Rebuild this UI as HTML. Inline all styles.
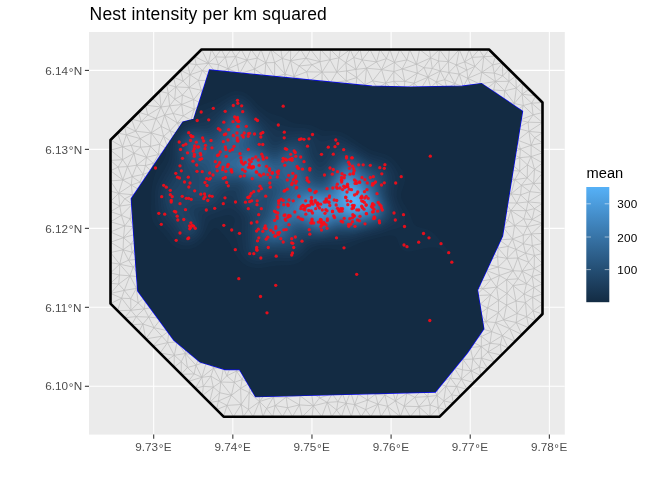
<!DOCTYPE html>
<html><head><meta charset="utf-8"><style>
html,body{margin:0;padding:0;background:#fff;}
svg{display:block}
text{font-family:"Liberation Sans",sans-serif;}
.ov,.ov2{position:absolute;left:0;top:0}
.ov{will-change:transform}
</style></head><body>
<svg width="672" height="480" viewBox="0 0 672 480">
<defs>
<clipPath id="cp"><rect x="89.0" y="32.0" width="475.79999999999995" height="402.6"/></clipPath>
<clipPath id="ci"><polygon points="209.5,70.0 372.0,86.2 410.5,87.1 462.0,86.2 481.5,83.6 522.5,111.3 502.5,236.0 477.5,290.0 483.8,328.8 467.5,352.5 435.3,392.0 255.5,396.7 239.5,369.5 225.0,369.5 200.0,362.0 173.8,340.0 137.8,291.0 136.2,270.0 131.3,198.8 183.0,122.0 193.8,119.3"/></clipPath>
<!--GRADS-->
</defs>
<rect width="672" height="480" fill="#fff"/>
<rect x="89.0" y="32.0" width="475.79999999999995" height="402.6" fill="#EBEBEB"/>
<g stroke="#fff" stroke-width="1.07" clip-path="url(#cp)">
<line x1="153.70" y1="32.0" x2="153.70" y2="434.6"/><line x1="232.83" y1="32.0" x2="232.83" y2="434.6"/><line x1="311.96" y1="32.0" x2="311.96" y2="434.6"/><line x1="391.09" y1="32.0" x2="391.09" y2="434.6"/><line x1="470.22" y1="32.0" x2="470.22" y2="434.6"/><line x1="549.35" y1="32.0" x2="549.35" y2="434.6"/>
<line x1="89.0" y1="70.40" x2="564.8" y2="70.40"/><line x1="89.0" y1="149.37" x2="564.8" y2="149.37"/><line x1="89.0" y1="228.34" x2="564.8" y2="228.34"/><line x1="89.0" y1="307.31" x2="564.8" y2="307.31"/><line x1="89.0" y1="386.28" x2="564.8" y2="386.28"/>
</g>
<polygon points="110.5,140.0 201.5,49.5 489.0,49.5 542.5,102.5 542.5,314.0 439.7,416.7 223.6,416.7 110.5,303.6" fill="#E6E6E6"/>
<path d="M434.5 170.4L451.7 159.0M324.7 225.9L323.8 240.9M388.3 100.0L379.2 115.4M166.5 84.3L173.5 77.3M469.2 49.5L479.1 49.5M438.6 61.0L440.3 71.0M289.4 383.0L281.0 366.9M423.6 323.7L436.6 338.9M353.4 155.3L350.8 170.7M337.3 93.1L354.2 96.7M519.7 171.1L527.2 177.9M479.1 49.5L489.0 49.5M495.6 322.5L509.7 328.7M528.8 327.7L521.9 334.5M259.5 401.6L248.5 409.5M350.8 170.7L353.3 184.0M466.6 280.9L448.5 282.4M365.8 351.5L364.6 367.8M282.5 115.1L295.8 100.0M372.4 382.2L380.1 365.8M268.6 142.4L281.2 128.9M444.7 79.7L447.0 88.2M521.9 334.5L515.1 341.4M243.2 416.7L233.4 416.7M177.1 341.9L167.6 342.6M146.5 157.3L153.3 163.3M394.8 283.4L393.7 298.4M283.7 171.9L295.0 183.6M517.1 313.5L525.5 302.5M495.5 81.5L502.7 75.9M297.7 340.8L308.2 352.2M233.4 416.7L223.6 416.7M283.9 325.9L294.9 310.8M428.0 77.2L430.7 87.7M206.7 361.4L201.8 377.3M393.7 298.4L395.0 311.8M481.3 346.5L490.0 343.3M159.3 181.0L168.1 186.0M356.0 86.3L354.2 96.7M452.5 357.7L450.1 340.1M322.6 212.1L338.5 211.9M297.7 354.9L309.7 365.8M353.8 297.1L367.1 285.0M164.6 307.9L171.0 297.9M110.5 293.4L121.6 298.2M339.2 158.7L350.8 170.7M422.1 226.5L421.7 239.5M503.5 186.7L502.1 178.1M352.9 142.2L367.0 143.9M201.3 90.3L211.3 95.9M135.7 131.2L140.3 138.6M464.2 185.6L463.6 198.2M522.1 94.2L516.3 88.1M352.5 353.9L364.6 367.8M342.5 393.7L335.4 383.4M449.9 172.8L450.0 184.4M185.0 310.8L199.3 309.8M399.8 49.5L406.9 59.9M366.3 338.1L380.4 339.5M379.6 241.8L392.0 225.9M481.4 358.1L479.5 367.1M196.0 172.9L210.0 173.0M428.0 77.2L432.3 68.5M161.0 171.1L164.6 163.3M378.9 284.0L393.7 298.4M477.6 228.6L476.9 241.2M430.1 383.6L427.7 396.6M356.0 86.3L364.1 93.1M213.3 269.6L224.4 253.8M199.2 185.7L211.0 185.2M132.2 252.3L130.9 244.1M317.7 385.2L323.5 367.2M202.4 70.5L217.2 74.3M384.9 395.0L387.6 406.3M517.7 140.2L520.4 149.0M481.4 336.5L479.5 328.2M479.3 114.8L492.0 114.3M516.8 203.1L526.2 210.7M210.6 323.0L226.7 338.1M331.6 416.7L336.6 410.0M408.5 225.2L421.7 239.5M354.0 382.8L345.3 380.4M389.4 381.4L380.5 387.4M132.2 252.3L123.1 249.8M424.8 100.6L435.6 116.5M227.9 324.3L238.2 323.8M470.0 313.0L474.4 321.3M420.0 211.7L436.0 211.5M185.3 353.5L181.3 361.6M145.8 338.9L154.0 327.7M308.7 383.1L294.5 365.3M331.6 416.7L327.2 402.4M255.9 283.0L267.8 269.2M199.0 117.7L190.9 120.1M534.5 208.6L526.2 210.7M220.8 382.0L210.9 376.2M519.8 157.7L519.7 171.1M293.9 76.6L309.0 81.3M378.5 184.1L380.9 201.0M254.8 298.1L266.5 283.2M181.2 374.3L181.3 361.6M532.6 297.3L533.1 310.9M157.9 228.1L155.8 242.8M231.4 395.3L227.0 405.4M188.3 381.4L181.2 374.3M394.9 91.2L384.9 92.3M407.5 116.6L408.5 127.6M485.9 321.7L498.5 312.5M174.1 367.2L174.3 355.3M155.8 242.8L154.9 256.9M198.5 269.5L198.0 284.2M517.3 128.3L510.8 120.7M420.3 89.9L430.7 87.7M531.1 145.3L531.1 156.6M523.3 243.7L531.4 233.9M472.8 359.1L470.3 347.5M323.3 311.2L336.4 312.1M198.0 284.2L198.2 297.5M240.6 388.4L249.6 383.0M542.5 122.6L528.9 131.4M238.8 284.4L240.3 295.3M448.4 61.6L456.3 64.9M144.3 308.8L138.2 303.0M353.0 242.2L365.9 239.3M170.9 242.3L184.3 226.5M227.4 283.6L227.9 297.5M339.6 254.8L350.8 255.4M185.3 241.9L197.7 254.1M450.9 269.6L448.5 282.4M194.2 109.0L190.9 120.1M110.5 262.7L119.7 264.2M378.4 172.9L393.3 171.3M253.4 242.2L253.7 255.8M241.0 82.1L241.6 102.8M504.7 90.8L516.3 88.1M364.8 184.7L378.5 184.1M437.0 395.5L438.3 383.2M508.6 161.7L511.7 153.2M132.4 194.7L131.3 185.0M495.6 322.5L502.4 335.6M392.7 366.7L409.9 368.1M503.8 101.0L494.9 103.3M198.5 269.5L212.8 253.8M280.3 158.1L283.7 171.9M370.0 49.5L362.2 59.9M437.0 395.5L438.3 407.7M278.6 382.1L281.0 366.9M394.1 212.7L408.5 225.2M210.8 212.8L224.7 213.1M286.2 397.1L299.4 404.9M422.3 295.8L434.5 296.9M142.9 324.0L136.2 316.6M297.7 340.8L297.7 354.9M436.6 184.3L449.9 172.8M498.2 267.0L499.4 275.5M238.3 172.9L255.8 172.1M190.0 74.8L189.1 87.5M241.2 404.5L240.6 388.4M422.3 310.8L435.2 309.1M521.4 185.3L511.1 193.9M372.4 382.2L380.5 387.4M161.0 171.1L151.3 171.3M466.6 280.9L465.8 296.7M285.0 74.1L290.5 60.7M180.5 70.4L187.5 63.4M280.8 390.3L293.4 390.7M452.4 98.8L440.1 95.2M254.7 226.4L269.3 228.8M281.9 142.1L296.9 143.7M317.2 90.1L322.0 83.4M130.0 218.8L133.4 226.8M495.7 56.1L502.4 62.8M239.4 73.9L247.1 60.2M110.5 252.5L123.1 249.8M269.3 170.9L283.7 171.9M480.6 251.1L465.7 253.7M207.8 121.2L199.0 117.7M378.0 404.2L387.6 406.3M476.6 97.4L484.0 91.2M480.6 251.1L484.1 243.1M474.4 321.3L479.5 328.2M310.6 49.5L320.0 61.7M294.9 325.9L310.7 326.9M392.0 113.9L392.2 128.1M309.8 197.8L324.6 184.7M508.2 348.2L501.4 355.1M280.9 354.9L297.7 354.9M239.4 73.9L254.4 69.1M379.3 130.1L379.8 143.4M142.5 250.5L138.8 259.1M408.7 309.3L406.7 326.0M124.7 225.9L123.5 237.7M435.7 242.1L436.4 256.7M129.9 275.8L118.7 284.1M362.9 384.1L372.4 382.2M339.7 185.6L350.6 200.0M521.4 185.3L520.6 194.9M133.2 267.1L129.9 275.8M345.3 380.4L350.5 391.9M389.4 381.4L372.4 382.2M118.6 193.4L124.8 198.8M168.1 186.0L185.5 185.3M353.2 338.2L364.1 325.7M507.1 258.4L498.1 248.1M507.1 144.6L511.7 153.2M466.0 213.9L462.1 225.9M379.8 253.7L393.9 239.9M252.8 337.9L254.8 354.0M389.9 49.5L386.4 58.6M379.2 115.4L392.2 128.1M322.1 72.1L322.0 83.4M385.7 83.1L377.6 88.2M378.6 267.0L394.7 255.8M430.7 87.7L440.1 95.2M201.3 90.3L189.1 87.5M280.3 253.9L283.9 268.8M376.5 61.9L366.5 68.2M509.1 69.4L508.9 81.3M213.1 297.4L227.4 283.6M395.0 311.8L406.7 326.0M507.1 258.4L517.8 258.0M223.6 416.7L227.0 405.4M147.8 115.1L156.0 118.6M311.1 158.1L309.8 170.2M212.3 157.0L226.9 169.7M217.2 74.3L230.6 82.2M241.9 256.8L253.4 242.2M245.4 371.4L242.2 379.5M339.4 339.7L339.9 354.5M193.6 99.6L181.7 104.5M437.5 129.9L451.7 129.3M233.7 355.6L241.9 338.3M231.2 49.5L241.2 49.5M200.2 356.1L201.8 347.2M323.1 352.2L323.5 367.2M241.9 115.3L253.4 130.2M252.8 309.7L269.2 309.2M400.4 416.7L387.6 406.3M511.1 193.9L505.4 202.7M513.0 270.7L499.4 275.5M500.5 163.2L492.8 158.2M146.4 265.4L140.0 276.8M452.4 98.8L454.9 83.6M535.8 95.9L542.5 102.5M527.3 226.6L514.6 225.6M252.1 325.0L267.3 324.8M262.9 416.7L259.5 401.6M300.5 86.6L294.8 92.5M317.7 385.2L308.7 383.1M542.5 102.5L542.5 112.6M467.1 389.3L460.3 396.2M463.0 359.4L471.2 370.9M242.2 379.5L240.6 388.4M508.6 161.7L500.5 163.2M283.1 239.4L296.5 226.9M471.2 370.9L479.5 367.1M460.3 396.2L453.4 403.0M511.1 193.9L516.8 203.1M174.1 367.2L167.1 360.1M184.5 283.5L185.2 297.5M342.5 393.7L350.5 391.9M309.7 144.7L322.9 142.9M183.7 145.3L198.4 142.6M168.1 186.0L169.2 197.7M420.5 144.6L421.7 155.4M167.1 360.1L160.0 353.1M280.8 390.3L269.0 383.9M110.5 140.0L122.5 146.8M225.6 102.3L227.0 114.8M471.5 87.2L463.2 86.7M323.4 337.6L339.4 339.7M436.6 338.9L434.4 352.3M542.5 263.6L534.2 268.6M309.0 81.3L308.5 92.2M239.4 311.9L238.2 323.8M522.2 271.2L513.0 270.7M352.5 269.6L366.9 270.7M168.0 284.8L184.5 283.5M249.3 392.6L240.6 388.4M469.1 331.0L479.5 328.2M477.9 141.8L479.6 157.4M378.6 353.0L393.3 340.0M340.3 49.5L338.9 57.8M456.6 346.7L450.1 340.1M269.7 256.8L267.8 269.2M150.5 146.4L159.7 144.2M488.0 352.0L481.4 358.1M230.6 82.2L241.0 82.1M353.5 283.6L367.1 285.0M380.9 201.0L394.6 197.7M345.3 380.4L337.4 366.7M453.4 403.0L443.8 400.9M379.0 214.0L394.1 212.7M198.4 142.6L212.3 157.0M293.9 76.6L299.1 66.0M408.5 127.6L420.5 127.4M227.3 144.6L240.7 129.4M350.2 49.5L345.8 62.7M436.0 211.5L450.1 212.7M132.1 176.7L131.3 185.0M444.7 79.7L454.9 83.6M211.3 242.7L226.6 241.9M409.7 143.5L420.5 144.6M151.3 171.3L145.4 165.6M423.6 323.7L437.3 323.7M183.7 145.3L175.7 156.6M322.1 72.1L330.1 59.7M436.3 226.4L451.3 228.2M181.7 104.5L169.6 105.9M451.7 129.3L462.2 113.1M239.5 197.2L252.5 200.3M209.5 402.6L219.7 392.7M420.5 337.6L436.6 338.9M282.5 416.7L275.1 405.6M146.4 265.4L149.0 256.3M253.7 255.8L267.8 269.2M514.3 112.9L523.3 105.5M375.5 394.3L367.6 390.8M240.5 213.6L253.1 214.0M338.4 283.2L339.5 296.6M189.8 128.6L198.8 130.6M213.6 368.1L221.0 358.4M283.7 171.9L296.2 172.3M308.1 228.9L324.7 225.9M507.0 293.4L498.5 300.3M266.3 199.4L283.0 198.1M401.8 98.9L407.5 116.6M136.4 288.4L130.7 298.6M133.2 267.1L128.6 260.2M297.7 354.9L308.2 352.2M151.6 191.2L168.1 186.0M185.3 353.5L174.3 355.3M339.2 158.7L353.4 155.3M264.3 88.5L268.0 102.5M258.6 388.1L257.7 376.8M505.5 169.9L508.6 161.7M519.7 171.1L527.5 164.9M282.4 87.8L281.3 100.0M224.2 200.5L224.7 213.1M324.0 269.5L338.4 283.2M234.4 382.4L242.2 379.5M310.5 239.7L324.7 225.9M122.5 146.8L134.0 153.2M465.8 296.7L470.0 313.0M497.2 201.2L505.4 202.7M255.9 155.4L255.8 172.1M171.5 212.6L184.3 226.5M523.3 243.7L525.6 253.3M409.7 49.5L406.9 59.9M209.0 112.4L211.9 104.4M452.4 98.8L463.2 86.7M353.7 211.3L364.5 227.9M199.2 185.7L210.0 173.0M267.2 353.3L266.8 368.0M138.8 233.3L123.5 237.7M378.4 297.2L393.7 298.4M159.7 144.2L163.6 136.3M268.0 102.5L270.0 114.2M469.1 331.0L467.8 339.4M325.1 381.4L337.4 366.7M379.8 143.4L392.9 156.9M161.2 126.4L151.2 132.9M295.3 254.1L296.4 268.8M210.6 323.0L227.9 324.3M146.1 295.8L144.3 308.8M408.5 225.2L422.1 226.5M274.6 62.5L282.3 58.5M280.2 284.7L282.6 297.0M210.0 173.0L227.4 186.0M502.1 178.1L514.9 179.7M179.1 326.6L197.8 324.7M282.4 87.8L290.6 84.5M322.4 171.5L324.6 184.7M264.8 76.0L264.3 88.5M285.0 74.1L274.6 62.5M240.7 129.4L253.8 143.4M528.9 131.4L534.7 137.7M324.6 184.7L324.5 198.2M240.3 295.3L254.8 298.1M110.5 221.8L124.7 225.9M494.5 361.9L488.0 352.0M251.1 49.5L261.0 49.5M321.8 416.7L327.2 402.4M384.9 395.0L380.5 387.4M228.2 68.8L218.5 64.7M166.5 84.3L187.5 63.4M353.6 113.5L351.9 127.9M522.1 94.2L523.3 105.5M364.5 298.8L366.4 312.7M475.9 267.9L480.6 251.1M254.8 354.0L267.2 353.3M461.4 379.2L462.4 369.8M366.4 312.7L364.1 325.7M161.0 107.0L168.3 93.3M167.1 360.1L174.3 355.3M282.5 115.1L295.5 127.1M140.0 182.1L141.5 191.4M235.6 56.6L247.1 60.2M272.7 416.7L262.9 416.7M283.9 268.8L295.3 254.1M393.9 239.9L394.7 255.8M446.6 409.9L439.7 416.7M136.7 165.2L132.1 176.7M294.3 296.4L311.0 311.1M286.2 397.1L280.8 390.3M110.5 180.9L110.5 170.7M309.8 170.2L322.4 171.5M421.6 171.7L422.7 183.3M481.4 358.1L481.3 346.5M152.9 346.0L145.8 338.9M326.7 95.4L311.3 101.2M131.2 145.4L140.3 138.6M124.3 290.4L121.6 298.2M138.8 233.3L147.6 238.0M502.4 62.8L494.2 73.1M495.5 81.5L493.7 89.9M337.8 267.7L350.8 255.4M450.8 115.5L451.7 129.3M195.3 388.4L201.8 377.3M364.8 184.7L378.4 172.9M408.1 382.1L409.9 368.1M232.0 363.7L223.5 367.8M110.5 252.5L119.7 264.2M308.5 92.2L311.3 101.2M140.0 182.1L143.1 174.4M313.4 405.8L311.3 392.3M338.0 113.9L353.6 113.5M542.5 203.2L528.1 201.9M516.8 203.1L505.4 202.7M185.3 353.5L187.4 367.5M208.3 63.3L215.5 56.9M366.3 199.9L378.5 184.1M477.2 172.8L476.1 184.7M507.1 258.4L513.0 270.7M313.4 405.8L319.6 397.9M351.8 312.8L366.4 312.7M219.7 84.9L225.6 102.3M409.7 158.5L421.6 171.7M392.2 128.1L407.5 116.6M164.6 163.3L169.0 150.5M475.9 267.9L483.1 262.8M422.3 310.8L434.5 296.9M416.5 64.2L424.0 67.7M202.4 395.5L213.3 387.1M173.1 113.5L164.6 115.1M482.8 288.8L491.0 279.4M421.4 390.4L430.1 383.6M239.1 228.9L253.4 242.2M529.9 191.6L533.6 183.5M138.5 112.2L147.8 115.1M542.5 122.6L533.1 114.8M528.1 122.2L519.6 120.2M436.4 256.7L449.4 253.2M320.5 49.5L330.4 49.5M306.0 58.2L311.9 64.7M269.3 170.9L280.3 158.1M169.0 150.5L175.7 156.6M145.5 105.2L161.0 107.0M491.0 279.4L496.7 287.1M290.5 60.7L282.3 58.5M306.7 71.8L311.9 64.7M145.5 105.2L147.8 115.1M280.9 354.9L297.7 340.8M503.6 319.8L509.7 328.7M395.5 326.6L393.3 340.0M542.5 162.9L531.1 156.6M375.5 394.3L367.6 400.1M241.2 404.5L248.5 409.5M310.7 254.7L325.3 255.7M423.1 256.6L423.3 269.3M514.3 103.5L516.3 88.1M110.5 160.4L122.6 159.7M144.7 203.7L155.6 211.0M385.7 83.1L393.9 71.5M283.5 212.8L296.1 213.2M196.6 226.0L197.9 241.5M311.8 269.5L324.0 269.5M377.6 88.2L364.9 84.7M339.7 185.6L353.3 184.0M253.1 416.7L248.5 409.5M471.5 87.2L465.5 98.8M448.2 200.4L450.1 212.7M168.1 186.0L184.4 169.6M136.7 165.2L134.0 153.2M227.7 225.4L226.6 241.9M494.9 103.3L493.7 89.9M286.2 397.1L275.1 405.6M338.9 200.9L350.6 200.0M490.6 294.9L498.5 300.3M450.1 212.7L451.3 228.2M248.3 86.9L241.0 82.1M169.2 197.7L185.5 185.3M421.4 390.4L422.6 379.0M253.8 183.2L252.5 200.3M512.5 239.0L523.3 243.7M495.6 322.5L491.7 331.6M365.7 129.0L379.3 130.1M490.7 129.2L492.3 142.9M387.6 406.3L395.5 400.9M506.6 305.1L503.6 319.8M199.8 211.0L212.2 199.5M498.1 248.1L489.7 249.2M281.3 100.0L282.5 115.1M356.8 77.6L364.9 84.7M201.3 90.3L198.5 80.4M379.8 324.6L395.5 326.6M212.3 157.0L225.5 158.5M542.5 303.9L533.1 310.9M515.8 76.0L508.9 81.3M187.4 367.5L181.3 361.6M138.6 219.5L137.6 210.6M196.6 226.0L210.8 212.8M282.5 115.1L281.2 128.9M317.2 90.1L309.0 81.3M216.5 409.6L227.0 405.4M294.3 283.4L294.3 296.4M193.2 339.6L193.7 349.5M198.5 269.5L211.9 282.7M407.8 256.2L423.1 256.6M241.9 115.3L255.2 115.0M150.5 146.4L151.2 132.9M294.3 296.4L294.9 310.8M227.0 114.8L241.9 115.3M131.7 324.8L136.2 316.6M324.5 198.2L322.6 212.1M466.0 213.9L477.6 228.6M207.8 121.2L227.0 114.8M406.9 270.1L423.3 269.3M507.0 293.4L513.0 285.6M514.3 112.9L519.6 120.2M436.6 184.3L448.2 200.4M127.5 166.6L122.8 180.0M390.6 416.7L387.6 406.3M152.5 98.2L159.5 91.3M322.6 212.1L324.7 225.9M238.2 323.8L252.1 325.0M430.7 87.7L436.4 81.9M444.7 79.7L440.3 71.0M161.4 318.3L154.0 327.7M234.4 382.4L220.8 382.0M531.7 103.2L523.3 105.5M459.3 49.5L469.2 49.5M253.1 416.7L259.5 401.6M180.5 70.4L190.0 74.8M270.0 114.2L282.5 115.1M498.1 248.1L499.4 239.9M480.8 375.6L479.5 367.1M352.9 142.2L353.4 155.3M508.9 81.3L504.7 90.8M444.7 79.7L436.4 81.9M394.9 91.2L393.8 81.3M422.6 379.0L409.9 368.1M535.6 320.8L528.8 327.7M245.4 371.4L244.3 357.2M317.2 90.1L308.5 92.2M282.6 297.0L294.3 296.4M199.3 309.8L197.8 324.7M322.1 72.1L330.3 82.8M366.3 338.1L365.8 351.5M366.5 68.2L356.0 69.4M463.0 359.4L454.0 367.4M442.6 371.9L434.5 374.8M484.1 243.1L477.6 228.6M460.3 396.2L451.8 394.9M175.6 144.7L175.7 156.6M510.9 210.5L514.6 225.6M282.3 310.8L294.9 310.8M309.8 197.8L322.6 212.1M226.3 309.9L227.9 324.3M136.4 288.4L146.1 295.8M454.0 367.4L462.4 369.8M158.4 154.5L159.7 144.2M526.7 316.7L533.1 310.9M519.8 157.7L527.5 164.9M138.8 331.9L124.6 317.7M394.9 91.2L404.0 90.0M161.0 107.0L164.6 115.1M310.4 213.3L324.7 225.9M532.3 245.5L531.4 233.9M339.4 130.7L352.9 142.2M412.6 95.4L407.5 116.6M252.4 269.1L255.9 283.0M542.5 273.7L534.2 268.6M345.8 62.7L353.8 57.6M456.3 64.9L448.9 72.5M353.5 283.6L366.9 270.7M122.5 146.8L122.6 159.7M171.0 297.9L184.5 283.5M198.8 130.6L213.4 130.1M339.4 142.6L353.4 155.3M130.9 310.3L138.2 303.0M182.3 135.9L198.4 142.6M452.4 98.8L465.5 98.8M202.4 70.5L196.2 64.6M200.2 356.1L211.9 354.1M184.5 283.5L198.0 284.2M300.1 395.8L301.5 387.3M461.4 379.2L471.2 370.9M198.4 142.6L211.8 142.8M198.5 80.4L190.0 74.8M199.3 309.8L213.1 297.4M353.2 338.2L365.8 351.5M283.0 198.1L283.5 212.8M451.7 159.0L449.9 172.8M503.8 101.0L493.7 89.9M510.8 120.7L492.0 114.3M198.9 158.9L212.3 157.0M409.7 143.5L420.5 127.4M414.1 83.2L404.8 81.4M235.6 56.6L237.5 64.6M311.3 101.2L309.4 113.6M436.3 226.4L450.1 212.7M408.8 184.5L422.3 198.0M392.9 156.9L409.7 143.5M409.0 353.1L423.8 354.6M345.8 62.7L356.0 69.4M194.5 56.5L201.5 49.5M213.1 297.4L226.3 309.9M159.3 181.0L151.3 171.3M249.3 392.6L248.5 409.5M341.5 416.7L336.6 410.0M409.3 198.0L420.0 211.7M323.3 295.9L323.3 311.2M437.6 284.6L449.0 297.4M240.5 213.6L252.5 200.3M146.3 224.7L133.4 226.8M201.5 49.5L211.4 49.5M211.5 311.7L227.9 324.3M510.8 120.7L506.2 110.9M509.1 69.4L515.8 76.0M300.1 395.8L286.2 397.1M241.9 256.8L252.4 269.1M272.7 416.7L275.1 405.6M323.3 311.2L325.2 324.8M350.5 228.6L353.0 242.2M463.0 359.4L472.8 359.1M495.7 56.1L492.7 64.9M515.8 76.0L522.4 82.6M317.7 385.2L319.6 397.9M494.5 361.9L487.7 368.8M353.0 242.2L350.8 255.4M379.5 158.8L378.4 172.9M486.2 270.4L491.0 279.4M203.3 386.3L210.9 376.2M507.8 220.3L503.4 227.6M269.8 211.6L283.0 198.1M487.7 368.8L480.8 375.6M501.4 355.1L488.0 352.0M292.4 416.7L299.4 404.9M378.4 172.9L378.5 184.1M395.5 351.5L392.7 366.7M155.6 211.0L157.9 228.1M283.1 239.4L295.3 254.1M195.3 388.4L188.3 381.4M273.5 397.0L266.5 408.5M124.5 126.1L135.7 131.2M523.3 243.7L515.9 249.4M346.1 403.3L337.9 401.7M542.5 213.3L534.5 208.6M420.1 283.4L422.3 295.8M146.1 295.8L138.2 303.0M323.0 283.2L338.4 283.2M197.7 254.1L198.5 269.5M171.5 212.6L185.2 211.3M467.8 78.4L479.7 83.9M361.1 416.7L365.7 409.6M342.5 393.7L332.2 393.8M311.9 295.6L323.3 295.9M168.3 93.3L169.6 105.9M542.5 263.6L534.4 255.4M117.5 133.0L126.3 134.8M502.1 178.1L496.5 191.7M422.3 295.8L422.3 310.8M451.3 228.2L449.6 240.2M156.5 294.6L171.0 297.9M152.9 346.0L167.6 342.6M169.9 226.8L184.3 226.5M243.2 416.7L241.2 404.5M161.0 171.1L159.3 181.0M428.0 77.2L417.3 73.1M483.1 262.8L498.2 267.0M338.7 225.3L350.5 228.6M449.6 240.2L449.4 253.2M447.0 88.2L454.9 83.6M300.1 395.8L313.4 405.8M197.9 241.5L211.3 242.7M439.4 49.5L448.4 61.6M378.6 353.0L392.7 366.7M492.8 158.2L491.8 169.5M254.7 226.4L253.4 242.2M360.1 49.5L362.2 59.9M376.6 97.3L377.6 88.2M132.2 204.3L124.8 198.8M211.0 185.2L227.4 186.0M521.4 185.3L529.9 191.6M240.3 295.3L255.9 283.0M496.5 191.7L491.8 169.5M421.4 390.4L427.7 396.6M202.4 70.5L208.3 63.3M434.5 170.4L449.9 172.8M227.3 144.6L241.3 157.2M239.9 144.6L253.8 143.4M170.1 130.7L182.3 135.9M138.6 219.5L133.4 226.8M166.5 84.3L180.5 70.4M354.2 96.7L366.6 113.6M252.7 101.2L268.0 102.5M406.9 393.4L408.1 382.1M121.6 298.2L130.7 298.6M510.8 120.7L505.9 131.6M308.7 383.1L311.3 392.3M122.8 180.0L118.1 167.1M110.5 180.9L122.8 180.0M451.7 129.3L465.2 142.4M185.3 353.5L185.9 344.0M254.8 354.0L268.9 339.2M138.8 233.3L130.9 244.1M202.7 104.1L193.6 99.6M376.6 97.3L379.2 115.4M217.2 74.3L211.6 80.5M267.2 298.7L280.2 284.7M522.4 82.6L516.3 88.1M221.0 358.4L223.5 367.8M110.5 293.4L118.7 284.1M519.7 171.1L508.6 161.7M282.4 87.8L294.8 92.5M506.6 305.1L507.0 293.4M268.6 142.4L281.9 142.1M171.5 212.6L169.9 226.8M168.9 331.0L162.0 336.2M419.6 49.5L430.6 57.9M159.3 181.0L148.8 183.0M177.3 122.9L182.3 135.9M160.0 353.1L174.3 355.3M450.6 378.2L456.6 386.5M300.5 86.6L309.0 81.3M445.9 386.2L456.6 386.5M542.5 132.7L534.7 137.7M522.2 271.2L532.1 276.6M161.4 318.3L164.6 307.9M169.9 226.8L170.9 242.3M283.9 325.9L294.9 325.9M156.8 199.6L168.1 186.0M300.6 49.5L306.0 58.2M213.4 130.1L211.8 142.8M130.9 310.3L136.2 316.6M435.6 116.5L437.5 129.9M309.1 183.9L322.4 171.5M510.9 210.5L526.2 210.7M211.8 142.8L212.3 157.0M517.3 128.3L528.1 122.2M122.6 159.7L118.1 167.1M325.4 130.1L339.4 130.7M542.5 152.9L531.1 156.6M259.5 401.6L266.5 408.5M241.6 102.8L241.9 115.3M162.0 336.2L167.6 342.6M337.4 325.9L352.0 326.4M233.7 355.6L226.7 338.1M185.0 310.8L197.8 324.7M351.8 312.8L364.5 298.8M379.6 241.8L393.9 239.9M146.1 295.8L156.5 294.6M375.5 394.3L372.4 382.2M252.8 309.7L252.1 325.0M189.1 87.5L175.8 86.9M280.8 49.5L282.3 58.5M485.9 321.7L479.5 328.2M364.2 256.9L379.8 253.7M194.2 109.0L181.7 104.5M141.2 121.6L156.0 118.6M434.5 374.8L423.8 354.6M505.4 202.7L496.5 191.7M110.5 283.2L119.5 275.0M409.2 170.3L421.6 171.7M300.6 49.5L290.5 60.7M281.0 226.2L283.1 239.4M321.8 416.7L313.4 405.8M395.6 186.0L408.8 184.5M274.6 62.5L265.8 62.8M231.4 395.3L220.8 382.0M430.1 405.1L427.7 396.6M310.4 130.0L309.7 144.7M119.7 264.2L129.9 275.8M183.2 115.9L194.2 109.0M158.4 154.5L153.3 163.3M421.8 114.2L435.6 116.5M497.7 256.8L498.2 267.0M211.9 282.7L226.2 269.9M239.1 239.9L253.4 242.2M211.4 49.5L221.3 49.5M175.6 144.7L169.0 150.5M325.2 324.8L323.4 337.6M517.3 128.3L528.9 131.4M146.4 265.4L154.9 256.9M535.8 95.9L531.7 103.2M136.4 288.4L129.9 275.8M201.3 90.3L211.6 80.5M221.3 49.5L231.2 49.5M522.4 82.6L529.1 89.2M323.4 337.6L323.1 352.2M350.8 255.4L352.5 269.6M254.8 298.1L267.2 298.7M467.8 339.4L450.1 340.1M466.6 280.9L471.1 288.0M529.1 89.2L535.8 95.9M494.9 103.3L492.0 114.3M267.1 241.3L283.1 239.4M248.3 86.9L264.3 88.5M480.8 375.6L474.0 382.5M352.5 269.6L353.5 283.6M483.1 262.8L489.7 249.2M144.7 203.7L156.8 199.6M283.5 212.8L294.0 198.9M294.8 92.5L281.3 100.0M521.4 185.3L514.9 179.7M311.8 269.5L325.3 255.7M474.0 382.5L467.1 389.3M495.5 81.5L484.0 91.2M296.9 143.7L309.7 144.7M274.6 76.9L282.4 87.8M380.9 201.0L379.0 214.0M410.2 416.7L418.8 406.6M542.5 303.9L532.6 297.3M531.7 103.2L522.1 94.2M309.4 113.6L325.8 113.0M480.6 251.1L476.9 241.2M283.9 268.8L294.3 283.4M354.0 382.8L364.6 367.8M138.5 112.2L141.2 121.6M469.2 49.5L464.6 61.9M181.2 374.3L174.1 367.2M310.7 326.9L323.4 337.6M408.5 127.6L409.7 143.5M494.9 103.3L506.2 110.9M338.5 211.9L350.6 200.0M170.9 242.3L185.3 241.9M435.2 309.1L437.3 323.7M365.7 129.0L379.2 115.4M470.0 313.0L480.4 304.1M404.8 81.4L393.9 71.5M423.6 323.7L420.5 337.6M448.4 61.6L448.9 72.5M171.2 253.5L185.3 255.8M367.0 143.9L379.3 130.1M542.5 233.4L531.4 233.9M532.3 245.5L525.6 253.3M503.5 186.7L514.9 179.7M209.5 402.6L124.6 317.7M372.4 382.2L364.6 367.8M135.7 131.2L151.2 132.9M198.5 269.5L213.3 269.6M380.4 339.5L395.5 326.6M137.6 210.6L130.0 218.8M412.6 95.4L420.3 89.9M542.5 314.0L533.1 310.9M177.1 341.9L183.2 335.8M293.9 76.6L306.7 71.8M364.1 93.1L354.2 96.7M445.9 386.2L443.8 400.9M227.0 114.8L241.6 102.8M132.1 176.7L143.1 174.4M241.2 404.5L249.3 392.6M198.0 284.2L211.9 282.7M132.4 194.7L118.6 193.4M345.8 62.7L346.6 70.9M513.0 285.6L516.0 301.1M308.1 228.9L310.5 239.7M514.3 103.5L523.3 105.5M526.5 283.7L524.0 294.1M465.7 130.4L479.3 114.8M345.0 89.7L330.3 82.8M437.0 201.0L448.2 200.4M535.6 320.8L533.1 310.9M280.8 49.5L290.7 49.5M372.4 382.2L367.6 390.8M406.7 326.0L420.5 337.6M177.3 122.9L190.9 120.1M339.2 158.7L336.6 170.6M139.7 242.8L142.5 250.5M492.5 226.4L479.1 213.8M523.8 218.9L514.6 225.6M241.9 338.3L252.1 325.0M124.5 126.1L166.5 84.3M542.5 142.8L542.5 152.9M255.1 80.1L254.4 69.1M352.5 353.9L351.8 365.5M542.5 243.5L532.3 245.5M400.4 416.7L404.2 406.2M269.9 128.2L282.5 115.1M254.4 69.1L257.3 58.1M463.0 359.4L456.6 346.7M269.3 170.9L280.1 184.7M429.9 416.7L420.1 416.7M164.6 307.9L172.8 318.8M528.6 262.2L517.8 258.0M378.9 284.0L378.4 297.2M146.5 157.3L140.5 147.2M531.1 156.6L534.5 169.3M268.8 185.1L283.0 198.1M122.8 180.0L118.6 193.4M170.9 242.3L171.2 253.5M187.5 63.4L196.2 64.6M280.9 354.9L294.5 365.3M420.1 416.7L410.2 416.7M474.0 382.5L461.4 379.2M138.8 331.9L131.7 324.8M453.4 403.0L451.8 394.9M317.7 385.2L309.7 365.8M285.0 74.1L274.6 76.9M310.4 213.3L322.6 212.1M171.2 253.5L170.3 269.2M157.9 228.1L171.5 212.6M131.7 324.8L124.6 317.7M424.8 100.6L421.8 114.2M226.9 169.7L227.4 186.0M183.1 81.0L175.8 86.9M339.4 142.6L352.9 142.2M220.8 382.0L219.7 392.7M210.0 173.0L211.0 185.2M174.7 99.2L168.3 93.3M500.4 344.4L502.4 335.6M434.1 156.1L434.5 170.4M253.4 130.2L253.8 143.4M147.6 238.0L155.8 242.8M528.6 262.2L522.2 271.2M514.3 103.5L514.3 112.9M353.2 338.2L366.3 338.1M498.5 312.5L498.5 300.3M240.7 129.4L239.9 144.6M223.6 416.7L110.5 303.6M479.1 213.8L477.6 228.6M306.0 58.2L290.5 60.7M339.9 354.5L352.5 353.9M364.1 93.1L364.9 84.7M465.7 130.4L465.2 142.4M378.6 267.0L393.7 268.7M503.8 101.0L506.2 110.9M409.0 353.1L420.5 337.6M367.1 285.0L378.9 284.0M461.4 379.2L454.0 367.4M523.3 235.1L514.6 225.6M480.4 304.1L480.6 313.1M409.3 198.0L422.3 198.0M356.0 86.3L346.2 80.8M481.9 72.3L494.2 73.1M437.6 284.6L448.5 282.4M262.9 416.7L266.5 408.5M198.5 80.4L189.1 87.5M211.5 311.7L226.3 309.9M406.2 211.2L420.0 211.7M445.9 386.2L450.6 378.2M437.5 129.9L451.0 142.3M255.1 80.1L264.8 76.0M232.0 363.7L244.3 357.2M481.4 336.5L469.1 331.0M238.3 268.7L252.4 269.1M145.5 105.2L166.5 84.3M437.6 142.2L451.7 159.0M526.7 316.7L525.5 302.5M238.8 284.4L255.9 283.0M124.6 317.7L130.9 310.3M336.6 410.0L337.9 401.7M244.3 357.2L254.8 354.0M381.6 69.6L394.4 62.4M283.1 239.4L297.0 241.6M132.2 252.3L142.5 250.5M542.5 283.8L532.1 276.6M332.2 393.8L319.6 397.9M267.8 269.2L283.9 268.8M146.3 224.7L145.5 213.0M168.9 331.0L161.4 318.3M394.1 212.7L392.0 225.9M311.9 295.6L323.0 283.2M245.4 371.4L236.5 371.1M308.7 383.1L301.5 387.3M131.5 119.1L135.7 131.2M296.2 172.3L309.8 170.2M257.7 376.8L269.0 383.9M156.5 294.6L168.0 284.8M402.1 69.0L404.8 81.4M132.2 252.3L139.7 242.8M121.4 215.3L130.0 218.8M338.7 225.3L353.7 211.3M320.0 61.7L322.1 72.1M213.3 269.6L211.9 282.7M170.1 130.7L164.6 115.1M142.5 250.5L147.6 238.0M233.4 416.7L241.2 404.5M339.1 242.0L350.5 228.6M117.6 310.7L121.6 298.2M239.1 228.9L239.1 239.9M164.6 307.9L156.4 307.0M281.9 142.1L280.3 158.1M449.3 49.5L448.4 61.6M507.0 293.4L516.0 301.1M365.6 170.7L379.5 158.8M494.2 73.1L502.7 75.9M524.0 294.1L533.9 287.5M269.3 170.9L268.8 185.1M309.0 81.3L306.7 71.8M152.9 346.0L162.0 336.2M379.0 214.0L392.0 225.9M327.2 402.4L332.2 393.8M294.9 325.9L297.7 340.8M177.3 122.9L164.6 115.1M227.3 144.6L239.9 144.6M199.3 309.8L210.6 323.0M280.9 354.9L281.0 366.9M211.3 242.7L224.4 253.8M459.3 49.5L448.4 61.6M409.7 143.5L421.7 155.4M323.8 240.9L325.3 255.7M408.9 297.6L420.1 283.4M317.7 385.2L325.1 381.4M272.1 85.1L282.4 87.8M436.3 226.4L449.6 240.2M310.7 254.7L311.8 269.5M451.7 129.3L465.7 130.4M293.9 76.6L290.5 60.7M420.5 337.6L434.4 352.3M201.8 377.3L203.3 386.3M300.6 49.5L310.6 49.5M140.5 147.2L134.0 153.2M451.0 142.3L465.2 142.4M356.0 69.4L353.8 57.6M339.7 185.6L338.9 200.9M401.8 98.9L404.0 90.0M240.5 213.6L254.7 226.4M428.0 77.2L420.3 89.9M131.2 145.4L140.5 147.2M523.8 218.9L526.2 210.7M533.9 287.5L532.1 276.6M435.7 242.1L449.6 240.2M472.8 359.1L471.2 370.9M310.6 49.5L320.5 49.5M542.5 162.9L542.5 173.0M454.0 367.4L452.5 357.7M185.3 353.5L195.9 365.2M465.8 296.7L449.0 297.4M269.8 155.2L281.9 142.1M429.5 49.5L430.6 57.9M379.2 115.4L379.3 130.1M542.5 173.0L542.5 183.1M410.2 416.7L400.4 416.7M266.8 368.0L281.0 366.9M534.2 268.6L534.4 255.4M138.6 219.5L145.5 213.0M281.8 337.4L294.9 325.9M310.6 49.5L306.0 58.2M327.2 402.4L319.6 397.9M395.0 311.8L395.5 326.6M325.4 130.1L338.0 113.9M123.5 237.7L133.4 226.8M400.4 416.7L390.6 416.7M119.8 206.1L124.8 198.8M231.2 49.5L235.6 56.6M429.9 416.7L418.8 406.6M296.4 268.8L311.8 269.5M199.0 197.3L199.8 211.0M310.5 239.7L323.8 240.9M421.7 239.5L423.1 256.6M337.4 325.9L351.8 312.8M346.1 403.3L350.5 391.9M117.6 310.7L110.5 303.6M542.5 283.8L533.9 287.5M211.4 49.5L208.3 63.3M308.5 92.2L294.8 92.5M110.5 140.0L110.5 150.2M168.9 331.0L172.8 318.8M336.6 170.6L350.8 170.7M285.0 74.1L282.4 87.8M434.5 374.8L438.3 383.2M258.6 388.1L249.3 392.6M339.4 339.7L352.0 326.4M119.5 275.0L129.9 275.8M450.0 184.4L448.2 200.4M202.4 70.5L190.0 74.8M432.3 68.5L430.6 57.9M351.8 365.5L364.6 367.8M146.5 157.3L145.4 165.6M466.6 280.9L477.2 281.7M367.6 400.1L367.6 390.8M463.8 158.4L463.1 171.2M494.5 361.9L481.4 358.1M366.6 113.6L379.2 115.4M159.5 91.3L168.3 93.3M345.0 89.7L337.3 93.1M132.2 204.3L130.0 218.8M199.0 197.3L211.0 185.2M234.4 382.4L236.5 371.1M356.0 69.4L356.8 77.6M381.3 309.7L395.0 311.8M226.6 241.9L239.1 228.9M470.3 347.5L481.3 346.5M272.1 85.1L264.3 88.5M420.5 127.4L435.6 116.5M220.8 382.0L226.8 375.8M465.7 253.7L476.9 241.2M212.9 340.4L226.7 338.1M247.1 60.2L237.5 64.6M240.3 295.3L252.8 309.7M408.5 240.6L421.7 239.5M542.5 102.5L531.7 103.2M437.3 323.7L451.9 324.6M456.6 386.5L451.8 394.9M225.6 102.3L241.6 102.8M166.5 84.3L194.5 56.5M110.5 140.0L166.5 84.3M459.2 74.1L448.9 72.5M542.5 233.4L542.5 243.5M254.8 354.0L266.8 368.0M239.4 311.9L252.8 309.7M487.7 368.8L479.5 367.1M510.9 210.5L505.4 202.7M296.9 143.7L310.4 130.0M542.5 112.6L531.7 103.2M517.8 258.0L513.0 270.7M124.3 290.4L118.7 284.1M161.4 318.3L172.8 318.8M283.9 268.8L296.4 268.8M158.4 154.5L150.5 146.4M503.6 319.8L498.5 312.5M295.3 159.0L309.7 144.7M310.7 326.9L325.2 324.8M332.2 393.8L337.9 401.7M490.8 238.3L477.6 228.6M198.2 297.5L199.3 309.8M493.7 89.9L484.0 91.2M123.1 249.8L128.6 260.2M309.6 339.7L323.4 337.6M156.8 199.6L171.5 212.6M506.6 279.6L513.0 270.7M510.9 210.5L516.8 203.1M110.5 242.2L110.5 232.0M171.2 253.5L185.3 241.9M124.3 290.4L130.7 298.6M227.9 297.5L226.3 309.9M393.8 81.3L393.9 71.5M499.4 239.9L503.4 227.6M337.8 267.7L352.5 269.6M202.4 395.5L203.3 386.3M228.2 68.8L239.4 73.9M346.2 80.8L356.8 77.6M211.9 354.1L201.8 347.2M286.2 397.1L273.5 397.0M269.0 383.9L266.4 392.2M338.0 113.9L351.9 127.9M253.7 255.8L252.4 269.1M366.3 199.9L380.9 201.0M456.6 346.7L467.8 339.4M241.9 256.8L238.3 268.7M466.6 280.9L463.4 269.1M490.8 238.3L489.7 249.2M358.4 394.3L350.5 391.9M351.8 312.8L364.1 325.7M313.4 405.8L299.4 404.9M283.7 171.9L280.1 184.7M161.4 318.3L148.7 317.1M179.1 326.6L172.8 318.8M496.5 191.7L479.0 198.2M392.2 128.1L408.5 127.6M266.3 199.4L269.8 211.6M514.3 103.5L504.7 90.8M401.8 98.9L392.0 113.9M326.7 95.4L322.0 83.4M297.7 354.9L294.5 365.3M183.2 115.9L190.9 120.1M392.5 142.4L409.7 143.5M406.7 326.0L423.6 323.7M264.3 88.5L252.7 101.2M485.9 321.7L487.6 308.0M227.4 186.0L238.5 186.8M324.0 269.5L323.0 283.2M409.0 338.0L420.5 337.6M364.1 93.1L377.6 88.2M436.4 256.7L450.9 269.6M122.8 180.0L131.3 185.0M140.0 182.1L148.8 183.0M131.5 119.1L166.5 84.3M323.0 283.2L323.3 295.9M350.6 200.0L353.7 211.3M434.0 269.7L448.5 282.4M542.5 253.6L532.3 245.5M164.6 115.1L169.6 105.9M449.9 172.8L463.1 171.2M201.8 377.3L210.9 376.2M490.8 238.3L499.4 239.9M268.8 185.1L280.1 184.7M138.8 331.9L142.9 324.0M169.0 150.5L163.6 136.3M353.7 211.3L350.5 228.6M466.6 280.9L475.9 267.9M490.8 238.3L484.1 243.1M320.0 61.7L330.1 59.7M325.1 381.4L323.5 367.2M194.5 56.5L196.2 64.6M501.4 355.1L494.5 361.9M281.0 366.9L294.5 365.3M330.3 82.8L322.0 83.4M503.5 186.7L511.1 193.9M302.2 416.7L299.4 404.9M379.8 143.4L379.5 158.8M283.5 212.8L296.5 226.9M482.8 288.8L490.6 294.9M269.0 383.9L278.6 382.1M209.5 402.6L202.4 395.5M311.8 269.5L323.0 283.2M506.6 305.1L498.5 312.5M393.3 340.0L395.5 351.5M324.9 156.7L339.4 142.6M110.5 170.7L118.1 167.1M327.2 402.4L337.9 401.7M147.6 238.0L157.9 228.1M354.7 404.6L350.5 391.9M485.1 99.4L493.7 89.9M209.0 112.4L207.8 121.2M423.3 269.3L420.1 283.4M160.0 353.1L167.6 342.6M273.5 397.0L266.4 392.2M245.4 371.4L253.0 365.3M169.2 197.7L184.4 200.3M512.5 239.0L503.4 227.6M505.5 169.9L502.1 178.1M345.8 62.7L338.9 57.8M228.2 68.8L225.4 57.2M471.5 87.2L479.7 83.9M199.8 211.0L210.8 212.8M367.0 143.9L379.5 158.8M211.6 80.5L219.7 84.9M231.4 395.3L234.4 382.4M463.2 86.7L454.9 83.6M161.4 318.3L156.4 307.0M482.8 288.8L496.7 287.1M196.6 226.0L212.1 225.6M376.6 97.3L388.3 100.0M529.9 191.6L528.1 201.9M407.8 256.2L423.3 269.3M492.3 142.9L492.8 158.2M378.0 404.2L384.9 395.0M507.1 258.4L497.7 256.8M227.0 114.8L240.7 129.4M437.6 142.2L451.0 142.3M241.2 49.5L251.1 49.5M481.4 336.5L490.0 343.3M406.9 270.1L420.1 283.4M465.7 130.4L477.9 141.8M238.8 284.4L252.4 269.1M152.5 98.2L166.5 84.3M494.2 73.1L492.7 64.9M515.9 249.4L525.6 253.3M452.5 357.7L443.2 362.6M353.8 297.1L351.8 312.8M292.4 416.7L287.6 407.7M408.1 382.1L392.7 366.7M177.1 341.9L168.9 331.0M354.7 404.6L365.7 409.6M241.9 338.3L254.8 354.0M515.8 76.0L516.3 88.1M280.8 390.3L289.4 383.0M402.1 69.0L394.4 62.4M527.3 226.6L523.8 218.9M379.9 225.3L379.6 241.8M278.6 382.1L266.8 368.0M282.6 297.0L294.9 310.8M453.4 403.0L446.6 409.9M275.1 405.6L273.5 397.0M475.9 267.9L477.2 281.7M412.6 95.4L404.0 90.0M379.6 241.8L379.8 253.7M380.8 416.7L378.0 404.2M484.1 243.1L476.9 241.2M409.7 158.5L409.2 170.3M375.5 394.3L378.0 404.2M529.9 191.6L520.6 194.9M151.6 191.2L141.5 191.4M169.2 197.7L171.5 212.6M477.2 281.7L482.8 288.8M524.0 294.1L516.0 301.1M211.9 354.1L221.0 358.4M160.0 353.1L152.9 346.0M507.1 144.6L505.9 131.6M308.2 352.2L323.1 352.2M356.0 69.4L346.6 70.9M127.5 166.6L122.6 159.7M409.2 170.3L408.8 184.5M325.3 255.7L339.1 242.0M175.6 144.7L163.6 136.3M123.1 249.8L123.5 237.7M423.8 354.6L420.3 367.5M414.8 397.3L427.7 396.6M309.7 365.8L323.5 367.2M370.9 416.7L378.0 404.2M157.9 228.1L170.9 242.3M117.5 133.0L122.5 146.8M194.5 56.5L208.3 63.3M353.3 184.0L365.6 170.7M230.6 82.2L241.6 102.8M449.0 297.4L448.0 310.2M148.7 317.1L154.0 327.7M110.5 303.6L121.6 298.2M171.0 297.9L185.2 297.5M227.9 324.3L226.7 338.1M198.8 130.6L211.8 142.8M480.4 304.1L490.6 294.9M339.5 296.6L353.8 297.1M481.4 336.5L491.7 331.6M448.0 310.2L451.9 324.6M255.9 283.0L254.8 298.1M110.5 201.4L118.6 193.4M199.3 309.8L211.5 311.7M184.4 200.3L199.0 197.3M364.5 227.9L379.9 225.3M464.6 61.9L472.1 57.4M428.0 77.2L440.3 71.0M471.6 302.8L475.8 295.6M179.1 326.6L183.2 335.8M145.8 338.9L162.0 336.2M151.3 171.3L153.3 163.3M198.9 158.9L210.0 173.0M254.8 298.1L252.8 309.7M392.9 156.9L409.7 158.5M409.0 353.1L420.3 367.5M459.3 49.5L456.3 64.9M381.6 69.6L385.7 83.1M212.8 253.8L224.4 253.8M428.0 77.2L436.4 81.9M533.1 114.8L528.1 122.2M490.6 294.9L496.7 287.1M479.6 157.4L492.3 142.9M487.6 308.0L498.5 312.5M283.5 212.8L281.0 226.2M200.2 356.1L193.7 349.5M247.1 60.2L257.3 58.1M423.1 256.6L435.7 242.1M322.1 72.1L306.7 71.8M309.4 113.6L310.4 130.0M224.7 213.1L240.5 213.6M232.0 363.7L236.5 371.1M409.9 368.1L420.3 367.5M465.8 296.7L448.5 282.4M346.2 80.8L346.6 70.9M136.4 288.4L149.9 282.6M266.8 368.0L280.9 354.9M300.1 395.8L311.3 392.3M495.5 81.5L494.2 73.1M150.5 146.4L140.5 147.2M269.8 211.6L283.5 212.8M168.0 284.8L171.0 297.9M512.5 239.0L499.4 239.9M532.3 245.5L534.4 255.4M296.4 268.8L310.7 254.7M274.6 62.5L274.6 76.9M475.9 267.9L463.4 269.1M228.2 68.8L230.6 82.2M269.3 228.8L281.0 226.2M295.9 114.8L309.4 113.6M241.2 49.5L235.6 56.6M118.6 193.4L131.3 185.0M527.2 177.9L527.5 164.9M212.2 199.5L210.8 212.8M420.1 416.7L418.8 406.6M189.8 128.6L182.3 135.9M295.5 127.1L310.4 130.0M210.8 212.8L212.1 225.6M311.9 295.6L323.3 311.2M542.5 293.9L533.9 287.5M241.3 157.2L238.3 172.9M280.8 390.3L273.5 397.0M259.5 401.6L249.3 392.6M311.0 311.1L325.2 324.8M440.1 95.2L450.8 115.5M508.2 348.2L500.4 344.4M238.3 172.9L238.5 186.8M327.2 402.4L313.4 405.8M239.4 73.9L237.5 64.6M351.9 127.9L365.7 129.0M535.8 95.9L522.1 94.2M339.1 242.0L350.8 255.4M270.0 114.2L269.9 128.2M463.0 359.4L470.3 347.5M364.1 325.7L379.8 324.6M213.3 387.1L203.3 386.3M234.4 382.4L240.6 388.4M486.2 270.4L498.2 267.0M487.7 368.8L481.4 358.1M381.3 309.7L393.7 298.4M272.1 85.1L281.3 100.0M227.0 405.4L218.4 401.0M166.5 84.3L168.3 93.3M282.6 297.0L282.3 310.8M193.6 99.6L182.4 95.1M376.6 97.3L364.1 93.1M394.7 255.8L407.8 256.2M168.9 331.0L167.6 342.6M197.7 254.1L212.8 253.8M245.4 371.4L249.6 383.0M470.3 347.5L456.6 346.7M507.1 258.4L498.2 267.0M282.3 310.8L283.9 325.9M309.8 197.8L310.4 213.3M437.3 323.7L448.0 310.2M361.1 416.7L354.7 404.6M124.3 290.4L136.4 288.4M422.7 183.3L436.6 184.3M182.4 95.1L181.7 104.5M261.0 49.5L270.9 49.5M421.4 390.4L414.8 397.3M190.0 74.8L196.2 64.6M310.4 213.3L308.1 228.9M339.4 130.7L339.4 142.6M226.3 309.9L239.4 311.9M408.9 297.6L422.3 310.8M239.4 73.9L230.6 82.2M463.8 158.4L477.2 172.8M503.6 319.8L516.2 322.5M509.7 328.7L516.2 322.5M270.9 49.5L280.8 49.5M542.5 122.6L542.5 132.7M489.0 49.5L483.8 56.7M339.4 142.6L339.2 158.7M267.2 298.7L282.6 297.0M352.0 326.4L353.2 338.2M511.7 153.2L503.3 155.4M255.2 115.0L270.0 114.2M542.5 132.7L542.5 142.8M353.2 338.2L352.5 353.9M379.8 253.7L378.6 267.0M464.6 61.9L466.9 70.0M251.1 49.5L247.1 60.2M400.4 416.7L395.5 400.9M439.7 416.7L429.9 416.7M156.8 199.6L169.2 197.7M269.2 309.2L282.6 297.0M296.1 213.2L310.4 213.3M378.6 267.0L378.9 284.0M445.9 386.2L451.8 394.9M508.9 81.3L502.7 75.9M408.8 184.5L409.3 198.0M309.1 183.9L324.6 184.7M145.8 338.9L138.8 331.9M325.4 130.1L339.4 142.6M409.3 198.0L406.2 211.2M195.3 388.4L203.3 386.3M495.5 81.5L481.9 72.3M479.7 83.9L484.0 91.2M350.2 49.5L353.8 57.6M437.5 129.9L437.6 142.2M174.1 367.2L124.6 317.7M140.3 138.6L140.5 147.2M437.0 395.5L443.8 400.9M496.5 191.7L476.1 184.7M532.6 297.3L525.5 302.5M177.3 122.9L173.1 113.5M364.2 256.9L378.6 267.0M193.2 339.6L185.9 344.0M181.2 374.3L187.4 367.5M434.5 374.8L420.3 367.5M392.5 142.4L408.5 127.6M366.9 270.7L378.9 284.0M399.9 387.2L392.6 390.9M395.6 186.0L409.3 198.0M227.4 186.0L238.3 172.9M202.7 104.1L199.0 117.7M189.1 87.5L193.6 99.6M394.6 197.7L406.2 211.2M193.2 339.6L197.8 324.7M463.6 198.2L476.1 184.7M211.9 282.7L227.4 283.6M300.5 86.6L293.9 76.6M521.4 185.3L527.2 177.9M476.1 184.7L491.8 169.5M270.9 49.5L274.6 62.5M461.4 379.2L456.6 386.5M233.4 416.7L227.0 405.4M434.0 269.7L450.9 269.6M226.6 241.9L241.9 256.8M420.1 283.4L434.0 269.7M110.5 201.4L119.8 206.1M492.5 226.4L503.4 227.6M506.6 279.6L499.4 275.5M526.5 283.7L532.1 276.6M252.5 200.3L266.3 199.4M542.5 193.1L542.5 203.2M450.0 184.4L463.1 171.2M158.4 154.5L169.0 150.5M364.7 158.3L365.6 170.7M193.2 339.6L201.8 347.2M183.1 81.0L190.0 74.8M231.4 395.3L218.4 401.0M451.3 228.2L463.6 241.9M131.7 324.8L142.9 324.0M189.8 128.6L190.9 120.1M381.6 69.6L386.4 58.6M144.3 308.8L148.7 317.1M485.1 99.4L492.0 114.3M414.1 83.2L417.3 73.1M267.1 241.3L280.3 253.9M175.6 144.7L170.1 130.7M380.8 416.7L370.9 416.7M198.5 80.4L211.6 80.5M477.2 281.7L491.0 279.4M485.1 99.4L476.6 97.4M378.6 353.0L380.1 365.8M542.5 273.7L532.1 276.6M183.8 157.6L184.4 169.6M513.0 285.6L526.5 283.7M110.5 293.4L110.5 283.2M506.6 279.6L513.0 285.6M335.4 383.4L332.2 393.8M406.1 281.7L408.9 297.6M326.7 95.4L330.3 82.8M311.3 282.5L323.0 283.2M428.0 77.2L424.0 67.7M517.7 140.2L505.9 131.6M184.4 169.6L185.5 185.3M295.3 159.0L309.8 170.2M110.5 160.4L118.1 167.1M248.3 86.9L241.6 102.8M212.1 225.6L211.3 242.7M130.7 298.6L130.9 310.3M528.6 262.2L525.6 253.3M511.1 193.9L520.6 194.9M183.7 145.3L175.6 144.7M436.0 211.5L436.3 226.4M338.5 211.9L353.7 211.3M211.3 242.7L212.8 253.8M354.2 96.7L353.6 113.5M238.5 186.8L239.5 197.2M517.8 258.0L525.6 253.3M324.7 225.9L338.7 225.3M152.9 346.0L124.6 317.7M436.3 226.4L435.7 242.1M542.5 223.4L527.3 226.6M436.4 81.9L440.3 71.0M171.2 253.5L182.1 267.1M367.0 143.9L379.8 143.4M132.2 204.3L121.4 215.3M239.5 197.2L240.5 213.6M376.6 97.3L366.6 113.6M353.4 155.3L364.7 158.3M404.2 406.2L414.8 397.3M326.7 95.4L338.0 113.9M463.6 198.2L466.0 213.9M170.3 269.2L184.5 283.5M161.2 126.4L163.6 136.3M442.6 371.9L438.3 383.2M380.4 339.5L393.3 340.0M474.4 321.3L480.6 313.1M211.9 104.4L227.0 114.8M268.6 142.4L269.8 155.2M168.9 331.0L179.1 326.6M365.8 351.5L378.6 353.0M429.9 416.7L438.3 407.7M213.3 387.1L210.9 376.2M198.0 284.2L213.1 297.4M283.9 325.9L281.8 337.4M507.8 220.3L514.6 225.6M465.7 130.4L479.2 128.1M394.8 283.4L406.1 281.7M213.6 368.1L211.9 354.1M225.0 130.2L240.7 129.4M491.7 331.6L502.4 335.6M161.0 171.1L184.4 169.6M490.6 294.9L475.8 295.6M485.1 99.4L479.3 114.8M469.1 331.0L450.1 340.1M434.4 352.3L450.1 340.1M465.2 142.4L477.9 141.8M492.5 226.4L477.6 228.6M389.4 381.4L399.9 387.2M479.2 128.1L490.7 129.2M410.2 416.7L404.2 406.2M188.3 381.4L194.2 373.9M124.6 317.7L136.2 316.6M241.9 338.3L252.8 337.9M308.5 92.2L295.8 100.0M527.3 226.6L531.4 233.9M174.7 99.2L181.7 104.5M534.2 268.6L532.1 276.6M310.5 239.7L310.7 254.7M226.7 338.1L241.9 338.3M450.8 115.5L462.2 113.1M430.1 405.1L418.8 406.6M498.2 214.2L510.9 210.5M282.5 416.7L287.6 407.7M269.9 128.2L281.2 128.9M531.1 156.6L520.4 149.0M144.3 308.8L156.4 307.0M290.7 49.5L300.6 49.5M507.1 144.6L492.3 142.9M336.6 170.6L339.7 185.6M532.1 219.6L526.2 210.7M124.3 290.4L129.9 275.8M174.7 99.2L169.6 105.9M542.5 152.9L542.5 162.9M268.9 339.2L281.8 337.4M185.3 255.8L182.1 267.1M526.5 283.7L533.9 287.5M236.5 371.1L226.8 375.8M309.7 365.8L323.1 352.2M182.4 95.1L175.8 86.9M157.9 228.1L169.9 226.8M297.0 241.6L310.5 239.7M110.5 150.2L122.5 146.8M210.6 323.0L212.9 340.4M517.1 313.5L516.2 322.5M483.1 262.8L480.6 251.1M389.4 381.4L392.6 390.9M510.9 210.5L523.8 218.9M434.5 374.8L422.6 379.0M317.7 385.2L332.2 393.8M231.4 395.3L240.6 388.4M420.0 211.7L422.1 226.5M155.8 242.8L170.9 242.3M189.8 128.6L198.4 142.6M339.5 296.6L353.5 283.6M201.5 49.5L208.3 63.3M324.9 156.7L336.6 170.6M124.7 225.9L130.0 218.8M122.5 146.8L131.2 145.4M531.1 145.3L528.9 131.4M240.3 295.3L239.4 311.9M339.9 354.5L351.8 365.5M514.3 112.9L510.8 120.7M388.3 100.0L384.9 92.3M110.5 242.2L123.5 237.7M232.0 363.7L233.7 355.6M394.9 91.2L385.7 83.1M365.9 239.3L379.9 225.3M253.0 365.3L266.8 368.0M185.3 255.8L198.5 269.5M503.3 155.4L492.8 158.2M267.1 241.3L269.7 256.8M367.1 285.0L378.4 297.2M138.8 233.3L139.7 242.8M509.7 328.7L502.4 335.6M378.5 184.1L395.6 186.0M404.2 406.2L418.8 406.6M161.0 107.0L156.0 118.6M336.8 72.1L346.6 70.9M393.3 171.3L409.7 158.5M123.1 249.8L130.9 244.1M135.7 131.2L126.3 134.8M296.9 143.7L295.3 159.0M437.0 395.5L445.9 386.2M407.5 116.6L421.8 114.2M317.7 385.2L311.3 392.3M542.5 142.8L531.1 145.3M354.0 382.8L351.8 365.5M151.2 132.9L163.6 136.3M310.7 326.9L309.6 339.7M448.2 200.4L463.6 198.2M528.6 262.2L534.2 268.6M497.2 201.2L479.0 198.2M227.7 225.4L240.5 213.6M434.5 296.9L449.0 297.4M350.2 49.5L360.1 49.5M542.5 173.0L533.6 183.5M517.7 140.2L507.1 144.6M421.7 155.4L434.5 170.4M450.1 212.7L466.0 213.9M339.6 254.8L337.8 267.7M146.5 157.3L134.0 153.2M110.5 232.0L124.7 225.9M474.9 66.4L483.8 56.7M542.5 152.9L531.1 145.3M211.3 95.9L219.7 84.9M367.6 400.1L365.7 409.6M435.2 309.1L448.0 310.2M360.1 49.5L370.0 49.5M542.5 213.3L542.5 223.4M140.3 138.6L151.2 132.9M475.9 267.9L465.7 253.7M464.6 61.9L474.9 66.4M364.8 184.7L366.3 199.9M148.8 183.0L141.5 191.4M232.0 363.7L221.0 358.4M132.4 194.7L141.5 191.4M267.8 269.2L280.2 284.7M542.5 223.4L542.5 233.4M361.1 416.7L351.3 416.7M295.5 127.1L309.4 113.6M358.4 394.3L367.6 390.8M515.1 341.4L509.7 328.7M194.2 109.0L193.6 99.6M296.2 172.3L309.1 183.9M351.3 416.7L341.5 416.7M110.5 272.9L110.5 262.7M481.9 72.3L483.8 56.7M452.4 98.8L462.2 113.1M311.0 311.1L323.3 311.2M295.0 183.6L309.8 197.8M422.3 310.8L423.6 323.7M110.5 262.7L110.5 252.5M320.5 49.5L330.1 59.7M325.3 255.7L337.8 267.7M406.7 326.0L409.0 338.0M226.2 269.9L227.4 283.6M164.6 307.9L156.5 294.6M501.4 355.1L500.4 344.4M339.1 242.0L353.0 242.2M362.9 384.1L354.0 382.8M449.4 253.2L450.9 269.6M193.7 349.5L185.9 344.0M461.4 379.2L450.6 378.2M516.8 203.1L528.1 201.9M353.3 184.0L366.3 199.9M188.3 381.4L124.6 317.7M436.4 256.7L434.0 269.7M177.1 341.9L185.3 353.5M365.6 170.7L378.4 172.9M394.7 255.8L408.5 240.6M197.7 254.1L211.3 242.7M462.1 225.9L463.6 241.9M380.1 365.8L392.7 366.7M507.0 293.4L506.6 279.6M393.7 268.7L407.8 256.2M542.5 193.1L533.6 183.5M422.7 183.3L434.5 170.4M241.2 404.5L227.0 405.4M470.0 313.0L451.9 324.6M416.5 64.2L406.9 59.9M183.2 335.8L185.9 344.0M392.0 113.9L407.5 116.6M408.9 297.6L422.3 295.8M351.3 416.7L354.7 404.6M422.3 198.0L436.6 184.3M491.7 331.6L479.5 328.2M499.4 239.9L508.2 246.4M463.8 158.4L479.6 157.4M479.6 157.4L491.8 169.5M225.5 158.5L241.3 157.2M408.7 309.3L422.3 310.8M209.5 402.6L213.3 387.1M342.5 393.7L346.1 403.3M451.0 142.3L463.8 158.4M463.1 171.2L477.2 172.8M516.8 203.1L520.6 194.9M183.2 335.8L197.8 324.7M226.9 169.7L238.3 172.9M189.1 87.5L182.4 95.1M255.2 115.0L268.0 102.5M394.9 91.2L401.8 98.9M542.5 112.6L533.1 114.8M435.7 242.1L449.4 253.2M482.8 288.8L471.1 288.0M170.1 130.7L177.3 122.9M161.0 171.1L153.3 163.3M465.8 296.7L448.0 310.2M132.2 204.3L119.8 206.1M269.8 155.2L280.3 158.1M513.0 270.7L518.1 278.8M296.1 213.2L309.8 197.8M255.8 172.1L268.8 185.1M110.5 283.2L118.7 284.1M255.1 80.1L248.3 86.9M149.0 256.3L154.9 256.9M281.8 337.4L297.7 340.8M485.1 99.4L494.9 103.3M296.4 268.8L311.3 282.5M225.4 57.2L218.5 64.7M110.5 201.4L110.5 191.1M212.3 157.0L210.0 173.0M143.1 174.4L145.4 165.6M289.4 383.0L278.6 382.1M185.2 297.5L185.0 310.8M497.7 256.8L483.1 262.8M255.1 80.1L241.0 82.1M174.7 99.2L175.8 86.9M381.6 69.6L372.7 80.9M161.2 126.4L170.1 130.7M432.3 68.5L440.3 71.0M183.2 115.9L173.1 113.5M241.9 115.3L240.7 129.4M360.1 49.5L353.8 57.6M339.4 339.7L353.2 338.2M286.2 397.1L287.6 407.7M506.2 110.9L492.0 114.3M227.0 114.8L225.0 130.2M207.8 121.2L213.4 130.1M167.1 360.1L124.6 317.7M528.8 327.7L526.7 316.7M522.2 271.2L526.5 283.7M231.2 49.5L225.4 57.2M252.1 325.0L252.8 337.9M121.6 298.2L130.9 310.3M366.9 270.7L378.6 267.0M238.2 323.8L241.9 338.3M244.3 357.2L241.9 338.3M134.0 153.2L122.6 159.7M218.4 401.0L219.7 392.7M185.3 241.9L196.6 226.0M283.1 239.4L280.3 253.9M290.7 49.5L282.3 58.5M524.0 294.1L525.5 302.5M394.6 197.7L409.3 198.0M267.8 269.2L266.5 283.2M199.0 197.3L212.2 199.5M444.7 79.7L448.9 72.5M309.7 144.7L311.1 158.1M226.6 241.9L239.1 239.9M420.5 127.4L437.5 129.9M534.5 169.3L527.2 177.9M296.2 172.3L295.0 183.6M244.3 357.2L233.7 355.6M142.9 324.0L154.0 327.7M183.2 115.9L181.7 104.5M498.2 214.2L497.2 201.2M408.5 240.6L423.1 256.6M224.4 253.8L241.9 256.8M515.1 341.4L502.4 335.6M459.2 74.1L463.2 86.7M420.5 144.6L437.6 142.2M437.3 323.7L450.1 340.1M308.2 352.2L309.7 365.8M451.3 228.2L462.1 225.9M486.2 270.4L499.4 275.5M166.5 84.3L201.5 49.5M253.1 214.0L266.3 199.4M438.6 61.0L432.3 68.5M514.6 225.6L503.4 227.6M370.0 49.5L379.9 49.5M449.6 240.2L463.6 241.9M417.3 73.1L424.0 67.7M175.7 156.6L183.8 157.6M230.6 82.2L225.6 102.3M395.5 400.9L392.6 390.9M239.4 311.9L252.1 325.0M353.5 283.6L353.8 297.1M379.9 49.5L389.9 49.5M402.1 69.0L393.9 71.5M399.9 387.2L395.5 400.9M169.0 150.5L159.7 144.2M394.4 62.4L386.4 58.6M295.3 159.0L311.1 158.1M337.3 93.1L338.0 113.9M379.0 214.0L379.9 225.3M471.5 87.2L467.8 78.4M370.0 49.5L376.5 61.9M542.5 243.5L542.5 253.6M183.1 81.0L189.1 87.5M280.1 184.7L295.0 183.6M443.8 400.9L451.8 394.9M506.6 305.1L498.5 300.3M498.2 214.2L505.4 202.7M309.6 339.7L323.1 352.2M409.7 143.5L409.7 158.5M324.7 225.9L338.5 211.9M331.6 416.7L321.8 416.7M542.5 223.4L532.1 219.6M507.8 220.3L510.9 210.5M294.5 365.3L309.7 365.8M145.8 338.9L124.6 317.7M420.5 337.6L423.8 354.6M353.4 155.3L367.0 143.9M123.5 237.7L130.9 244.1M141.5 191.4L131.3 185.0M170.3 269.2L182.1 267.1M519.8 157.7L511.7 153.2M183.8 157.6L198.9 158.9M211.9 104.4L225.6 102.3M366.3 199.9L379.0 214.0M474.9 66.4L472.1 57.4M350.8 170.7L364.7 158.3M151.6 191.2L144.7 203.7M448.5 282.4L449.0 297.4M365.8 351.5L380.4 339.5M385.7 83.1L384.9 92.3M138.8 233.3L146.3 224.7M338.4 283.2L353.5 283.6M184.4 169.6L196.0 172.9M132.2 204.3L132.4 194.7M365.0 214.2L379.9 225.3M414.1 83.2L420.3 89.9M542.5 243.5L531.4 233.9M364.6 367.8L378.6 353.0M201.8 377.3L195.9 365.2M454.0 367.4L450.6 378.2M198.2 297.5L213.1 297.4M464.6 61.9L456.3 64.9M469.1 331.0L451.9 324.6M213.4 130.1L227.0 114.8M296.4 268.8L294.3 283.4M257.7 376.8L253.0 365.3M227.4 186.0L239.5 197.2M211.8 142.8L225.0 130.2M226.7 338.1L238.2 323.8M404.8 81.4L417.3 73.1M138.5 112.2L145.5 105.2M136.4 288.4L138.2 303.0M422.1 226.5L436.0 211.5M477.9 141.8L490.7 129.2M224.2 200.5L240.5 213.6M513.0 285.6L518.1 278.8M253.8 143.4L268.6 142.4M206.7 361.4L195.9 365.2M439.4 49.5L449.3 49.5M234.4 382.4L226.8 375.8M198.8 130.6L207.8 121.2M119.8 206.1L121.4 215.3M255.9 155.4L269.8 155.2M174.1 367.2L181.3 361.6M378.4 297.2L381.3 309.7M221.0 358.4L233.7 355.6M542.5 303.9L542.5 314.0M275.1 405.6L287.6 407.7M297.0 241.6L308.1 228.9M498.2 214.2L492.5 226.4M418.8 406.6L427.7 396.6M496.7 287.1L498.5 300.3M162.0 336.2L154.0 327.7M408.5 225.2L408.5 240.6M420.3 89.9L424.8 100.6M505.9 131.6L490.7 129.2M402.1 69.0L406.9 59.9M170.3 269.2L168.0 284.8M119.8 206.1L118.6 193.4M324.9 156.7L339.2 158.7M542.5 162.9L534.5 169.3M531.1 145.3L534.7 137.7M231.4 395.3L219.7 392.7M295.8 100.0L311.3 101.2M211.0 185.2L212.2 199.5M497.7 256.8L489.7 249.2M322.4 171.5L336.6 170.6M542.5 203.2L534.5 208.6M119.7 264.2L128.6 260.2M434.5 170.4L436.6 184.3M110.5 170.7L110.5 160.4M384.9 395.0L392.6 390.9M370.9 416.7L365.7 409.6M521.9 334.5L509.7 328.7M239.9 144.6L241.3 157.2M483.8 56.7L472.1 57.4M542.5 253.6L534.4 255.4M337.4 366.7L351.8 365.5M185.3 255.8L197.7 254.1M503.3 155.4L492.3 142.9M517.7 140.2L531.1 145.3M149.0 256.3L142.5 250.5M465.2 142.4L463.8 158.4M523.8 218.9L532.1 219.6M378.5 184.1L393.3 171.3M424.8 100.6L440.1 95.2M523.3 105.5L519.6 120.2M364.5 298.8L378.4 297.2M289.4 383.0L294.5 365.3M150.5 146.4L146.5 157.3M404.2 406.2L395.5 400.9M216.5 409.6L218.4 401.0M283.9 268.8L280.2 284.7M366.4 312.7L381.3 309.7M392.0 225.9L408.5 225.2M487.6 308.0L498.5 300.3M512.5 239.0L515.9 249.4M356.8 77.6L346.6 70.9M309.8 170.2L309.1 183.9M393.9 239.9L408.5 240.6M177.1 341.9L185.9 344.0M421.7 155.4L434.1 156.1M450.1 212.7L463.6 198.2M508.9 81.3L516.3 88.1M309.1 183.9L309.8 197.8M227.4 283.6L238.8 284.4M435.2 309.1L449.0 297.4M127.5 166.6L132.1 176.7M542.5 183.1L533.6 183.5M505.5 169.9L491.8 169.5M421.6 171.7L434.5 170.4M443.2 362.6L434.4 352.3M173.1 113.5L181.7 104.5M138.8 233.3L133.4 226.8M338.0 113.9L339.4 130.7M472.8 359.1L479.5 367.1M148.7 317.1L156.4 307.0M110.5 242.2L123.1 249.8M542.5 112.6L542.5 122.6M266.5 283.2L280.2 284.7M184.4 200.3L185.2 211.3M351.8 312.8L352.0 326.4M320.5 49.5L320.0 61.7M241.2 49.5L247.1 60.2M119.5 275.0L119.7 264.2M173.1 113.5L169.6 105.9M295.0 183.6L309.1 183.9M424.8 100.6L430.7 87.7M325.3 255.7L339.6 254.8M286.2 397.1L293.4 390.7M532.6 297.3L524.0 294.1M257.7 376.8L266.8 368.0M485.9 321.7L491.7 331.6M294.0 198.9L309.8 197.8M534.5 208.6L532.1 219.6M330.1 59.7L338.9 57.8M130.7 298.6L138.2 303.0M200.2 356.1L185.3 353.5M353.3 184.0L364.8 184.7M173.5 77.3L175.8 86.9M498.2 214.2L507.8 220.3M159.5 91.3L166.5 84.3M481.3 346.5L467.8 339.4M171.0 297.9L185.0 310.8M470.0 313.0L469.1 331.0M239.1 239.9L241.9 256.8M339.5 296.6L351.8 312.8M208.3 63.3L196.2 64.6M242.2 379.5L236.5 371.1M258.6 388.1L266.4 392.2M438.3 383.2L450.6 378.2M184.4 200.3L199.8 211.0M268.8 185.1L266.3 199.4M149.9 282.6L170.3 269.2M133.2 267.1L140.0 276.8M470.0 313.0L448.0 310.2M174.3 355.3L181.3 361.6M498.1 248.1L508.2 246.4M131.2 145.4L126.3 134.8M474.9 66.4L481.9 72.3M270.9 49.5L282.3 58.5M365.9 239.3L379.8 253.7M364.1 93.1L366.6 113.6M535.6 320.8L526.7 316.7M395.5 326.6L406.7 326.0M479.6 157.4L492.8 158.2M197.8 324.7L210.6 323.0M290.7 49.5L290.5 60.7M393.3 171.3L408.8 184.5M311.8 269.5L311.3 282.5M367.6 400.1L378.0 404.2M423.1 256.6L436.4 256.7M528.6 262.2L534.4 255.4M470.3 347.5L467.8 339.4M226.9 169.7L241.3 157.2M342.5 393.7L345.3 380.4M272.1 85.1L264.8 76.0M311.3 282.5L311.9 295.6M336.8 72.1L346.2 80.8M338.9 200.9L338.5 211.9M464.2 185.6L477.2 172.8M440.1 95.2L436.4 81.9M151.6 191.2L148.8 183.0M146.3 224.7L155.6 211.0M345.3 380.4L335.4 383.4M146.4 265.4L149.9 282.6M255.8 172.1L269.3 170.9M338.5 211.9L338.7 225.3M252.8 337.9L267.3 324.8M365.7 129.0L367.0 143.9M127.5 166.6L134.0 153.2M149.0 256.3L155.8 242.8M132.2 252.3L138.8 259.1M269.8 211.6L281.0 226.2M480.4 304.1L471.6 302.8M542.5 183.1L542.5 193.1M253.8 183.2L268.8 185.1M257.7 376.8L249.6 383.0M367.0 143.9L364.7 158.3M379.8 324.6L380.4 339.5M183.2 115.9L177.3 122.9M300.1 395.8L299.4 404.9M269.3 228.8L283.1 239.4M289.4 383.0L293.4 390.7M146.4 265.4L138.8 259.1M390.6 416.7L380.8 416.7M124.7 225.9L121.4 215.3M198.8 130.6L199.0 117.7M201.3 90.3L193.6 99.6M380.4 339.5L378.6 353.0M311.1 158.1L322.9 142.9M407.8 256.2L406.9 270.1M471.1 288.0L475.8 295.6M394.9 91.2L388.3 100.0M110.5 303.6L110.5 293.4M542.5 293.9L532.6 297.3M406.9 270.1L406.1 281.7M323.1 352.2L339.4 339.7M436.6 184.3L437.0 201.0M430.1 405.1L438.3 407.7M131.5 119.1L141.2 121.6M459.3 49.5L464.6 61.9M504.7 90.8L493.7 89.9M183.7 145.3L182.3 135.9M322.1 72.1L311.9 64.7M324.5 198.2L338.9 200.9M160.0 353.1L124.6 317.7M239.4 73.9L241.0 82.1M437.0 201.0L436.0 211.5M350.2 49.5L338.9 57.8M235.6 56.6L228.2 68.8M126.3 134.8L140.3 138.6M438.3 407.7L443.8 400.9M463.1 171.2L464.2 185.6M496.7 287.1L499.4 275.5M542.5 223.4L531.4 233.9M185.2 297.5L198.2 297.5M528.9 131.4L528.1 122.2M261.0 49.5L265.8 62.8M145.5 213.0L155.6 211.0M517.3 128.3L519.6 120.2M265.8 62.8L274.6 76.9M161.0 107.0L169.6 105.9M420.5 144.6L437.5 129.9M393.7 268.7L406.1 281.7M522.2 271.2L517.8 258.0M132.2 204.3L137.6 210.6M506.6 279.6L496.7 287.1M514.3 103.5L522.1 94.2M463.0 359.4L462.4 369.8M436.6 338.9L450.1 340.1M462.2 113.1L479.3 114.8M422.3 198.0L436.0 211.5M146.1 295.8L156.4 307.0M325.1 381.4L335.4 383.4M465.8 296.7L471.1 288.0M252.4 269.1L267.8 269.2M449.4 253.2L463.6 241.9M345.0 89.7L354.2 96.7M542.5 122.6L528.1 122.2M376.5 61.9L362.2 59.9M117.5 133.0L166.5 84.3M133.2 267.1L119.7 264.2M255.2 115.0L269.9 128.2M485.9 321.7L480.6 313.1M511.1 193.9L514.9 179.7M512.5 239.0L514.6 225.6M534.5 169.3L527.5 164.9M503.5 186.7L496.5 191.7M253.4 130.2L268.6 142.4M269.2 309.2L282.3 310.8M379.9 49.5L376.5 61.9M184.3 226.5L185.3 241.9M232.0 363.7L226.8 375.8M283.0 198.1L295.0 183.6M522.2 271.2L518.1 278.8M140.0 182.1L132.1 176.7M409.0 353.1L409.9 368.1M495.5 81.5L479.7 83.9M345.8 62.7L336.8 72.1M267.3 324.8L283.9 325.9M185.3 241.9L185.3 255.8M213.1 297.4L211.5 311.7M507.0 293.4L496.7 287.1M437.6 284.6L434.5 296.9M155.6 211.0L171.5 212.6M146.3 224.7L147.6 238.0M296.5 226.9L308.1 228.9M211.5 311.7L210.6 323.0M356.0 86.3L364.9 84.7M290.6 84.5L294.8 92.5M323.3 295.9L339.5 296.6M158.4 154.5L164.6 163.3M465.7 253.7L463.4 269.1M184.4 169.6L198.9 158.9M338.4 283.2L352.5 269.6M365.0 214.2L379.0 214.0M151.3 171.3L143.1 174.4M238.3 268.7L238.8 284.4M507.1 258.4L515.9 249.4M213.6 368.1L223.5 367.8M350.5 228.6L364.5 227.9M465.5 98.8L462.2 113.1M389.4 381.4L392.7 366.7M185.5 185.3L196.0 172.9M269.8 211.6L269.3 228.8M437.0 395.5L430.1 405.1M406.9 393.4L404.2 406.2M379.5 158.8L392.9 156.9M502.4 62.8L502.7 75.9M261.0 49.5L257.3 58.1M146.1 295.8L149.9 282.6M486.2 270.4L477.2 281.7M269.3 228.8L267.1 241.3M295.9 114.8L295.5 127.1M471.2 370.9L462.4 369.8M463.6 198.2L479.0 198.2M395.5 351.5L409.0 353.1M224.2 200.5L239.5 197.2M442.6 371.9L454.0 367.4M295.5 127.1L296.9 143.7M272.7 416.7L266.5 408.5M212.2 199.5L224.2 200.5M311.9 295.6L311.0 311.1M420.1 283.4L437.6 284.6M255.9 155.4L268.6 142.4M299.1 66.0L306.7 71.8M330.4 49.5L340.3 49.5M311.0 311.1L310.7 326.9M241.3 157.2L255.9 155.4M450.0 184.4L464.2 185.6M338.7 225.3L339.1 242.0M466.0 213.9L479.0 198.2M275.1 405.6L266.5 408.5M211.3 95.9L225.6 102.3M209.0 112.4L202.7 104.1M381.6 69.6L366.5 68.2M340.3 49.5L350.2 49.5M439.4 49.5L438.6 61.0M456.6 346.7L452.5 357.7M476.6 97.4L479.3 114.8M339.1 242.0L339.6 254.8M481.4 336.5L467.8 339.4M505.9 131.6L492.0 114.3M335.4 383.4L337.4 366.7M542.5 203.2L542.5 213.3M495.5 81.5L504.7 90.8M281.2 128.9L295.5 127.1M365.6 170.7L364.8 184.7M195.9 365.2L194.2 373.9M514.3 112.9L506.2 110.9M269.7 256.8L283.9 268.8M168.9 331.0L183.2 335.8M533.6 183.5L527.2 177.9M542.5 173.0L534.5 169.3M370.9 416.7L361.1 416.7M531.1 145.3L520.4 149.0M294.9 310.8L311.0 311.1M227.3 144.6L225.5 158.5M158.4 154.5L146.5 157.3M324.6 184.7L336.6 170.6M110.5 283.2L110.5 272.9M144.7 203.7L141.5 191.4M324.7 225.9L339.1 242.0M252.7 101.2L255.2 115.0M408.9 297.6L408.7 309.3M366.5 68.2L372.7 80.9M132.4 194.7L144.7 203.7M188.3 381.4L201.8 377.3M388.3 100.0L392.0 113.9M110.5 221.8L121.4 215.3M500.4 344.4L490.0 343.3M267.2 298.7L269.2 309.2M392.6 390.9L380.5 387.4M194.2 109.0L202.7 104.1M265.8 62.8L264.8 76.0M366.4 312.7L378.4 297.2M523.3 235.1L531.4 233.9M245.4 371.4L257.7 376.8M166.5 84.3L175.8 86.9M472.8 359.1L481.4 358.1M393.9 239.9L408.5 225.2M211.9 354.1L212.9 340.4M296.1 213.2L296.5 226.9M394.8 283.4L408.9 297.6M452.5 357.7L434.4 352.3M227.4 283.6L238.3 268.7M110.5 140.0L117.5 133.0M465.2 142.4L479.6 157.4M393.7 298.4L408.7 309.3M325.4 130.1L322.9 142.9M450.9 269.6L463.4 269.1M408.8 184.5L421.6 171.7M384.9 395.0L395.5 400.9M227.9 297.5L238.8 284.4M481.4 336.5L481.3 346.5M151.2 132.9L159.7 144.2M142.5 250.5L155.8 242.8M399.8 49.5L409.7 49.5M230.6 82.2L219.7 84.9M337.4 325.9L339.4 339.7M218.5 64.7L215.5 56.9M409.7 49.5L419.6 49.5M542.5 263.6L542.5 273.7M364.2 256.9L366.9 270.7M469.1 331.0L474.4 321.3M414.1 83.2L404.0 90.0M268.9 339.2L280.9 354.9M430.6 57.9L424.0 67.7M542.5 273.7L542.5 283.8M312.0 416.7L302.2 416.7M143.1 174.4L148.8 183.0M366.9 270.7L367.1 285.0M395.6 186.0L394.6 197.7M498.1 248.1L497.7 256.8M297.0 241.6L310.7 254.7M302.2 416.7L292.4 416.7M486.2 270.4L475.9 267.9M110.5 221.8L110.5 211.6M164.6 163.3L175.7 156.6M394.6 197.7L394.1 212.7M474.9 66.4L467.8 78.4M421.8 114.2L420.5 127.4M325.8 113.0L338.0 113.9M127.5 166.6L118.1 167.1M155.8 242.8L171.2 253.5M220.8 382.0L213.3 387.1M182.1 267.1L184.5 283.5M110.5 211.6L110.5 201.4M310.4 130.0L325.4 130.1M420.5 127.4L420.5 144.6M144.3 308.8L136.2 316.6M225.4 57.2L215.5 56.9M336.4 312.1L351.8 312.8M527.3 226.6L532.1 219.6M154.9 256.9L170.3 269.2M124.6 317.7L110.5 303.6M451.9 324.6L450.1 340.1M259.5 401.6L266.4 392.2M325.2 324.8L337.4 325.9M437.3 323.7L436.6 338.9M385.7 83.1L393.8 81.3M365.9 239.3L379.6 241.8M481.9 72.3L467.8 78.4M228.2 68.8L237.5 64.6M350.8 255.4L364.2 256.9M378.5 184.1L394.6 197.7M376.6 97.3L384.9 92.3M110.5 191.1L118.6 193.4M479.2 128.1L477.9 141.8M522.4 82.6L522.1 94.2M393.3 171.3L409.2 170.3M301.5 387.3L294.5 365.3M293.9 76.6L290.6 84.5M217.2 74.3L218.5 64.7M299.1 66.0L306.0 58.2M407.5 116.6L420.5 127.4M406.9 393.4L414.8 397.3M448.4 61.6L438.6 61.0M211.3 95.9L202.7 104.1M175.6 144.7L182.3 135.9M487.6 308.0L480.6 313.1M462.1 225.9L477.6 228.6M459.2 74.1L467.8 78.4M465.8 296.7L471.6 302.8M497.2 201.2L479.1 213.8M472.8 359.1L481.3 346.5M311.3 392.3L319.6 397.9M227.7 225.4L239.1 228.9M380.8 416.7L387.6 406.3M212.1 225.6L227.7 225.4M450.1 212.7L462.1 225.9M354.2 96.7L338.0 113.9M463.6 241.9L476.9 241.2M406.9 393.4L399.9 387.2M320.0 61.7L306.0 58.2M238.5 186.8L253.8 183.2M187.5 63.4L190.0 74.8M326.7 95.4L325.8 113.0M505.5 169.9L500.5 163.2M213.3 387.1L219.7 392.7M354.0 382.8L350.5 391.9M299.1 66.0L290.5 60.7M438.6 61.0L430.6 57.9M486.2 270.4L483.1 262.8M466.6 280.9L450.9 269.6M523.3 235.1L523.3 243.7M356.0 86.3L356.8 77.6M280.3 158.1L295.3 159.0M196.0 172.9L199.2 185.7M137.6 210.6L145.5 213.0M502.1 178.1L491.8 169.5M351.3 416.7L346.1 403.3M324.5 198.2L339.7 185.6M199.2 185.7L199.0 197.3M297.7 340.8L309.6 339.7M503.8 101.0L504.7 90.8M322.6 212.1L338.9 200.9M454.0 367.4L443.2 362.6M519.7 171.1L514.9 179.7M209.0 112.4L199.0 117.7M227.4 186.0L224.2 200.5M142.9 324.0L148.7 317.1M189.8 128.6L177.3 122.9M201.8 377.3L194.2 373.9M221.0 358.4L226.7 338.1M269.9 128.2L268.6 142.4M419.6 49.5L416.5 64.2M185.2 297.5L198.0 284.2M430.1 383.6L438.3 383.2M352.9 142.2L365.7 129.0M377.6 88.2L384.9 92.3M253.8 143.4L255.9 155.4M352.5 353.9L365.8 351.5M193.2 339.6L183.2 335.8M366.3 338.1L379.8 324.6M393.7 268.7L406.9 270.1M270.9 49.5L265.8 62.8M268.9 339.2L267.2 353.3M375.5 394.3L384.9 395.0M378.9 284.0L394.8 283.4M511.1 193.9L496.5 191.7M122.8 180.0L132.1 176.7M422.3 198.0L437.0 201.0M379.3 130.1L392.5 142.4M412.6 95.4L401.8 98.9M297.0 241.6L295.3 254.1M519.8 157.7L531.1 156.6M488.0 352.0L490.0 343.3M362.2 59.9L353.8 57.6M408.7 309.3L423.6 323.7M124.5 126.1L131.5 119.1M164.6 307.9L185.0 310.8M324.9 156.7L322.4 171.5M227.9 324.3L239.4 311.9M131.5 119.1L138.5 112.2M194.2 109.0L199.0 117.7M242.2 379.5L249.6 383.0M419.6 49.5L429.5 49.5M430.1 383.6L434.5 374.8M502.4 62.8L492.7 64.9M498.2 214.2L503.4 227.6M402.1 69.0L416.5 64.2M339.9 354.5L337.4 366.7M488.0 352.0L481.3 346.5M253.4 130.2L269.9 128.2M495.7 56.1L483.8 56.7M366.5 68.2L364.9 84.7M523.3 235.1L512.5 239.0M451.7 159.0L463.1 171.2M429.5 49.5L439.4 49.5M542.5 283.8L542.5 293.9M145.8 338.9L142.9 324.0M367.1 285.0L364.5 298.8M267.3 324.8L282.3 310.8M151.6 191.2L159.3 181.0M459.2 74.1L456.3 64.9M465.5 98.8L476.6 97.4M542.5 293.9L542.5 303.9M220.8 382.0L223.5 367.8M521.4 185.3L533.6 183.5M280.3 253.9L295.3 254.1M292.4 416.7L282.5 416.7M533.1 114.8L523.3 105.5M301.5 387.3L293.4 390.7M296.5 226.9L310.4 213.3M211.4 49.5L215.5 56.9M406.2 211.2L408.5 225.2M323.3 295.9L338.4 283.2M282.5 416.7L272.7 416.7M311.1 158.1L322.4 171.5M336.8 72.1L322.1 72.1M392.0 225.9L393.9 239.9M249.3 392.6L249.6 383.0M322.9 142.9L339.4 142.6M124.5 126.1L126.3 134.8M339.4 339.7L352.5 353.9M294.3 283.4L311.9 295.6M437.6 142.2L434.1 156.1M110.5 191.1L110.5 180.9M399.8 49.5L394.4 62.4M323.1 352.2L337.4 366.7M421.7 155.4L421.6 171.7M110.5 293.4L124.3 290.4M258.6 388.1L269.0 383.9M184.3 226.5L196.6 226.0M208.3 63.3L217.2 74.3M353.0 242.2L364.5 227.9M442.6 371.9L443.2 362.6M462.2 113.1L465.7 130.4M542.5 193.1L528.1 201.9M129.9 275.8L140.0 276.8M542.5 132.7L528.9 131.4M519.8 157.7L520.4 149.0M285.0 74.1L290.6 84.5M185.3 241.9L197.9 241.5M144.7 203.7L145.5 213.0M482.8 288.8L475.8 295.6M509.1 69.4L502.7 75.9M395.5 351.5L409.0 338.0M506.6 305.1L516.0 301.1M187.4 367.5L195.9 365.2M212.2 199.5L227.4 186.0M254.4 69.1L247.1 60.2M392.7 366.7L409.0 353.1M346.1 403.3L336.6 410.0M446.6 409.9L438.3 407.7M317.2 90.1L311.3 101.2M224.4 253.8L238.3 268.7M394.1 212.7L406.2 211.2M210.8 212.8L224.2 200.5M420.5 144.6L434.1 156.1M241.3 157.2L253.8 143.4M470.0 313.0L480.6 313.1M422.3 295.8L437.6 284.6M173.5 77.3L180.5 70.4M456.3 64.9L466.9 70.0M465.5 98.8L479.3 114.8M202.7 104.1L211.9 104.4M325.3 255.7L324.0 269.5M401.8 98.9L388.3 100.0M253.1 214.0L269.8 211.6M110.5 170.7L122.8 180.0M489.0 49.5L495.7 56.1M526.7 316.7L516.2 322.5M381.6 69.6L393.9 71.5M175.7 156.6L184.4 169.6M353.3 184.0L350.6 200.0M226.2 269.9L238.3 268.7M517.7 140.2L528.9 131.4M244.3 357.2L236.5 371.1M272.1 85.1L268.0 102.5M449.4 253.2L463.4 269.1M515.1 341.4L508.2 348.2M269.7 256.8L280.3 253.9M254.7 226.4L269.8 211.6M281.9 142.1L295.5 127.1M542.5 142.8L534.7 137.7M542.5 213.3L532.1 219.6M366.5 68.2L362.2 59.9M213.6 368.1L220.8 382.0M223.6 416.7L216.5 409.6M497.2 201.2L496.5 191.7M345.3 380.4L351.8 365.5M185.5 185.3L184.4 200.3M508.6 161.7L503.3 155.4M294.9 325.9L311.0 311.1M505.5 169.9L519.7 171.1M216.5 409.6L209.5 402.6M528.8 327.7L516.2 322.5M212.8 253.8L213.3 269.6M506.6 305.1L517.1 313.5M323.8 240.9L339.1 242.0M199.8 211.0L196.6 226.0M146.5 157.3L136.7 165.2M146.4 265.4L133.2 267.1M211.3 95.9L211.6 80.5M110.5 211.6L121.4 215.3M168.9 331.0L154.0 327.7M240.5 213.6L239.1 228.9M258.6 388.1L249.6 383.0M350.8 170.7L365.6 170.7M211.3 95.9L211.9 104.4M224.7 213.1L227.7 225.4M140.0 276.8L149.9 282.6M269.8 155.2L269.3 170.9M364.6 367.8L380.1 365.8M469.2 49.5L472.1 57.4M255.8 172.1L253.8 183.2M173.5 77.3L183.1 81.0M463.0 359.4L452.5 357.7M110.5 272.9L119.5 275.0M223.6 416.7L124.6 317.7M312.0 416.7L313.4 405.8M185.5 185.3L199.0 197.3M138.6 219.5L130.0 218.8M492.0 114.3L490.7 129.2M281.8 337.4L280.9 354.9M213.4 130.1L225.0 130.2M379.2 115.4L392.0 113.9M235.6 56.6L225.4 57.2M393.7 298.4L408.9 297.6M254.4 69.1L264.8 76.0M490.8 238.3L492.5 226.4M435.6 116.5L450.8 115.5M200.2 356.1L195.9 365.2M429.9 416.7L430.1 405.1M376.5 61.9L386.4 58.6M211.8 142.8L227.3 144.6M395.0 311.8L408.7 309.3M180.5 70.4L183.1 81.0M517.3 128.3L517.7 140.2M422.1 226.5L436.3 226.4M480.4 304.1L475.8 295.6M477.9 141.8L492.3 142.9M485.9 321.7L495.6 322.5M445.9 386.2L438.3 383.2M354.7 404.6L358.4 394.3M517.1 313.5L516.0 301.1M241.6 102.8L252.7 101.2M421.7 239.5L435.7 242.1M206.7 361.4L200.2 356.1M177.1 341.9L174.3 355.3M181.2 374.3L194.2 373.9M485.1 99.4L484.0 91.2M159.5 91.3L161.0 107.0M437.5 129.9L450.8 115.5M255.9 155.4L269.3 170.9M503.6 319.8L495.6 322.5M252.8 309.7L267.2 298.7M145.5 105.2L152.5 98.2M175.8 86.9L168.3 93.3M414.1 83.2L428.0 77.2M136.4 288.4L140.0 276.8M311.3 392.3L301.5 387.3M267.2 353.3L280.9 354.9M265.8 62.8L257.3 58.1M110.5 140.0L201.5 49.5M366.6 113.6L365.7 129.0M268.0 102.5L281.3 100.0M372.7 80.9L364.9 84.7M507.1 144.6L503.3 155.4M505.9 131.6L492.3 142.9M151.2 132.9L141.2 121.6M295.3 254.1L310.7 254.7M534.4 255.4L525.6 253.3M381.3 309.7L379.8 324.6M467.1 389.3L456.6 386.5M310.4 130.0L325.8 113.0M418.8 406.6L414.8 397.3M280.2 284.7L294.3 283.4M193.2 339.6L212.9 340.4M295.8 100.0L309.4 113.6M154.9 256.9L171.2 253.5M223.5 367.8L226.8 375.8M124.6 317.7L117.6 310.7M132.2 252.3L128.6 260.2M416.5 64.2L430.6 57.9M325.2 324.8L336.4 312.1M164.6 163.3L184.4 169.6M408.5 240.6L407.8 256.2M122.5 146.8L126.3 134.8M470.0 313.0L471.6 302.8M241.2 404.5L231.4 395.3M161.0 171.1L168.1 186.0M156.5 294.6L156.4 307.0M323.4 337.6L337.4 325.9M414.1 83.2L412.6 95.4M269.0 383.9L266.8 368.0M128.6 260.2L138.8 259.1M201.3 90.3L202.7 104.1M353.6 113.5L365.7 129.0M352.5 269.6L364.2 256.9M110.5 232.0L123.5 237.7M202.4 395.5L124.6 317.7M110.5 180.9L118.6 193.4M529.1 89.2L522.1 94.2M213.6 368.1L206.7 361.4M182.1 267.1L198.5 269.5M138.6 219.5L146.3 224.7M366.4 312.7L379.8 324.6M119.5 275.0L118.7 284.1M295.3 159.0L296.2 172.3M412.6 95.4L424.8 100.6M346.2 80.8L330.3 82.8M404.8 81.4L393.8 81.3M448.9 72.5L454.9 83.6M280.1 184.7L283.0 198.1M447.0 88.2L440.1 95.2M212.1 225.6L224.7 213.1M499.4 239.9L492.5 226.4M309.6 339.7L308.2 352.2M463.6 241.9L477.6 228.6M448.4 61.6L440.3 71.0M436.0 211.5L448.2 200.4M498.1 248.1L490.8 238.3M299.4 404.9L287.6 407.7M366.5 68.2L356.8 77.6M404.8 81.4L404.0 90.0M337.8 267.7L338.4 283.2M187.5 63.4L194.5 56.5M423.6 323.7L435.2 309.1M227.9 297.5L239.4 311.9M362.9 384.1L358.4 394.3M354.7 404.6L346.1 403.3M253.4 242.2L267.1 241.3M239.5 197.2L253.8 183.2M517.1 313.5L503.6 319.8M366.3 199.9L365.0 214.2M437.0 395.5L430.1 383.6M416.5 64.2L417.3 73.1M502.4 62.8L509.1 69.4M480.8 375.6L471.2 370.9M479.1 49.5L483.8 56.7M253.7 255.8L269.7 256.8M375.5 394.3L380.5 387.4M336.8 72.1L330.1 59.7M533.1 114.8L519.6 120.2M365.0 214.2L364.5 227.9M459.2 74.1L454.9 83.6M392.2 128.1L392.5 142.4M146.4 265.4L170.3 269.2M467.1 389.3L461.4 379.2M213.6 368.1L201.8 377.3M341.5 416.7L331.6 416.7M283.7 171.9L295.3 159.0M297.7 340.8L310.7 326.9M345.0 89.7L356.0 86.3M156.5 294.6L149.9 282.6M392.5 142.4L392.9 156.9M341.5 416.7L346.1 403.3M185.2 211.3L184.3 226.5M523.3 235.1L527.3 226.6M489.7 249.2L480.6 251.1M495.6 322.5L498.5 312.5M110.5 252.5L110.5 242.2M137.6 210.6L144.7 203.7M409.0 338.0L409.0 353.1M488.0 352.0L500.4 344.4M202.4 395.5L195.3 388.4M211.9 282.7L213.1 297.4M144.3 308.8L130.9 310.3M170.1 130.7L163.6 136.3M330.4 49.5L330.1 59.7M179.1 326.6L185.0 310.8M324.0 269.5L337.8 267.7M434.0 269.7L437.6 284.6M148.7 317.1L136.2 316.6M317.2 90.1L326.7 95.4M534.5 208.6L528.1 201.9M421.4 390.4L406.9 393.4M269.0 383.9L273.5 397.0M511.7 153.2L520.4 149.0M350.6 200.0L366.3 199.9M149.9 282.6L168.0 284.8M181.2 374.3L124.6 317.7M202.4 70.5L198.5 80.4M463.6 241.9L465.7 253.7M378.9 284.0L393.7 268.7M353.7 211.3L365.0 214.2M379.3 130.1L392.2 128.1M389.9 49.5L394.4 62.4M395.5 326.6L409.0 338.0M532.6 297.3L533.9 287.5M197.8 324.7L212.9 340.4M503.3 155.4L500.5 163.2M185.2 211.3L196.6 226.0M193.7 349.5L201.8 347.2M379.8 143.4L392.5 142.4M481.9 72.3L479.7 83.9M174.7 99.2L182.4 95.1M325.1 381.4L332.2 393.8M381.6 69.6L376.5 61.9M423.1 256.6L434.0 269.7M408.5 225.2L420.0 211.7M354.0 382.8L358.4 394.3M406.9 393.4L395.5 400.9M531.1 156.6L527.5 164.9M294.8 92.5L295.8 100.0M295.8 100.0L295.9 114.8M210.0 173.0L226.9 169.7M464.2 185.6L476.1 184.7M239.4 73.9L255.1 80.1M393.3 340.0L409.0 338.0M477.2 172.8L491.8 169.5M146.3 224.7L157.9 228.1M434.1 156.1L451.7 159.0M326.7 95.4L337.3 93.1M451.7 159.0L463.8 158.4M240.7 129.4L253.4 130.2M252.8 337.9L268.9 339.2M253.0 365.3L254.8 354.0M423.3 269.3L434.0 269.7M110.5 211.6L119.8 206.1M139.7 242.8L147.6 238.0M514.3 103.5L506.2 110.9M117.6 310.7L130.9 310.3M253.8 183.2L266.3 199.4M164.6 115.1L156.0 118.6M485.9 321.7L474.4 321.3M534.5 169.3L533.6 183.5M281.3 100.0L295.8 100.0M209.0 112.4L227.0 114.8M532.3 245.5L523.3 243.7M311.1 158.1L324.9 156.7M244.3 357.2L253.0 365.3M467.8 78.4L463.2 86.7M477.2 281.7L471.1 288.0M174.3 355.3L167.6 342.6M221.3 49.5L215.5 56.9M282.5 115.1L295.9 114.8M294.3 283.4L311.3 282.5M323.1 352.2L339.9 354.5M294.3 296.4L311.9 295.6M225.0 130.2L227.3 144.6M330.3 82.8L337.3 93.1M323.5 367.2L337.4 366.7M479.6 157.4L477.2 172.8M136.7 165.2L143.1 174.4M378.0 404.2L365.7 409.6M353.8 297.1L364.5 298.8M164.6 163.3L153.3 163.3M185.2 297.5L199.3 309.8M266.5 283.2L267.2 298.7M379.9 225.3L392.0 225.9M362.9 384.1L364.6 367.8M131.2 145.4L134.0 153.2M124.7 225.9L133.4 226.8M422.6 379.0L420.3 367.5M150.5 146.4L140.3 138.6M512.5 239.0L508.2 246.4M385.7 83.1L372.7 80.9M295.0 183.6L294.0 198.9M446.6 409.9L443.8 400.9M439.7 416.7L438.3 407.7M408.1 382.1L422.6 379.0M409.7 158.5L421.7 155.4M300.5 86.6L308.5 92.2M258.6 388.1L259.5 401.6M198.8 130.6L190.9 120.1M498.2 214.2L479.1 213.8M294.0 198.9L296.1 213.2M213.3 269.6L226.2 269.9M423.8 354.6L434.4 352.3M309.0 81.3L322.1 72.1M508.2 348.2L502.4 335.6M289.4 383.0L301.5 387.3M412.6 95.4L421.8 114.2M362.9 384.1L367.6 390.8M325.8 113.0L325.4 130.1M449.4 253.2L465.7 253.7M239.1 228.9L254.7 226.4M339.5 296.6L336.4 312.1M479.3 114.8L490.7 129.2M133.2 267.1L138.8 259.1M389.9 49.5L399.8 49.5M517.8 258.0L515.9 249.4M336.4 312.1L337.4 325.9M364.5 227.9L365.9 239.3M394.4 62.4L393.9 71.5M439.4 49.5L430.6 57.9M274.6 76.9L264.8 76.0M421.4 390.4L408.1 382.1M255.9 283.0L266.5 283.2M542.5 253.6L542.5 263.6M283.0 198.1L294.0 198.9M365.9 239.3L364.2 256.9M152.5 98.2L161.0 107.0M185.3 353.5L193.7 349.5M392.9 156.9L393.3 171.3M517.3 128.3L505.9 131.6M267.3 324.8L281.8 337.4M321.8 416.7L312.0 416.7M254.4 69.1L265.8 62.8M311.3 101.2L325.8 113.0M399.9 387.2L408.1 382.1M521.9 334.5L516.2 322.5M393.3 171.3L395.6 186.0M310.7 254.7L323.8 240.9M153.3 163.3L145.4 165.6M110.5 232.0L110.5 221.8M213.6 368.1L210.9 376.2M323.3 295.9L336.4 312.1M339.7 185.6L350.8 170.7M372.7 80.9L377.6 88.2M402.1 69.0L417.3 73.1M434.5 296.9L435.2 309.1M251.1 49.5L257.3 58.1M185.5 185.3L199.2 185.7M522.2 271.2L534.2 268.6M471.5 87.2L476.6 97.4M495.5 81.5L508.9 81.3M465.8 296.7L475.8 295.6M479.1 49.5L472.1 57.4M353.0 242.2L364.2 256.9M110.5 272.9L119.7 264.2M379.5 158.8L393.3 171.3M216.5 409.6L124.6 317.7M161.2 126.4L164.6 115.1M302.2 416.7L313.4 405.8M517.1 313.5L526.7 316.7M259.5 401.6L273.5 397.0M217.2 74.3L219.7 84.9M531.7 103.2L533.1 114.8M513.0 270.7L498.2 267.0M479.3 114.8L479.2 128.1M147.8 115.1L141.2 121.6M379.8 324.6L395.0 311.8M212.3 157.0L227.3 144.6M513.0 285.6L524.0 294.1M507.1 144.6L520.4 149.0M421.7 239.5L436.3 226.4M533.1 310.9L525.5 302.5M272.1 85.1L274.6 76.9M300.1 395.8L293.4 390.7M491.7 331.6L490.0 343.3M241.9 115.3L252.7 101.2M452.4 98.8L450.8 115.5M151.3 171.3L148.8 183.0M241.3 157.2L255.8 172.1M440.1 95.2L435.6 116.5M466.0 213.9L479.1 213.8M449.3 49.5L459.3 49.5M516.0 301.1L525.5 302.5M448.9 72.5L440.3 71.0M450.0 184.4L463.6 198.2M351.9 127.9L352.9 142.2M354.7 404.6L367.6 400.1M436.6 184.3L450.0 184.4M437.0 395.5L427.7 396.6M526.5 283.7L518.1 278.8M151.6 191.2L156.8 199.6M238.3 172.9L253.8 183.2M465.5 98.8L463.2 86.7M542.5 314.0L535.6 320.8M161.2 126.4L156.0 118.6M364.1 325.7L366.3 338.1M123.1 249.8L119.7 264.2M221.0 358.4L212.9 340.4M198.8 130.6L198.4 142.6M270.0 114.2L281.3 100.0M262.9 416.7L253.1 416.7M280.8 390.3L278.6 382.1M394.7 255.8L393.7 268.7M394.4 62.4L406.9 59.9M254.7 226.4L267.1 241.3M491.0 279.4L499.4 275.5M342.5 393.7L337.9 401.7M460.3 396.2L456.6 386.5M281.9 142.1L295.3 159.0M198.4 142.6L198.9 158.9M201.8 347.2L212.9 340.4M253.1 416.7L243.2 416.7M282.6 297.0L294.3 283.4M393.7 268.7L394.8 283.4M481.9 72.3L492.7 64.9M422.7 183.3L422.3 198.0M324.6 184.7L339.7 185.6M514.9 179.7L527.2 177.9M198.9 158.9L196.0 172.9M161.0 107.0L147.8 115.1M309.8 197.8L324.5 198.2M110.5 160.4L110.5 150.2M336.8 72.1L330.3 82.8M132.2 204.3L144.7 203.7M430.1 383.6L422.6 379.0M422.3 198.0L420.0 211.7M451.7 129.3L451.0 142.3M309.0 81.3L322.0 83.4M299.1 66.0L311.9 64.7M353.6 113.5L366.6 113.6M127.5 166.6L136.7 165.2M208.3 63.3L218.5 64.7M172.8 318.8L185.0 310.8M225.5 158.5L226.9 169.7M339.4 130.7L351.9 127.9M489.7 249.2L484.1 243.1M451.0 142.3L451.7 159.0M409.7 49.5L416.5 64.2M476.1 184.7L479.0 198.2M471.5 87.2L484.0 91.2M255.2 115.0L253.4 130.2M195.3 388.4L124.6 317.7M352.0 326.4L364.1 325.7M140.0 182.1L131.3 185.0M442.6 371.9L450.6 378.2M479.0 198.2L479.1 213.8M184.5 283.5L198.5 269.5M379.9 49.5L386.4 58.6M269.2 309.2L267.3 324.8M209.5 402.6L218.4 401.0M320.0 61.7L311.9 64.7M379.8 253.7L394.7 255.8M267.3 324.8L268.9 339.2M206.7 361.4L211.9 354.1M300.5 86.6L290.6 84.5M408.8 184.5L422.7 183.3M508.2 246.4L515.9 249.4M227.9 297.5L240.3 295.3M393.8 81.3L404.0 90.0M367.6 400.1L358.4 394.3M285.0 74.1L282.3 58.5M202.4 70.5L211.6 80.5M432.3 68.5L424.0 67.7M296.5 226.9L297.0 241.6M213.1 297.4L227.9 297.5M474.9 66.4L466.9 70.0M389.4 381.4L408.1 382.1M138.5 112.2L166.5 84.3M514.3 103.5L503.8 101.0M135.7 131.2L141.2 121.6M467.8 78.4L466.9 70.0M253.7 255.8L267.1 241.3M117.5 133.0L124.5 126.1M483.8 56.7L492.7 64.9M322.9 142.9L324.9 156.7M136.7 165.2L145.4 165.6M241.9 256.8L253.7 255.8M183.7 145.3L183.8 157.6M474.0 382.5L471.2 370.9M389.4 381.4L380.1 365.8M447.0 88.2L436.4 81.9M506.6 279.6L518.1 278.8M252.8 309.7L267.3 324.8M156.8 199.6L155.6 211.0M228.2 68.8L217.2 74.3M500.5 163.2L491.8 169.5M434.5 374.8L434.4 352.3M528.1 201.9L526.2 210.7M281.0 226.2L296.5 226.9M434.5 374.8L443.2 362.6M197.9 241.5L197.7 254.1M336.8 72.1L338.9 57.8M356.0 69.4L362.2 59.9M110.5 150.2L122.6 159.7M151.2 132.9L156.0 118.6M519.8 157.7L508.6 161.7M490.6 294.9L487.6 308.0M542.5 193.1L529.9 191.6M310.4 130.0L322.9 142.9M226.6 241.9L224.4 253.8M243.2 416.7L248.5 409.5M452.4 98.8L447.0 88.2M345.0 89.7L346.2 80.8M149.0 256.3L138.8 259.1M171.5 212.6L184.4 200.3M224.4 253.8L226.2 269.9M459.2 74.1L466.9 70.0M308.7 383.1L309.7 365.8M252.5 200.3L253.1 214.0M507.1 258.4L508.2 246.4M183.7 145.3L198.9 158.9M510.8 120.7L519.6 120.2M480.4 304.1L487.6 308.0M505.5 169.9L514.9 179.7M353.7 211.3L366.3 199.9M139.7 242.8L130.9 244.1M253.1 214.0L254.7 226.4M187.4 367.5L194.2 373.9M221.3 49.5L225.4 57.2M364.7 158.3L379.5 158.8M185.2 211.3L199.8 211.0M330.4 49.5L338.9 57.8M520.6 194.9L528.1 201.9M197.9 241.5L212.1 225.6M281.2 128.9L281.9 142.1M378.6 353.0L395.5 351.5M490.0 343.3L502.4 335.6M380.9 201.0L394.1 212.7M294.9 310.8L294.9 325.9M327.2 402.4L336.6 410.0M293.9 76.6L285.0 74.1M406.1 281.7L420.1 283.4M132.4 194.7L124.8 198.8M255.1 80.1L264.3 88.5M248.3 86.9L252.7 101.2M212.1 225.6L226.6 241.9" stroke="#BABABA" stroke-width="0.7" fill="none"/>
<polygon points="110.5,140.0 201.5,49.5 489.0,49.5 542.5,102.5 542.5,314.0 439.7,416.7 223.6,416.7 110.5,303.6" fill="none" stroke="#000" stroke-width="2.6" stroke-linejoin="round"/>
<polygon points="209.5,70.0 372.0,86.2 410.5,87.1 462.0,86.2 481.5,83.6 522.5,111.3 502.5,236.0 477.5,290.0 483.8,328.8 467.5,352.5 435.3,392.0 255.5,396.7 239.5,369.5 225.0,369.5 200.0,362.0 173.8,340.0 137.8,291.0 136.2,270.0 131.3,198.8 183.0,122.0 193.8,119.3" fill="none" stroke="#0A0AFF" stroke-width="1.3"/><polygon points="209.5,70.0 372.0,86.2 410.5,87.1 462.0,86.2 481.5,83.6 522.5,111.3 502.5,236.0 477.5,290.0 483.8,328.8 467.5,352.5 435.3,392.0 255.5,396.7 239.5,369.5 225.0,369.5 200.0,362.0 173.8,340.0 137.8,291.0 136.2,270.0 131.3,198.8 183.0,122.0 193.8,119.3" fill="#132B43"/>
<g clip-path="url(#ci)">
<path d="M262.0 268.0L256.0 268.2L250.5 267.3L246.5 265.8L242.5 263.1L239.0 259.5L235.6 255.0L233.6 251.5L229.9 243.5L227.0 239.0L220.0 230.8L218.0 229.0L216.5 228.3L215.0 228.2L214.0 228.4L212.0 229.7L210.0 232.0L205.4 238.5L202.9 241.5L199.0 244.9L195.0 247.4L190.5 249.0L185.5 249.6L181.0 249.2L176.5 247.7L173.5 245.9L171.0 243.7L164.0 234.8L156.0 226.5L154.2 224.0L152.9 221.5L152.1 219.0L151.4 216.0L151.0 211.0L151.1 193.5L151.7 187.5L152.9 181.5L154.8 174.5L156.4 170.5L158.3 167.5L162.9 161.5L164.7 158.0L165.8 154.0L166.8 145.5L167.8 141.0L169.6 136.0L172.1 131.5L175.0 127.7L178.5 124.0L187.1 116.5L194.0 110.0L197.5 107.3L200.0 105.8L203.5 104.2L216.5 99.5L229.0 92.7L232.0 91.6L234.5 91.1L237.5 90.9L240.5 91.2L243.5 92.0L246.5 93.5L250.5 96.6L258.0 104.4L261.5 107.6L267.0 111.5L271.5 113.8L281.5 116.8L290.2 121.5L294.3 123.0L298.0 123.7L306.5 124.4L310.5 125.1L315.0 126.7L321.5 129.9L324.5 130.8L327.5 131.1L336.0 130.9L339.0 131.4L342.0 132.2L347.5 135.0L361.6 144.5L369.0 149.0L374.0 151.1L385.5 154.3L388.5 155.7L391.5 157.6L395.2 161.0L398.9 165.5L402.4 170.5L404.3 174.5L405.0 177.5L405.0 181.0L404.2 184.5L401.4 192.5L401.1 195.0L401.3 197.5L401.9 199.5L403.0 201.9L409.2 212.0L412.7 221.5L413.7 223.5L415.0 225.1L417.0 226.4L427.0 229.2L430.0 230.6L433.0 232.7L436.8 236.5L446.5 248.3L447.9 250.5L448.6 252.5L448.5 253.5L448.0 254.2L446.5 254.1L445.0 253.1L441.5 250.0L439.5 248.7L437.0 247.8L433.5 247.4L429.5 247.5L425.0 248.2L411.0 251.6L408.0 251.7L405.5 251.2L402.5 249.7L400.4 247.5L399.1 245.0L397.1 239.0L395.6 237.0L394.5 236.2L393.0 235.7L389.0 235.5L385.5 236.0L372.7 239.0L365.3 241.0L358.4 243.5L348.0 248.6L344.0 249.9L339.5 250.2L330.5 248.8L326.0 248.4L321.5 248.6L317.0 249.5L314.5 250.5L311.5 252.4L304.1 259.0L301.0 261.4L297.5 263.3L294.0 264.5L289.0 265.3L276.0 265.8L262.0 268.0Z" fill="#142E47"/>
<path d="M261.0 264.1L258.0 264.2L255.0 264.0L252.5 263.4L249.9 262.5L247.5 261.2L245.4 259.5L243.4 257.5L241.6 255.0L239.3 250.0L236.5 239.6L232.8 231.0L232.4 229.0L232.6 227.5L234.5 222.5L234.7 220.5L234.0 218.0L233.0 216.8L231.5 215.7L229.0 215.0L226.0 215.3L215.5 218.0L211.5 219.7L210.0 220.9L209.0 222.3L204.7 233.0L202.6 236.5L200.0 239.6L196.5 242.5L193.0 244.4L189.5 245.5L185.5 245.8L182.0 245.3L179.0 244.2L176.5 242.7L174.0 240.5L167.5 231.5L160.7 224.5L158.7 222.0L156.8 218.5L155.7 214.0L155.2 209.5L154.7 196.0L155.0 191.5L155.7 187.0L157.0 183.0L158.7 179.0L166.5 165.5L168.3 161.5L169.5 156.5L170.1 147.0L170.8 142.5L172.5 137.5L174.9 133.0L178.1 129.0L182.0 125.3L200.5 112.1L204.5 109.9L216.0 104.9L229.0 96.8L232.0 95.5L235.0 94.7L238.0 94.6L240.5 95.0L243.5 96.0L246.0 97.5L249.5 100.5L258.0 109.7L263.5 114.6L271.0 120.5L273.5 122.0L276.5 123.4L287.0 126.4L291.0 127.3L295.0 127.8L304.5 128.1L309.0 128.9L313.0 130.4L319.5 134.6L322.5 135.9L325.5 136.1L332.5 135.1L336.0 135.0L340.0 135.7L344.0 137.3L369.0 152.9L374.0 154.9L383.5 157.6L386.0 158.7L388.5 160.3L392.1 163.5L395.4 168.0L398.1 173.0L399.5 177.5L399.6 180.0L399.3 182.5L396.7 192.0L396.7 196.5L397.4 199.5L398.5 202.5L403.9 213.0L404.8 216.0L405.1 218.5L405.0 221.0L404.3 223.5L403.0 225.5L401.5 226.7L399.0 227.8L391.5 229.9L380.5 233.7L365.9 237.5L345.0 243.9L339.5 244.7L322.5 245.1L318.0 245.6L314.5 246.5L312.0 247.5L309.5 249.1L302.5 255.6L299.5 258.0L296.5 259.6L293.5 260.7L288.5 261.3L279.5 261.0L275.5 261.1L261.0 264.1Z" fill="#16314C"/>
<path d="M261.5 261.0L258.5 261.3L256.0 261.1L253.5 260.6L251.5 259.8L249.5 258.7L247.5 257.1L244.8 253.5L243.2 249.5L242.5 245.0L241.3 232.5L241.7 223.0L241.3 219.5L240.1 216.5L238.3 214.0L235.5 211.2L232.5 209.2L229.5 208.3L226.0 208.7L217.5 212.3L210.1 215.0L207.5 216.4L206.4 217.5L205.5 219.1L203.3 229.5L201.8 233.0L199.9 236.0L197.0 239.0L194.0 241.0L190.5 242.4L187.0 242.9L184.0 242.7L181.0 241.7L178.5 240.2L176.2 238.0L169.6 228.5L163.6 222.0L161.7 219.5L159.9 216.0L158.8 211.5L157.5 197.0L157.7 193.0L158.3 189.0L159.2 186.0L160.5 183.0L168.0 170.1L171.0 163.5L172.2 158.0L172.5 148.0L173.0 143.5L174.5 138.5L177.0 134.0L181.0 129.3L183.5 127.2L186.5 125.1L191.0 122.7L201.2 118.0L208.0 114.3L216.0 109.3L228.5 100.2L232.0 98.4L235.0 97.6L238.0 97.4L240.5 97.9L243.5 99.1L246.0 100.8L248.9 103.5L255.0 110.4L259.0 114.5L271.5 126.4L274.0 128.4L276.0 129.7L278.0 130.4L281.0 130.8L291.5 131.2L302.0 131.0L307.0 131.6L309.5 132.5L312.0 133.9L314.1 135.5L319.0 140.4L321.5 141.5L324.0 141.4L330.5 139.2L334.0 138.4L338.0 138.6L342.0 139.7L346.0 141.7L355.0 146.8L369.5 155.9L373.5 157.6L382.5 160.3L386.5 162.5L389.4 165.0L392.0 168.5L394.3 173.0L395.4 177.0L395.5 181.5L393.8 190.5L393.7 195.5L395.0 201.0L399.1 212.0L399.7 214.5L399.8 216.5L399.3 219.0L398.3 221.0L396.5 222.9L394.3 224.5L386.5 228.8L380.5 231.3L354.0 238.7L344.0 240.7L318.0 243.3L312.2 244.5L309.9 245.5L307.6 247.0L301.5 252.9L298.9 255.0L296.0 256.7L293.5 257.6L288.5 258.3L279.5 257.8L275.0 258.0L271.5 258.6L261.5 261.0Z" fill="#183450"/>
<path d="M261.0 258.5L256.5 258.6L253.0 257.5L249.9 255.5L247.6 252.5L246.2 249.0L245.6 245.0L245.0 232.0L245.3 222.5L244.7 218.5L243.3 215.5L240.6 212.0L235.0 206.2L231.5 203.5L229.0 202.8L226.5 203.2L216.0 209.2L212.5 210.6L206.0 212.7L203.6 214.0L202.5 215.3L202.0 216.7L201.5 227.0L200.7 230.0L199.3 233.0L197.0 236.0L194.5 238.1L191.5 239.6L188.0 240.4L185.0 240.2L182.5 239.4L180.0 237.8L177.7 235.5L172.0 226.9L166.0 219.8L164.0 217.0L162.3 213.0L161.2 208.0L160.0 197.5L160.1 194.0L160.6 190.5L162.4 185.5L169.2 174.0L172.0 168.4L173.5 164.5L174.2 162.0L174.6 159.0L174.4 149.0L174.8 144.5L176.2 139.5L178.6 135.0L180.5 132.5L183.0 130.1L185.5 128.2L188.5 126.4L194.0 124.3L204.0 122.1L207.6 120.5L211.5 117.6L227.0 104.0L231.0 101.4L235.0 100.0L238.0 99.9L240.5 100.4L243.5 101.8L246.0 103.7L248.8 106.5L255.5 114.2L265.4 124.5L273.0 134.3L275.5 136.3L277.0 136.7L278.5 136.7L287.5 134.8L298.5 133.8L303.5 133.9L307.0 134.8L310.0 136.5L312.7 139.5L314.4 143.0L317.0 150.8L318.0 152.5L319.5 153.5L320.5 153.5L321.5 152.8L326.2 146.5L328.4 144.5L330.7 143.0L333.5 141.9L336.0 141.6L338.5 141.7L341.5 142.5L346.5 144.7L354.5 148.7L370.0 158.4L373.5 159.9L381.0 162.4L384.5 164.2L387.2 166.5L389.4 169.5L391.2 173.0L392.3 177.0L392.5 181.5L391.3 190.0L391.3 194.0L392.2 198.5L395.6 210.0L396.1 212.5L396.1 215.0L395.4 218.0L393.8 220.5L391.0 223.3L387.0 226.1L382.5 228.5L378.0 230.3L354.5 236.8L349.5 237.7L338.5 238.8L326.5 240.7L314.5 241.9L311.0 242.6L308.5 243.6L306.3 245.0L300.1 251.0L297.5 253.1L295.0 254.5L292.5 255.3L288.0 255.8L279.5 255.3L275.0 255.4L271.0 256.1L261.0 258.5Z" fill="#193754"/>
<path d="M262.0 256.0L258.0 256.2L254.5 255.4L251.7 253.5L249.8 251.0L248.7 248.0L248.1 243.5L247.6 232.0L248.0 221.5L247.3 217.5L245.3 214.0L238.1 205.5L233.0 197.5L231.5 196.1L230.5 195.7L229.0 195.6L226.5 196.5L224.5 198.1L218.5 204.0L214.0 207.0L210.0 208.5L202.0 210.2L199.5 211.5L198.5 212.9L198.1 214.5L199.5 224.0L199.3 227.0L198.5 230.0L196.9 233.0L194.5 235.5L192.0 237.1L189.0 237.9L186.0 237.9L183.5 237.1L181.1 235.5L179.0 233.2L173.6 224.5L168.4 218.0L166.4 215.0L164.5 210.5L163.1 204.0L162.3 197.0L162.4 194.0L162.9 191.5L163.7 189.0L164.9 186.5L169.3 179.5L171.3 176.0L175.7 166.0L176.4 163.0L176.7 160.0L176.2 149.5L176.4 145.0L177.8 140.0L180.3 135.5L182.3 133.0L184.5 131.0L187.0 129.3L190.0 127.8L195.5 126.4L205.5 125.6L209.0 124.3L212.5 121.4L221.7 111.5L226.4 107.0L231.0 103.8L235.0 102.3L238.0 102.1L241.0 102.8L243.5 104.2L246.5 106.7L263.6 126.0L266.7 130.5L271.0 138.6L272.5 140.4L274.0 141.4L275.5 141.7L277.5 141.5L286.0 138.3L293.0 136.8L300.5 136.4L303.0 136.7L305.5 137.5L308.0 139.2L309.9 142.0L311.0 145.0L312.8 153.0L315.0 158.0L317.5 161.1L319.0 162.0L320.0 162.2L321.5 162.1L322.5 161.6L325.0 159.3L326.8 156.5L329.9 149.5L331.0 148.0L332.6 146.5L334.5 145.5L337.0 144.9L339.5 145.0L343.0 145.8L348.5 147.8L353.5 150.1L358.5 152.9L369.2 160.0L372.5 161.6L380.0 164.4L382.9 166.0L385.3 168.0L387.2 170.5L388.7 173.5L389.7 177.0L390.1 181.0L389.4 189.5L389.5 193.5L390.2 197.5L393.3 208.5L393.7 211.5L393.6 214.0L392.8 217.0L391.1 220.0L388.1 223.0L384.5 225.6L380.5 227.7L376.5 229.2L355.0 235.1L350.0 235.9L339.0 236.8L326.0 239.3L313.0 240.4L309.0 241.2L306.9 242.0L304.6 243.5L299.1 249.0L297.0 250.7L294.5 252.2L292.0 253.1L288.0 253.6L279.0 253.2L274.5 253.4L270.4 254.0L262.0 256.0Z" fill="#1A3A58"/>
<path d="M263.0 253.6L259.0 253.9L256.0 253.2L253.5 251.6L251.7 249.0L250.5 244.7L249.8 237.0L249.7 230.0L250.3 220.5L249.8 217.0L249.0 215.2L247.9 213.5L242.4 207.5L239.9 204.0L238.0 200.0L236.1 193.0L235.5 192.0L234.4 191.0L232.5 190.4L230.0 190.4L227.0 191.1L224.5 192.3L221.9 194.5L218.0 200.0L216.2 202.0L214.0 203.8L212.0 205.0L207.5 206.4L198.5 207.5L197.0 208.0L195.4 209.0L194.0 211.0L193.9 213.0L194.3 215.0L197.0 222.5L197.3 225.5L197.0 228.0L196.0 230.6L194.2 233.0L192.0 234.6L189.5 235.5L187.0 235.6L184.5 234.8L182.5 233.5L180.5 231.2L175.5 222.7L170.5 215.9L168.7 213.0L166.8 208.5L165.3 202.5L164.8 199.0L164.7 196.0L165.0 193.5L165.7 191.0L167.2 188.0L171.3 182.0L172.9 179.0L177.0 170.0L178.3 166.0L178.8 161.0L177.8 150.5L177.9 146.0L179.0 141.0L181.4 136.5L183.5 134.0L185.5 132.2L188.0 130.6L191.0 129.3L193.5 128.6L196.5 128.3L206.0 128.5L208.5 127.9L210.4 127.0L213.5 124.3L222.0 114.0L226.5 109.3L231.0 105.9L235.0 104.3L238.0 104.2L241.0 105.0L244.0 106.8L247.0 109.7L261.7 127.0L264.8 132.0L269.0 141.3L270.5 143.3L272.5 144.7L274.5 145.2L277.0 144.9L286.0 140.9L292.0 139.4L298.5 139.0L301.0 139.3L303.3 140.0L305.5 141.5L307.2 144.0L311.0 155.9L314.0 161.9L317.0 165.6L318.5 166.6L320.0 167.0L321.5 166.8L323.0 166.0L326.0 163.4L329.3 159.0L333.5 151.7L335.6 149.5L337.5 148.6L340.0 148.2L343.0 148.4L347.0 149.3L351.0 150.7L355.0 152.5L359.0 154.9L369.0 161.8L378.6 166.0L381.5 167.6L383.7 169.5L385.5 171.9L386.8 174.5L387.6 177.5L388.0 181.5L387.6 189.5L387.8 193.0L388.5 196.6L391.4 207.0L391.8 210.0L391.7 213.0L390.8 216.5L389.1 219.5L386.3 222.5L382.8 225.0L379.5 226.7L375.5 228.2L355.0 233.9L350.0 234.6L338.5 235.3L328.0 237.6L323.5 238.4L311.5 239.0L307.5 239.6L305.5 240.4L303.5 241.6L298.0 247.2L295.8 249.0L293.5 250.3L291.0 251.2L287.0 251.6L279.0 251.4L274.5 251.5L270.0 252.1L263.0 253.6Z" fill="#1C3E5D"/>
<path d="M261.5 251.5L258.5 251.2L256.5 250.4L254.8 249.0L253.4 246.5L252.2 241.5L251.5 233.5L251.6 228.0L252.6 220.0L252.4 216.5L250.9 213.5L244.5 207.0L241.9 203.5L241.0 201.5L240.2 199.0L239.2 191.0L238.1 189.0L236.7 188.0L234.5 187.3L231.5 187.3L227.5 187.9L224.0 189.0L221.5 190.3L219.5 192.0L214.6 199.5L213.0 201.1L211.0 202.5L208.5 203.6L206.0 204.1L198.0 204.4L195.5 204.7L193.2 205.5L191.5 206.7L190.4 208.0L189.7 209.5L189.4 211.0L189.5 212.5L190.4 215.0L194.1 221.5L194.9 224.0L195.0 226.0L194.5 228.5L193.3 230.5L191.5 232.1L189.5 232.9L187.5 233.0L185.5 232.4L183.6 231.0L182.0 229.0L177.3 220.0L172.5 213.3L170.8 210.5L169.0 206.2L167.8 201.5L167.4 196.5L168.3 192.5L169.5 190.0L173.7 184.5L175.2 182.0L179.6 171.5L180.7 168.0L181.0 165.5L181.0 163.0L179.4 152.0L179.2 147.0L180.2 142.0L181.2 139.5L182.5 137.4L184.5 135.0L186.5 133.3L189.0 131.8L192.0 130.6L197.0 130.0L207.0 130.8L209.0 130.4L211.2 129.5L213.0 128.2L215.0 126.1L222.7 116.0L227.0 111.1L231.5 107.6L233.5 106.7L235.5 106.2L238.5 106.2L241.5 107.2L244.5 109.4L247.5 112.5L260.1 128.0L262.7 132.5L265.6 140.0L266.8 142.5L268.6 145.0L271.1 147.0L273.5 147.9L276.5 147.7L286.5 142.9L289.5 142.0L292.5 141.4L295.5 141.3L298.5 141.5L300.5 142.0L302.5 143.1L304.0 144.5L305.5 147.0L309.5 157.6L312.5 163.8L315.5 168.3L318.0 170.4L319.5 170.9L321.0 170.8L322.5 170.1L324.0 169.0L328.0 164.6L335.1 155.0L337.6 152.5L339.0 151.7L341.0 151.0L343.0 150.8L345.5 150.9L350.5 152.1L355.0 154.0L359.0 156.4L368.5 163.2L377.5 167.6L380.0 169.0L382.0 170.7L383.8 173.0L385.0 175.5L385.8 178.5L386.2 182.0L386.1 189.0L386.3 192.5L387.0 196.0L389.8 206.0L390.3 209.0L390.3 212.0L389.5 215.5L387.9 218.5L385.3 221.5L381.5 224.3L378.5 225.9L374.5 227.3L355.0 232.7L350.0 233.3L338.5 233.9L327.5 236.6L323.0 237.3L318.5 237.6L309.0 237.7L305.5 238.2L303.5 239.0L302.0 240.0L297.0 245.3L295.0 247.0L292.5 248.5L290.0 249.3L286.5 249.7L274.0 249.9L261.5 251.5Z" fill="#1E4161"/>
<path d="M267.0 249.0L262.0 249.3L259.0 248.6L256.6 247.0L255.1 244.5L253.6 239.0L253.1 232.0L253.4 227.0L255.1 218.5L255.2 216.5L255.0 215.0L253.5 212.5L247.0 206.9L245.2 205.0L243.9 203.0L242.9 201.0L242.3 198.5L242.1 191.5L241.7 189.5L240.6 187.5L238.5 185.9L236.0 185.1L232.5 185.0L227.5 185.7L222.3 187.0L219.5 188.3L217.3 190.0L215.7 192.0L212.1 198.0L210.5 199.5L209.0 200.5L207.0 201.2L204.5 201.6L196.5 201.2L193.5 201.4L190.5 202.3L188.0 203.9L186.1 206.0L184.7 208.5L183.8 211.0L183.4 213.5L184.1 215.5L189.5 220.2L190.9 222.0L191.6 223.5L192.0 225.5L191.6 227.5L190.5 228.9L189.0 229.6L187.5 229.5L186.5 229.1L185.5 228.4L184.4 227.0L182.9 223.5L181.7 217.5L181.2 216.0L176.0 210.9L174.1 208.5L172.2 205.0L171.1 201.5L170.7 198.0L171.5 194.5L173.0 192.0L177.4 187.5L179.1 185.0L180.2 182.5L183.7 171.5L184.0 169.0L183.9 166.0L181.2 154.0L180.6 148.5L180.8 145.5L181.3 143.0L182.2 140.5L183.5 138.3L185.4 136.0L187.5 134.3L190.0 132.9L192.5 132.1L195.0 131.7L197.5 131.7L207.5 132.9L210.0 132.5L212.0 131.7L214.0 130.2L216.0 128.0L223.5 117.5L227.3 113.0L231.0 109.9L233.0 108.8L235.0 108.1L238.0 107.9L241.0 108.9L244.0 111.0L247.0 114.0L255.4 124.5L258.9 129.5L260.9 133.5L263.6 141.0L265.2 144.0L267.7 147.0L270.5 149.1L273.0 150.1L276.0 150.0L278.5 149.0L286.0 145.0L288.5 144.1L291.5 143.5L294.5 143.3L297.0 143.6L299.0 144.2L301.0 145.3L302.7 147.0L304.3 149.5L309.5 161.9L313.0 168.6L315.5 172.1L318.0 173.9L319.5 174.3L321.0 174.1L322.5 173.4L324.0 172.2L336.0 157.6L339.0 154.7L340.5 153.8L342.5 153.1L346.5 152.9L351.0 153.8L355.5 155.7L359.2 158.0L368.0 164.5L378.1 170.0L380.0 171.5L381.8 173.5L383.2 176.0L384.0 178.5L384.5 182.0L385.0 192.0L385.7 195.5L388.5 205.5L389.0 208.5L389.0 211.5L388.2 215.0L386.6 218.0L384.0 221.0L380.5 223.6L377.5 225.1L374.0 226.4L359.5 230.6L354.5 231.8L350.0 232.3L342.0 232.3L338.5 232.6L327.0 235.6L322.0 236.4L317.0 236.6L307.5 236.2L304.3 236.5L302.5 237.1L300.9 238.0L294.5 244.8L292.5 246.2L290.5 247.1L286.0 248.0L274.5 248.4L267.0 249.0Z" fill="#1F4465"/>
<path d="M275.5 247.0L266.5 247.4L262.5 247.1L259.4 246.0L258.0 244.8L257.0 243.4L256.0 241.0L255.2 238.0L254.7 234.5L254.6 231.0L255.4 225.5L258.2 216.5L258.4 214.5L258.2 213.0L256.9 211.0L249.5 206.5L247.5 204.7L246.0 202.8L244.9 200.5L244.3 198.0L244.4 191.0L244.0 188.5L242.9 186.5L240.5 184.5L237.0 183.3L232.5 183.2L223.9 184.5L218.6 186.0L216.0 187.4L214.2 189.0L210.5 194.8L209.0 196.6L207.0 197.9L205.0 198.5L202.5 198.6L199.5 198.2L192.0 196.2L187.0 195.3L186.1 195.0L185.8 194.5L186.4 192.5L191.0 182.0L191.6 179.5L191.7 177.5L191.4 175.5L190.7 173.5L187.0 166.0L184.7 160.5L182.4 153.0L182.0 149.5L182.1 146.0L182.7 143.0L184.0 140.0L185.8 137.5L188.0 135.6L190.5 134.2L193.0 133.4L195.5 133.1L198.0 133.2L206.0 134.6L208.5 134.9L211.0 134.5L213.0 133.6L215.0 132.0L216.8 130.0L224.3 119.0L227.5 114.9L231.0 111.8L234.5 110.0L237.5 109.7L240.5 110.5L243.5 112.5L246.5 115.5L253.2 124.0L256.9 129.5L259.0 134.0L261.2 141.0L262.7 144.0L266.1 148.0L270.0 151.0L273.0 152.1L276.0 151.9L278.5 151.0L286.0 146.7L288.5 145.8L291.0 145.3L293.5 145.2L296.0 145.5L298.0 146.1L300.0 147.3L302.0 149.5L303.5 152.0L309.5 165.7L312.5 171.5L315.0 174.9L317.5 176.6L319.0 177.1L320.5 177.1L323.0 176.0L325.5 173.5L334.0 162.5L338.5 157.7L340.5 156.2L342.5 155.2L344.5 154.7L347.0 154.5L351.5 155.3L356.0 157.3L359.5 159.6L368.0 166.1L376.5 171.0L378.5 172.5L380.0 174.2L381.2 176.0L382.2 178.5L382.9 182.0L383.8 192.0L387.3 204.5L387.8 207.5L387.9 210.5L387.2 214.0L385.8 217.0L383.4 220.0L380.3 222.5L377.0 224.2L373.5 225.5L359.5 229.7L354.5 230.8L350.0 231.2L342.0 231.2L338.5 231.5L335.0 232.2L327.0 234.6L321.5 235.5L316.0 235.6L306.0 234.6L302.5 234.9L300.7 235.5L299.2 236.5L293.5 242.9L292.0 244.1L290.0 245.2L287.5 246.0L285.0 246.4L275.5 247.0ZM179.5 200.6L178.5 200.1L178.3 199.5L178.7 198.0L180.5 196.8L181.5 196.6L182.5 196.7L182.7 197.5L181.7 199.0L180.5 200.2L179.5 200.6Z" fill="#20476A"/>
<path d="M279.5 245.5L270.0 245.9L264.3 245.5L262.0 244.8L260.5 244.0L259.4 243.0L258.3 241.5L257.2 239.0L256.4 236.0L256.1 232.5L256.2 229.5L257.6 224.0L261.9 214.0L262.4 211.5L262.2 209.5L261.9 208.5L260.9 207.5L259.5 207.0L255.0 206.4L252.5 205.6L250.0 204.1L248.0 202.0L247.0 200.0L246.4 197.5L246.8 191.0L246.5 188.5L245.2 186.0L243.1 184.0L239.5 182.3L235.0 181.5L230.5 181.8L220.5 183.3L216.0 184.5L212.9 186.0L210.4 188.0L207.0 192.2L205.1 193.5L204.0 193.8L202.5 193.7L201.0 193.1L200.0 192.2L199.3 191.0L198.9 189.5L199.1 180.5L198.6 177.0L197.9 174.5L196.0 171.4L190.5 165.9L188.0 162.7L185.5 158.0L183.7 152.5L183.3 148.0L183.8 144.0L185.5 140.1L188.0 137.3L191.5 135.3L195.5 134.5L199.5 134.9L208.5 136.8L211.0 136.7L213.0 136.1L215.0 134.7L217.1 132.5L225.3 120.0L229.5 114.9L231.9 113.0L234.0 111.9L236.5 111.4L238.5 111.5L241.5 112.8L244.2 115.0L247.3 118.5L251.8 124.5L254.4 128.5L256.2 132.0L257.3 135.0L258.7 140.5L259.7 143.0L261.9 146.0L265.4 149.5L268.0 151.5L270.5 153.1L272.5 153.8L274.5 154.0L276.0 153.8L278.0 153.0L285.0 148.8L289.0 147.3L291.5 146.9L293.5 146.9L295.5 147.2L297.5 148.0L300.1 150.0L302.5 153.5L309.5 169.5L312.0 174.2L314.3 177.0L317.0 178.8L319.0 179.3L320.5 179.3L322.0 178.9L323.5 178.1L326.0 175.5L332.8 166.0L338.0 160.3L342.0 157.3L344.0 156.5L346.5 156.0L349.0 156.1L351.5 156.6L354.0 157.6L356.5 158.9L367.0 166.9L375.9 172.5L377.6 174.0L379.0 175.7L380.3 178.0L381.1 180.5L382.6 192.0L386.2 204.0L386.8 209.0L386.5 212.5L385.1 216.0L382.9 219.0L380.0 221.5L377.0 223.2L373.0 224.7L359.5 228.8L354.0 229.9L350.0 230.3L342.0 230.2L338.5 230.4L335.0 231.2L326.5 233.8L321.0 234.7L315.0 234.6L304.5 233.0L301.0 233.2L299.0 233.9L297.5 235.0L292.5 241.0L290.0 243.0L286.0 244.6L279.5 245.5Z" fill="#224A6E"/>
<path d="M276.0 244.5L268.0 244.4L265.0 243.9L263.0 243.2L261.3 242.0L259.9 240.5L258.8 238.5L257.9 235.5L257.6 231.0L258.4 226.5L259.8 223.0L264.0 215.4L265.7 210.5L267.0 200.0L267.0 198.5L266.5 197.2L266.0 197.0L265.0 197.2L260.5 201.0L257.5 202.6L254.5 202.9L252.0 202.1L250.1 200.5L249.0 198.0L248.9 195.5L249.3 190.0L248.9 188.0L248.2 186.5L246.5 184.5L244.5 183.0L241.5 181.5L238.5 180.5L235.5 180.1L232.5 180.1L217.5 181.8L209.5 183.1L208.0 183.1L206.5 182.6L205.5 181.8L204.4 180.0L201.8 173.0L200.5 170.5L198.5 168.5L193.0 164.7L190.0 162.0L187.5 158.4L185.6 154.0L184.6 149.5L184.9 145.0L186.2 141.5L188.7 138.5L192.0 136.6L196.0 135.9L200.0 136.4L209.5 138.9L212.0 138.8L214.0 138.0L216.0 136.6L218.0 134.2L225.3 122.5L228.5 118.0L231.5 115.1L234.5 113.5L237.5 113.1L240.0 113.8L242.5 115.3L245.5 118.3L250.5 125.0L253.7 130.5L255.1 134.5L256.6 141.5L257.8 144.0L259.4 146.0L262.1 148.5L266.5 152.1L269.5 154.2L273.0 155.6L275.0 155.7L276.5 155.4L279.0 154.3L286.0 149.9L288.5 149.0L290.5 148.5L292.5 148.5L294.5 148.7L296.5 149.5L298.1 150.5L300.0 152.5L302.2 156.0L308.5 171.0L310.5 175.1L313.0 178.3L316.0 180.4L318.0 181.0L320.5 181.2L322.5 180.7L324.0 179.8L326.5 177.3L333.1 167.5L338.0 162.1L340.5 160.0L343.0 158.5L345.5 157.6L348.0 157.3L350.5 157.6L353.0 158.4L355.5 159.6L358.5 161.5L366.5 168.0L375.5 174.2L378.0 177.0L379.6 180.5L381.6 192.5L385.3 204.5L385.8 209.5L385.3 213.0L383.9 216.0L381.5 219.0L378.5 221.3L376.0 222.7L372.5 224.0L357.0 228.5L351.0 229.4L342.0 229.2L338.5 229.4L335.0 230.2L327.0 232.8L323.0 233.6L319.5 233.9L316.0 233.7L312.0 233.2L304.0 231.4L300.0 231.5L298.0 232.2L296.1 233.5L291.0 239.7L288.0 242.0L285.8 243.0L283.0 243.7L276.0 244.5Z" fill="#244D72"/>
<path d="M279.0 243.1L274.5 243.4L270.5 243.3L267.0 242.8L264.5 241.9L262.5 240.7L261.0 239.0L259.8 236.5L259.1 233.5L259.2 229.5L260.1 226.0L261.6 223.0L265.6 216.5L267.5 212.0L269.8 203.0L272.9 194.0L273.0 192.0L272.4 190.5L271.0 189.6L269.5 189.3L267.0 189.5L264.5 190.2L262.5 191.2L260.6 192.5L256.5 197.0L255.5 197.5L254.5 197.6L253.5 197.0L253.0 196.0L252.8 190.5L252.2 188.5L251.4 187.0L249.7 185.0L247.9 183.5L245.5 182.0L242.5 180.5L239.0 179.3L235.5 178.8L232.0 178.8L222.5 179.7L216.5 179.8L212.1 179.5L209.5 178.5L208.2 177.5L207.1 176.0L204.5 169.8L202.9 167.5L200.9 166.0L195.5 163.5L192.5 161.6L190.0 159.1L188.0 156.0L186.3 151.5L186.0 147.0L186.3 145.0L187.0 143.0L188.0 141.3L189.5 139.7L192.5 137.9L194.5 137.5L196.5 137.4L200.5 138.0L210.0 141.2L212.5 141.1L214.5 140.4L216.5 138.9L218.6 136.5L226.3 123.5L229.9 118.5L232.0 116.6L234.0 115.4L236.0 114.8L238.0 114.9L240.5 115.8L243.5 118.1L246.5 121.6L249.8 126.5L251.7 130.0L252.8 133.0L254.3 142.5L255.4 144.5L257.2 146.5L268.5 155.2L271.0 156.6L273.5 157.4L276.0 157.3L278.0 156.6L285.1 152.0L289.0 150.3L291.0 150.0L293.0 150.1L295.0 150.6L296.5 151.4L299.0 153.7L301.1 157.0L307.5 172.5L309.4 176.5L311.8 179.5L315.0 181.7L317.5 182.5L320.0 182.8L322.5 182.3L324.5 181.3L327.0 178.8L332.6 170.0L337.5 164.2L340.0 162.0L342.5 160.2L345.0 159.1L347.5 158.6L349.5 158.7L352.0 159.2L354.5 160.2L356.7 161.5L366.0 169.0L373.6 174.5L375.5 176.3L376.8 178.0L378.5 182.0L380.4 191.5L384.1 203.0L384.9 208.0L384.7 211.5L383.4 215.0L381.2 218.0L378.5 220.3L376.0 221.7L372.5 223.1L357.0 227.7L351.0 228.5L341.5 228.2L338.0 228.5L334.5 229.4L327.0 232.0L322.5 232.9L319.0 233.1L315.5 232.8L311.5 232.1L303.5 230.0L301.0 229.7L299.0 229.9L297.0 230.6L295.0 232.0L290.0 238.1L287.5 240.3L284.0 242.0L279.0 243.1Z" fill="#255177"/>
<path d="M277.5 242.0L273.5 242.2L270.0 241.9L267.0 241.2L265.0 240.4L263.2 239.0L261.8 237.0L260.8 234.5L260.5 232.0L260.8 229.0L261.6 226.5L262.8 224.0L266.4 218.5L267.9 215.5L271.9 203.0L276.2 193.5L276.8 190.5L276.6 189.0L276.0 187.9L275.0 187.0L274.0 186.5L271.5 186.1L268.0 186.3L260.5 187.6L257.5 187.5L255.5 186.7L249.9 183.0L245.4 180.5L241.0 178.7L237.5 177.8L233.0 177.4L224.5 178.1L220.0 178.1L215.5 177.5L212.7 176.5L211.0 175.2L209.7 173.5L207.0 166.6L205.5 164.5L203.5 163.4L197.5 161.8L194.5 160.5L191.8 158.5L189.5 155.6L187.8 151.5L187.4 147.5L187.7 145.5L188.4 143.5L190.5 140.8L192.0 139.8L193.5 139.2L195.5 138.9L197.5 138.9L201.8 140.0L210.0 143.7L212.5 143.9L214.5 143.3L217.0 141.5L219.5 138.5L227.0 125.0L230.5 120.0L232.1 118.5L234.0 117.2L236.0 116.6L238.0 116.6L240.5 117.6L243.4 120.0L246.2 123.5L249.0 128.0L250.4 131.0L251.2 134.0L251.8 143.0L252.7 145.0L254.2 146.5L261.5 151.4L269.0 157.0L271.5 158.4L274.0 159.1L276.5 159.0L278.5 158.3L285.3 153.5L288.5 152.0L292.0 151.6L294.0 152.0L295.5 152.7L298.0 154.8L300.3 158.5L306.2 173.5L308.1 177.5L310.5 180.5L314.0 182.8L317.0 183.8L320.0 184.1L322.5 183.8L325.0 182.6L327.5 180.1L333.5 170.5L338.0 165.2L340.5 163.0L343.0 161.3L345.5 160.3L348.0 159.8L350.0 159.9L352.5 160.5L357.0 162.9L365.5 170.0L372.5 175.3L375.5 178.7L376.5 180.5L377.4 183.0L379.5 192.0L383.2 203.0L384.0 207.5L383.8 211.0L382.6 214.5L380.4 217.5L377.5 219.9L375.0 221.3L371.5 222.6L357.0 226.9L351.0 227.7L341.5 227.3L338.0 227.5L334.5 228.4L326.5 231.3L322.0 232.1L319.0 232.3L315.5 232.0L311.5 231.1L303.0 228.5L300.5 228.2L298.0 228.5L296.0 229.2L294.0 230.6L292.2 232.5L288.7 237.0L286.0 239.4L282.5 241.0L277.5 242.0Z" fill="#27547C"/>
<path d="M274.5 241.0L271.5 240.8L269.0 240.4L266.7 239.5L265.0 238.4L263.7 237.0L262.6 235.0L262.1 233.0L262.1 230.5L262.5 228.4L263.4 226.0L269.1 216.5L273.7 203.0L279.4 192.0L279.9 190.0L279.9 188.5L279.6 187.0L278.7 185.5L276.5 184.0L274.0 183.6L270.5 183.7L262.5 184.8L258.5 184.8L255.0 183.8L244.0 178.7L238.0 176.6L233.0 176.1L222.0 176.6L218.5 176.1L215.5 175.0L213.4 173.5L212.0 171.5L211.0 169.0L209.5 163.2L208.7 161.5L208.0 160.6L206.0 159.8L200.0 159.8L196.5 159.1L193.5 157.5L191.1 155.0L189.4 151.5L188.9 148.0L189.2 146.0L189.7 144.5L191.5 142.2L193.0 141.2L194.5 140.6L196.5 140.4L198.5 140.7L201.0 141.4L203.2 142.5L210.5 147.3L212.5 147.6L214.5 146.9L217.5 144.5L220.0 141.3L227.5 127.0L230.8 122.0L232.5 120.2L234.5 118.9L236.0 118.4L238.0 118.5L240.5 119.5L243.0 121.7L245.6 125.0L247.9 129.0L249.0 132.0L249.5 134.5L249.1 143.5L249.6 145.0L250.8 146.5L253.0 148.0L260.5 152.2L270.0 159.2L272.0 160.2L274.0 160.9L276.5 160.9L278.5 160.3L280.5 159.1L285.5 155.1L288.5 153.6L290.5 153.2L292.0 153.3L293.5 153.6L295.0 154.3L297.4 156.5L299.2 159.5L304.9 174.5L306.8 178.5L309.3 181.5L313.0 183.8L316.5 184.9L320.0 185.3L323.0 184.9L325.5 183.8L328.2 181.0L333.6 172.0L338.0 166.6L340.5 164.3L343.0 162.6L345.5 161.5L348.0 161.0L350.0 161.1L352.5 161.7L356.8 164.0L371.3 176.0L373.3 178.0L374.7 180.0L376.1 183.0L378.7 192.5L382.1 202.0L382.9 205.0L383.2 207.5L382.9 211.0L381.6 214.5L379.5 217.2L376.5 219.6L374.0 220.8L370.5 222.2L357.0 226.1L351.0 226.9L341.5 226.4L338.0 226.6L334.5 227.5L326.5 230.5L322.0 231.4L319.0 231.5L315.5 231.1L311.5 230.2L302.5 227.1L300.0 226.8L297.5 227.1L295.0 228.0L292.9 229.5L291.0 231.5L287.5 236.0L284.5 238.5L282.5 239.5L280.0 240.3L274.5 241.0Z" fill="#295780"/>
<path d="M277.5 239.5L274.5 239.8L272.0 239.6L269.4 239.0L267.2 238.0L265.5 236.5L264.5 235.0L263.8 233.0L263.6 231.0L263.9 229.0L264.9 226.5L269.2 219.5L270.7 216.5L273.8 207.0L275.1 203.5L277.0 200.0L280.9 194.0L282.1 191.5L282.7 189.0L282.6 187.0L282.0 184.9L280.8 183.0L278.6 181.5L276.0 181.0L273.0 181.3L263.0 182.8L260.0 182.9L257.0 182.5L252.5 181.1L241.0 176.4L237.0 175.2L233.0 174.7L224.0 175.0L219.5 174.3L217.6 173.5L216.0 172.4L214.8 171.0L213.8 169.0L213.0 165.5L212.7 161.0L212.7 157.0L213.3 154.5L214.4 152.5L219.0 146.8L221.2 143.5L227.6 130.0L230.2 125.5L233.0 122.1L235.5 120.6L237.0 120.4L238.2 120.5L239.5 121.0L241.0 122.0L243.8 125.0L246.1 129.0L247.2 132.0L247.6 135.0L247.4 137.5L246.4 142.5L246.4 144.5L246.9 146.0L248.0 147.3L249.9 148.5L259.0 152.6L262.5 154.9L270.0 160.8L272.5 162.2L274.5 162.9L277.0 163.0L279.5 162.1L285.7 157.0L288.5 155.4L291.5 155.0L294.0 155.8L296.0 157.5L298.0 160.5L303.3 175.0L305.4 179.5L308.0 182.5L311.3 184.5L315.5 185.9L319.5 186.4L323.0 186.1L325.5 185.1L327.0 184.0L328.8 182.0L334.4 172.5L338.5 167.4L341.0 165.2L343.5 163.5L346.0 162.5L348.5 162.1L350.5 162.2L353.0 163.0L355.5 164.3L358.0 166.1L371.5 178.0L373.5 180.5L375.1 184.0L377.7 192.5L381.5 202.5L382.2 205.5L382.4 208.0L381.9 211.5L380.6 214.5L378.5 217.0L375.5 219.2L370.0 221.5L357.0 225.4L351.0 226.1L341.5 225.5L338.0 225.7L334.5 226.6L326.0 229.8L321.5 230.7L318.0 230.7L314.0 230.0L302.0 225.8L299.5 225.5L297.0 225.7L294.5 226.6L292.0 228.3L290.0 230.3L286.3 235.0L284.0 237.1L281.0 238.6L277.5 239.5ZM201.0 157.0L198.0 157.1L195.5 156.3L193.5 154.9L191.7 152.5L190.8 150.0L190.8 147.0L191.9 144.5L193.6 143.0L195.0 142.5L196.5 142.3L198.5 142.5L200.0 143.0L203.5 145.2L204.8 146.5L206.2 148.5L207.1 151.0L207.0 152.5L206.6 153.5L205.8 154.5L204.5 155.6L202.7 156.5L201.0 157.0Z" fill="#2A5A84"/>
<path d="M278.5 238.0L275.5 238.4L273.0 238.4L270.5 237.8L268.7 237.0L267.0 235.6L266.0 234.2L265.4 232.5L265.4 230.5L265.8 228.5L266.6 226.5L270.3 220.5L271.8 217.5L274.8 208.0L276.5 204.0L278.5 200.5L283.4 194.0L284.9 191.0L285.4 188.5L285.2 185.5L284.2 182.5L282.5 180.0L280.5 178.5L278.0 178.0L275.5 178.3L268.0 180.3L264.0 181.0L260.0 181.2L256.5 180.8L251.0 179.3L240.5 175.1L236.5 173.8L232.5 173.2L224.5 173.3L221.5 172.8L219.5 172.0L218.1 171.0L216.9 169.5L216.1 168.0L215.6 165.5L215.5 162.0L216.1 158.5L217.1 155.5L223.2 145.0L228.1 133.0L230.5 128.2L233.0 124.7L235.5 122.9L236.5 122.7L238.0 122.7L240.5 124.0L243.0 126.8L244.9 130.5L245.5 133.2L245.5 136.0L243.6 143.0L243.3 145.0L243.5 146.5L244.5 148.0L247.3 149.5L254.5 151.8L258.5 153.6L262.5 156.2L271.0 163.2L273.5 164.6L276.0 165.4L278.5 165.4L280.5 164.6L286.0 159.2L288.5 157.6L291.0 157.1L293.5 157.9L295.5 159.9L296.9 162.5L301.3 175.0L303.5 180.0L305.9 183.0L309.1 185.0L314.0 186.6L319.0 187.4L323.0 187.2L326.0 186.1L327.5 185.0L329.3 183.0L335.0 173.1L339.0 168.2L341.5 166.0L344.0 164.4L346.5 163.5L349.0 163.2L351.0 163.4L353.5 164.3L356.0 165.8L358.5 167.8L370.5 178.7L372.6 181.5L374.3 185.0L376.8 192.5L380.5 202.0L381.3 205.0L381.6 207.5L381.2 211.0L379.9 214.0L377.5 216.8L374.5 218.9L368.5 221.3L356.5 224.8L351.0 225.3L341.5 224.7L338.0 224.9L334.5 225.7L326.0 229.0L321.5 229.9L318.0 229.9L314.5 229.3L311.0 228.1L304.5 225.4L301.5 224.6L299.0 224.3L296.5 224.5L294.0 225.3L291.5 226.8L289.2 229.0L285.5 233.6L283.5 235.5L281.2 237.0L278.5 238.0ZM199.5 154.1L197.5 154.2L196.0 153.6L194.5 152.5L193.5 151.0L193.0 149.0L193.2 147.5L193.9 146.0L195.0 145.1L197.0 144.7L199.0 145.1L201.0 146.4L202.3 148.0L202.8 150.0L202.5 151.7L201.5 153.1L199.5 154.1Z" fill="#2C5E89"/>
<path d="M263.0 179.5L258.0 179.6L253.0 178.7L247.5 176.9L238.0 172.9L234.5 171.9L231.5 171.5L226.0 171.5L223.5 171.1L220.9 170.0L219.0 167.9L218.3 166.0L218.1 163.5L218.4 161.0L219.2 158.5L220.5 155.8L224.1 150.0L225.7 147.0L229.4 135.5L231.3 131.0L233.5 127.5L235.5 125.8L236.5 125.5L237.9 125.5L240.0 126.6L241.9 129.0L243.1 132.0L243.3 134.5L242.9 137.0L239.9 144.0L239.3 146.0L239.4 147.5L240.1 149.0L241.5 150.0L243.0 150.5L254.0 152.8L259.0 155.0L263.1 158.0L270.5 164.9L276.4 169.5L277.7 171.0L277.8 172.0L277.3 173.0L275.8 174.5L273.6 176.0L268.5 178.3L263.0 179.5ZM275.5 237.0L273.5 236.9L271.6 236.5L269.0 235.0L268.0 233.8L267.4 232.5L267.2 231.0L267.3 229.5L268.4 226.5L271.5 221.4L272.9 218.5L276.1 208.5L277.8 204.5L280.5 200.5L286.2 194.0L287.9 190.5L288.3 187.0L287.2 182.0L285.5 177.6L282.4 172.5L281.9 171.0L282.6 169.0L285.3 164.0L286.8 162.0L288.5 160.6L290.0 160.0L291.5 160.1L293.0 160.9L294.3 162.5L295.5 165.1L300.3 178.5L302.5 182.6L303.9 184.0L305.5 185.0L310.5 186.8L315.8 188.0L320.0 188.4L323.5 188.1L326.5 187.0L328.5 185.5L330.0 183.7L335.4 174.0L339.0 169.4L341.5 167.2L344.0 165.6L346.5 164.6L348.5 164.3L350.5 164.4L352.5 165.0L354.5 166.0L357.0 167.7L368.7 178.5L370.5 180.6L372.1 183.0L379.4 201.0L380.3 204.0L380.8 207.0L380.5 210.5L379.2 213.5L377.0 216.2L374.0 218.3L368.0 220.7L356.5 224.0L351.0 224.6L341.5 223.8L338.0 224.0L334.0 225.0L326.0 228.2L321.0 229.2L317.5 229.0L314.0 228.3L305.0 224.5L301.5 223.4L298.5 223.1L296.0 223.3L293.0 224.3L290.0 226.2L287.7 228.5L283.9 233.0L281.5 235.1L278.5 236.5L275.5 237.0Z" fill="#2E618E"/>
<path d="M234.5 142.6L233.5 142.7L233.0 142.6L232.3 141.5L232.0 139.0L232.4 136.0L233.4 133.0L234.5 131.2L236.0 129.8L237.5 129.5L238.6 130.0L239.8 131.5L240.3 133.5L240.1 135.5L239.3 137.5L238.0 139.6L236.0 141.6L234.5 142.6ZM262.5 178.0L257.5 178.3L252.5 177.5L246.5 175.5L234.5 170.1L231.5 169.4L226.2 169.0L224.3 168.5L222.5 167.2L221.5 165.5L221.3 163.0L222.0 160.5L223.5 158.1L225.5 155.9L228.0 154.1L230.5 153.1L247.5 152.9L252.5 153.6L256.5 154.9L260.5 157.2L264.2 160.5L270.1 167.0L271.5 169.0L272.2 170.5L272.2 172.0L271.9 173.0L270.2 175.0L266.5 177.0L262.5 178.0ZM277.5 235.0L274.0 235.2L272.5 234.9L271.0 234.0L270.0 233.0L269.5 232.0L269.3 230.5L269.5 229.0L270.2 227.0L274.1 219.5L277.0 210.0L279.0 205.4L282.0 201.3L288.9 194.5L290.4 192.5L291.4 190.5L291.9 188.5L292.0 186.0L290.7 179.0L290.4 175.0L290.8 172.0L291.0 171.3L291.5 170.9L292.5 171.6L294.5 174.3L298.8 183.0L300.1 184.5L301.5 185.5L305.6 187.0L313.1 188.5L318.5 189.2L322.5 189.2L324.5 188.9L326.5 188.1L328.0 187.2L329.5 185.8L331.5 183.0L336.5 173.9L338.7 171.0L341.0 168.7L343.5 167.0L346.0 165.8L348.0 165.4L350.5 165.5L354.0 166.8L358.0 169.8L367.6 179.0L369.7 181.5L371.3 184.0L378.5 200.5L379.5 203.5L380.0 206.5L379.7 210.0L378.6 213.0L376.5 215.6L373.5 217.7L367.5 220.1L357.0 223.2L351.0 223.9L341.5 223.0L338.0 223.1L334.0 224.1L325.5 227.6L321.0 228.4L318.0 228.3L314.5 227.6L305.0 223.5L301.5 222.3L298.5 221.9L295.5 222.1L292.5 223.0L289.5 224.8L286.9 227.0L281.5 232.9L279.5 234.3L277.5 235.0Z" fill="#306492"/>
<path d="M258.0 177.0L255.0 176.8L251.5 176.2L248.0 175.1L244.4 173.5L239.8 171.0L230.5 165.0L229.5 164.0L229.4 163.0L231.3 161.0L236.2 157.5L239.5 155.8L242.5 154.9L246.0 154.3L250.0 154.4L253.5 155.0L257.0 156.3L261.0 158.9L264.6 162.5L267.8 167.0L268.8 169.0L269.1 170.5L268.9 172.0L268.4 173.0L266.2 175.0L262.5 176.4L258.0 177.0ZM276.5 233.0L274.5 232.9L272.8 232.0L272.0 230.5L272.1 228.5L275.6 220.5L277.8 212.0L279.1 208.5L281.0 205.1L283.5 202.2L290.3 196.5L296.0 190.5L298.5 189.0L301.0 188.5L304.5 188.6L321.0 190.2L324.5 189.8L327.5 188.7L329.5 187.2L331.0 185.4L336.1 176.0L339.0 171.9L342.5 168.7L344.5 167.5L346.5 166.7L348.5 166.4L350.5 166.6L352.5 167.2L354.5 168.3L358.5 171.5L367.5 180.5L369.7 183.5L371.4 186.5L377.1 199.0L378.6 203.0L379.2 206.5L379.0 209.5L378.2 212.0L376.4 214.5L374.5 216.2L371.5 217.9L361.5 221.3L356.5 222.6L352.5 223.1L349.0 223.0L341.5 222.2L337.5 222.3L334.0 223.2L325.5 226.8L322.5 227.5L320.0 227.6L317.0 227.3L314.0 226.5L305.5 222.7L302.0 221.4L298.5 220.7L295.5 220.8L292.5 221.5L289.0 223.3L285.5 226.0L280.0 231.5L278.3 232.5L276.5 233.0Z" fill="#316896"/>
<path d="M259.5 175.6L255.5 175.7L251.0 175.0L246.5 173.4L242.1 171.0L238.9 168.5L236.8 166.0L236.3 164.5L236.2 163.5L237.1 161.0L238.8 159.0L240.8 157.5L243.5 156.3L246.5 155.6L250.0 155.5L253.0 155.9L256.0 156.9L258.5 158.3L261.2 160.5L263.8 163.5L265.9 167.0L266.6 169.5L266.3 171.5L264.7 173.5L262.5 174.7L259.5 175.6ZM278.5 228.2L277.5 228.3L277.0 228.1L276.6 227.0L279.1 213.5L280.0 210.5L281.1 208.0L282.5 205.9L284.5 203.8L291.3 198.5L297.5 192.9L299.5 191.6L301.5 190.8L304.5 190.2L308.0 190.0L322.0 191.0L325.5 190.5L328.0 189.5L330.0 188.0L331.7 186.0L336.8 176.5L339.5 172.6L343.0 169.5L346.5 167.8L348.5 167.5L350.5 167.7L352.5 168.3L354.5 169.5L358.5 172.8L366.1 180.5L368.5 183.6L370.8 187.5L376.3 199.0L377.9 203.5L378.4 206.5L378.2 209.5L377.2 212.0L375.3 214.5L373.0 216.2L370.0 217.7L358.5 221.5L355.0 222.1L351.5 222.4L341.5 221.3L337.5 221.4L334.0 222.3L325.0 226.1L322.0 226.7L319.5 226.8L317.0 226.5L314.0 225.6L305.5 221.6L302.0 220.3L298.5 219.5L295.5 219.4L292.4 220.0L288.8 221.5L285.4 223.5L278.5 228.2Z" fill="#336B9B"/>
<path d="M257.0 174.5L253.5 174.5L249.3 173.5L245.5 171.8L242.1 169.5L240.2 167.5L239.0 165.0L239.2 162.5L240.3 160.5L241.9 159.0L244.0 157.8L246.5 157.0L249.0 156.7L252.0 156.8L254.5 157.5L256.8 158.5L259.1 160.0L261.5 162.5L263.2 165.0L264.2 167.5L264.4 169.5L263.7 171.5L262.0 173.0L259.8 174.0L257.0 174.5ZM321.0 226.0L318.0 225.8L315.0 225.1L304.0 220.0L300.5 218.8L297.5 218.2L295.0 218.0L292.5 218.3L285.0 220.8L283.5 221.1L282.5 221.0L281.3 220.0L280.7 217.5L280.9 214.0L281.8 211.0L283.0 208.5L285.1 206.0L291.5 200.9L297.9 195.0L300.5 193.2L303.5 191.9L307.0 191.2L311.0 191.1L322.0 191.9L325.0 191.6L327.5 190.8L329.8 189.5L331.7 187.5L333.3 185.0L338.0 176.0L340.0 173.4L342.5 171.0L345.0 169.4L348.0 168.6L350.5 168.8L353.5 170.0L357.3 173.0L364.2 180.0L367.5 184.0L370.0 188.0L375.3 198.5L377.2 203.5L377.6 206.0L377.6 208.0L377.2 210.0L376.3 212.0L374.1 214.5L371.0 216.5L366.0 218.5L359.0 220.6L355.0 221.4L351.5 221.7L341.5 220.5L337.5 220.5L333.5 221.6L325.5 225.1L321.0 226.0Z" fill="#356EA0"/>
<path d="M257.5 173.1L254.0 173.4L250.5 172.8L247.0 171.4L244.0 169.5L242.2 167.5L241.1 165.0L241.3 163.0L242.3 161.0L244.0 159.5L245.5 158.7L247.5 158.1L249.5 157.8L252.0 158.0L254.0 158.4L256.0 159.3L258.0 160.6L260.0 162.5L261.4 164.5L262.2 166.5L262.4 168.5L262.1 170.0L261.0 171.4L259.5 172.4L257.5 173.1ZM322.0 225.1L319.0 225.1L315.5 224.3L304.5 219.1L297.5 216.8L293.0 216.4L287.5 217.1L285.5 217.0L284.5 216.5L283.9 215.5L283.7 214.0L284.1 212.0L285.0 210.0L286.6 208.0L292.0 203.1L298.0 197.0L301.5 194.3L304.5 193.0L308.0 192.2L312.0 192.1L322.5 192.7L325.5 192.4L328.4 191.5L330.5 190.2L332.5 188.0L338.3 177.0L340.5 174.1L342.5 172.1L345.1 170.5L348.0 169.7L350.5 169.9L353.0 170.9L357.0 174.0L363.8 181.0L367.0 185.0L370.0 189.9L374.5 198.5L376.4 203.5L376.8 206.0L376.8 208.0L376.3 210.0L375.6 211.5L373.5 214.0L370.5 215.9L365.5 218.0L359.0 220.0L355.0 220.7L351.5 220.9L341.5 219.6L337.5 219.6L334.0 220.5L326.0 224.0L322.0 225.1Z" fill="#3672A4"/>
<path d="M255.5 172.0L253.0 172.1L250.0 171.5L247.5 170.4L245.0 168.6L243.8 167.0L243.1 165.0L243.3 163.0L244.3 161.5L245.4 160.5L247.0 159.7L249.0 159.2L251.0 159.1L254.5 159.9L256.5 161.0L257.8 162.0L259.1 163.5L260.2 165.5L260.5 167.0L260.4 168.5L259.7 170.0L258.5 171.0L255.5 172.0ZM322.5 224.1L319.5 224.2L316.0 223.5L302.5 217.2L291.0 213.2L290.0 212.6L289.5 212.0L289.4 211.0L289.7 210.0L291.9 206.5L296.6 200.5L299.5 197.4L302.5 195.2L305.5 193.8L309.0 193.1L312.5 193.0L323.5 193.5L326.5 193.1L329.0 192.3L331.0 191.0L333.0 188.9L334.5 186.4L338.7 178.0L340.5 175.4L342.5 173.3L345.0 171.7L347.5 170.9L350.2 171.0L353.0 172.1L357.0 175.3L363.8 182.5L367.0 186.7L370.5 192.4L374.0 199.0L375.7 203.5L376.0 207.5L375.6 209.5L374.9 211.0L373.0 213.4L370.0 215.4L365.5 217.3L359.0 219.3L355.0 220.0L351.5 220.2L341.0 218.7L337.0 218.7L333.5 219.6L326.0 223.1L322.5 224.1Z" fill="#3875A9"/>
<path d="M255.0 170.5L253.0 170.7L251.0 170.4L248.6 169.5L247.0 168.4L245.7 167.0L245.1 165.5L245.1 164.0L246.0 162.3L248.0 161.0L251.0 160.5L253.7 161.0L256.2 162.5L258.1 165.0L258.5 166.5L258.5 167.5L258.1 168.5L257.3 169.5L255.0 170.5ZM323.0 223.0L319.5 223.2L315.5 222.3L299.2 214.5L296.6 213.0L294.8 211.5L294.0 209.5L294.4 207.0L295.9 204.0L298.4 200.5L300.7 198.0L303.5 196.0L306.5 194.6L309.0 194.1L312.0 193.8L324.5 194.3L327.5 193.9L330.0 192.9L332.0 191.5L333.7 189.5L339.0 179.0L341.0 176.2L343.0 174.2L345.5 172.6L348.0 172.0L350.5 172.2L353.0 173.4L357.0 176.7L363.5 183.6L367.0 188.3L371.1 195.0L373.9 200.5L375.1 204.5L375.1 208.0L374.0 210.9L372.0 213.2L369.0 215.1L364.2 217.0L358.5 218.7L355.0 219.3L351.5 219.5L348.5 219.2L341.0 217.8L337.0 217.8L333.0 218.8L326.2 222.0L323.0 223.0Z" fill="#3A79AD"/>
<path d="M254.5 168.6L253.0 168.9L251.5 168.8L250.0 168.3L248.7 167.5L247.8 166.5L247.5 165.5L247.5 164.5L248.0 163.5L249.4 162.5L251.0 162.2L252.9 162.5L254.5 163.4L255.9 165.0L256.2 166.5L255.5 167.9L254.5 168.6ZM322.5 222.1L319.0 222.1L315.5 221.1L302.9 215.0L298.8 212.5L297.1 210.5L296.5 208.5L296.8 206.0L298.5 202.5L300.5 199.9L303.0 197.6L305.5 196.1L308.0 195.3L313.0 194.7L325.0 195.2L328.0 194.8L330.5 193.8L332.5 192.4L334.1 190.5L335.6 188.0L339.5 179.9L341.1 177.5L343.0 175.4L345.5 173.8L348.0 173.2L350.5 173.5L353.0 174.7L357.0 178.0L363.0 184.5L367.0 189.8L370.8 196.0L373.3 201.0L374.3 204.5L374.3 207.5L373.2 210.5L371.5 212.5L368.5 214.5L364.0 216.4L358.5 218.0L355.0 218.6L351.5 218.7L348.5 218.4L341.0 216.8L337.0 216.7L333.0 217.7L326.0 221.0L322.5 222.1Z" fill="#3C7CB2"/>
<path d="M321.5 221.0L318.5 220.9L315.0 219.7L304.3 214.5L300.6 212.0L299.0 210.0L298.4 207.5L299.0 204.5L300.7 201.5L302.5 199.5L304.5 197.9L306.5 196.8L309.0 196.0L313.5 195.6L325.5 196.1L328.5 195.7L330.6 195.0L332.9 193.5L334.6 191.5L336.1 189.0L340.0 180.7L341.5 178.5L343.5 176.3L346.0 174.8L348.5 174.4L351.0 174.9L353.5 176.3L358.0 180.4L363.5 186.5L367.2 191.5L370.8 197.5L372.7 201.5L373.6 205.0L373.4 208.0L372.2 210.5L370.2 212.5L367.0 214.4L362.5 216.2L357.6 217.5L354.0 218.0L351.0 217.9L340.5 215.8L336.5 215.7L332.5 216.8L324.5 220.4L321.5 221.0Z" fill="#3D7FB7"/>
<path d="M323.0 219.5L320.0 219.8L316.5 219.0L307.5 214.9L303.3 212.5L301.2 210.5L300.2 208.5L300.1 206.0L301.2 203.0L302.7 201.0L304.8 199.0L307.0 197.7L309.5 196.9L314.0 196.4L323.0 197.1L326.5 197.1L329.5 196.6L332.0 195.6L334.0 194.0L335.5 192.0L339.8 183.0L341.5 180.0L343.5 177.7L346.0 176.1L348.5 175.7L351.0 176.2L353.5 177.7L356.5 180.3L362.0 186.2L366.0 191.2L369.7 197.0L371.9 201.5L372.6 204.0L372.7 206.0L372.4 208.0L371.8 209.5L370.6 211.0L368.9 212.5L363.7 215.0L358.0 216.7L353.0 217.3L349.0 216.9L340.0 214.7L336.0 214.6L332.5 215.5L326.0 218.5L323.0 219.5Z" fill="#3F83BB"/>
<path d="M323.0 218.1L320.0 218.3L316.5 217.5L309.0 214.4L304.8 212.0L302.7 210.0L301.8 208.0L301.8 205.5L302.7 203.0L304.3 201.0L306.0 199.5L308.0 198.4L310.5 197.7L315.0 197.4L323.5 198.2L327.0 198.2L330.0 197.8L332.5 196.8L334.5 195.2L336.1 193.0L340.3 184.0L342.0 181.0L344.0 178.8L346.5 177.3L349.0 177.0L351.5 177.8L354.0 179.5L357.5 182.7L362.0 187.5L366.0 192.6L369.4 198.0L371.2 202.0L371.8 204.5L371.8 206.5L371.5 208.0L370.5 209.8L369.0 211.4L367.4 212.5L362.0 214.9L356.5 216.3L352.0 216.5L348.0 215.8L340.0 213.6L336.0 213.3L332.0 214.3L325.5 217.3L323.0 218.1Z" fill="#4186C0"/>
<path d="M322.5 216.5L319.5 216.6L316.0 215.8L309.5 213.2L306.0 211.2L304.3 209.5L303.3 207.5L303.3 205.5L304.3 203.0L305.5 201.5L307.4 200.0L309.5 199.1L311.5 198.6L315.5 198.4L327.5 199.5L330.5 199.2L333.0 198.2L335.0 196.5L336.5 194.5L340.8 185.0L342.5 182.1L344.5 179.9L347.0 178.6L349.5 178.5L352.0 179.5L354.5 181.3L358.0 184.5L362.5 189.4L366.1 194.0L368.9 198.5L370.5 202.5L370.9 204.5L370.9 206.5L370.2 208.5L369.1 210.0L367.5 211.4L365.8 212.5L360.0 214.7L355.5 215.6L351.5 215.6L348.0 215.0L339.5 212.3L336.0 211.9L332.0 212.7L325.5 215.6L322.5 216.5Z" fill="#428AC4"/>
<path d="M358.0 214.5L354.0 215.0L350.0 214.6L346.5 213.6L339.0 210.8L335.5 210.2L332.0 210.7L325.5 213.6L323.0 214.4L320.5 214.7L318.0 214.5L311.5 212.6L307.5 210.5L306.3 209.5L305.3 208.0L305.0 207.0L305.0 205.5L305.7 203.5L307.0 201.9L309.0 200.6L311.5 199.7L316.0 199.5L328.5 201.1L331.0 200.9L333.0 200.2L335.0 198.7L337.0 196.0L341.4 186.0L343.5 182.6L345.0 181.1L346.5 180.2L348.0 179.9L349.5 180.0L352.0 180.9L354.5 182.7L358.0 185.9L362.0 190.1L365.0 193.8L367.1 197.0L368.8 200.0L369.8 203.0L370.0 205.0L369.8 207.0L369.1 208.5L367.9 210.0L366.0 211.4L364.0 212.5L358.0 214.5Z" fill="#448DC9"/>
<path d="M356.5 214.0L352.5 214.1L348.5 213.3L345.0 212.0L337.0 208.2L334.0 207.3L333.0 207.3L331.5 207.8L326.5 210.6L323.1 212.0L320.0 212.5L316.5 212.2L312.0 211.0L309.0 209.5L307.8 208.5L307.2 207.5L306.9 205.5L307.5 203.8L309.0 202.3L311.0 201.3L313.5 200.8L318.5 201.2L330.0 203.7L331.5 203.8L333.0 203.4L335.0 201.7L337.0 198.7L338.6 195.5L341.8 187.5L343.5 184.5L345.0 182.9L346.5 181.9L348.0 181.4L349.5 181.5L352.0 182.4L354.5 184.1L358.0 187.2L361.5 190.8L364.5 194.5L366.5 197.5L368.1 200.5L368.9 203.0L369.1 205.0L368.7 207.0L367.9 208.5L366.5 210.0L364.5 211.3L362.1 212.5L356.5 214.0Z" fill="#4691CE"/>
<path d="M357.5 213.0L354.5 213.4L352.0 213.2L349.5 212.7L347.0 211.8L343.4 210.0L340.4 208.0L338.3 206.0L337.6 204.5L337.5 203.0L337.9 201.0L342.5 188.6L343.6 186.5L345.0 184.7L346.0 183.9L347.5 183.2L349.5 183.0L351.5 183.7L354.0 185.2L357.5 188.1L361.0 191.5L364.0 195.1L366.2 198.5L367.6 201.5L368.0 203.5L368.0 205.5L367.6 207.0L366.6 208.5L365.0 210.0L363.0 211.2L360.5 212.2L357.5 213.0ZM320.0 209.5L316.0 209.7L312.0 208.8L310.7 208.0L309.8 207.0L309.5 206.0L309.6 205.0L311.0 203.4L312.5 202.8L314.0 202.6L317.5 202.9L320.9 204.0L323.4 205.5L323.8 206.0L323.9 207.0L322.6 208.5L320.0 209.5Z" fill="#4894D2"/>
<path d="M355.0 212.5L350.5 212.1L346.0 210.2L343.3 208.5L341.7 207.0L340.5 205.5L339.8 204.0L339.6 202.0L340.0 199.5L341.2 195.0L342.9 190.5L344.0 188.3L345.3 186.5L346.5 185.4L348.0 184.8L350.0 184.7L352.0 185.4L354.5 186.9L358.0 189.8L361.0 192.8L363.6 196.0L365.5 199.0L366.8 202.0L367.1 204.0L366.8 206.0L366.1 207.5L364.7 209.0L363.0 210.2L360.5 211.4L358.0 212.1L355.0 212.5Z" fill="#4998D7"/>
<path d="M356.5 211.5L352.0 211.5L347.7 210.0L345.3 208.5L343.6 207.0L342.4 205.5L341.7 204.0L341.3 202.0L341.3 200.0L341.9 197.0L343.0 193.3L344.2 190.5L345.5 188.5L346.5 187.4L348.0 186.6L350.0 186.4L352.0 186.9L354.5 188.3L357.0 190.2L360.0 193.0L362.5 195.9L364.3 198.5L365.5 201.0L365.9 203.0L366.0 204.5L365.6 206.0L364.8 207.5L363.2 209.0L361.5 210.0L359.0 211.0L356.5 211.5Z" fill="#4B9BDB"/>
<path d="M357.0 210.5L353.0 210.7L349.0 209.5L347.2 208.5L345.4 207.0L344.1 205.5L343.3 204.0L342.8 202.0L342.7 200.0L343.0 197.5L343.8 194.5L344.9 192.0L346.0 190.2L347.2 189.0L348.5 188.3L350.0 188.1L352.0 188.5L354.0 189.4L356.5 191.1L359.0 193.3L361.5 196.0L363.0 198.1L364.2 200.5L364.8 202.5L364.9 204.0L364.6 205.5L363.7 207.0L362.5 208.2L361.0 209.2L357.0 210.5Z" fill="#4D9FE0"/>
<path d="M357.0 209.6L353.5 209.7L350.0 208.8L347.0 206.9L345.7 205.5L344.8 204.0L344.3 202.5L344.0 200.5L344.5 196.5L346.2 192.5L347.4 191.0L348.5 190.3L350.0 189.8L351.5 189.9L353.5 190.6L355.5 191.8L358.0 193.7L360.0 195.7L361.8 198.0L362.9 200.0L363.7 203.0L363.6 204.5L362.9 206.0L362.0 207.1L360.5 208.3L357.0 209.6Z" fill="#4FA3E5"/>
<path d="M356.5 208.6L353.5 208.6L350.5 207.8L347.9 206.0L346.1 203.5L345.6 202.0L345.4 200.0L345.9 196.5L347.5 193.4L349.5 191.8L351.0 191.6L352.5 191.8L356.0 193.5L359.5 196.7L360.9 198.5L361.9 200.5L362.4 203.0L362.2 204.5L361.7 205.5L360.9 206.5L359.5 207.5L356.5 208.6Z" fill="#51A6E9"/>
<path d="M355.0 207.5L352.5 207.2L350.0 206.0L348.4 204.5L347.3 202.5L346.9 200.0L347.4 197.0L348.5 194.9L349.5 194.0L350.5 193.6L353.0 193.6L356.0 195.0L359.0 197.9L360.7 201.0L360.9 203.5L359.9 205.5L357.6 207.0L355.0 207.5Z" fill="#52AAEE"/>
<path d="M355.5 206.0L353.5 206.0L351.5 205.2L350.0 204.0L349.0 202.5L348.5 200.5L348.7 198.5L349.5 196.9L351.0 195.6L353.0 195.5L355.5 196.5L357.5 198.2L359.0 200.5L359.3 202.5L358.8 204.0L357.5 205.3L355.5 206.0Z" fill="#54ADF2"/>
<path d="M356.0 203.5L355.0 203.9L353.5 203.8L352.5 203.4L351.5 202.5L350.9 200.5L351.0 199.5L351.6 198.5L352.5 198.0L353.6 198.0L355.0 198.6L356.1 199.5L356.9 201.0L357.0 202.0L356.6 203.0L356.0 203.5Z" fill="#56B1F7"/>
</g>
<g fill="#F80C18" fill-opacity="0.92">
<circle cx="237.5" cy="100.3" r="1.65"/><circle cx="237.8" cy="103.3" r="1.65"/><circle cx="233.3" cy="105.5" r="1.65"/><circle cx="241.7" cy="105.8" r="1.65"/><circle cx="213.3" cy="108.3" r="1.65"/><circle cx="225.2" cy="111.3" r="1.65"/><circle cx="242.7" cy="111.7" r="1.65"/><circle cx="201.2" cy="112.0" r="1.65"/><circle cx="234.7" cy="117.0" r="1.65"/><circle cx="237.5" cy="117.5" r="1.65"/><circle cx="236.3" cy="119.7" r="1.65"/><circle cx="255.8" cy="119.2" r="1.65"/><circle cx="257.5" cy="120.5" r="1.65"/><circle cx="197.2" cy="120.5" r="1.65"/><circle cx="208.7" cy="119.8" r="1.65"/><circle cx="223.8" cy="122.2" r="1.65"/><circle cx="233.0" cy="121.7" r="1.65"/><circle cx="238.0" cy="121.3" r="1.65"/><circle cx="238.3" cy="126.7" r="1.65"/><circle cx="246.3" cy="126.3" r="1.65"/><circle cx="218.3" cy="128.7" r="1.65"/><circle cx="220.0" cy="130.0" r="1.65"/><circle cx="228.7" cy="129.7" r="1.65"/><circle cx="188.7" cy="132.7" r="1.65"/><circle cx="237.0" cy="133.0" r="1.65"/><circle cx="244.2" cy="133.0" r="1.65"/><circle cx="249.5" cy="133.3" r="1.65"/><circle cx="254.5" cy="134.0" r="1.65"/><circle cx="260.8" cy="133.7" r="1.65"/><circle cx="224.3" cy="134.7" r="1.65"/><circle cx="233.3" cy="135.5" r="1.65"/><circle cx="242.2" cy="135.3" r="1.65"/><circle cx="248.3" cy="136.3" r="1.65"/><circle cx="243.3" cy="137.0" r="1.65"/><circle cx="260.8" cy="137.0" r="1.65"/><circle cx="190.8" cy="135.3" r="1.65"/><circle cx="191.7" cy="136.7" r="1.65"/><circle cx="237.2" cy="138.0" r="1.65"/><circle cx="228.0" cy="140.0" r="1.65"/><circle cx="190.5" cy="140.5" r="1.65"/><circle cx="211.0" cy="140.5" r="1.65"/><circle cx="203.7" cy="141.0" r="1.65"/><circle cx="238.0" cy="141.0" r="1.65"/><circle cx="223.3" cy="141.7" r="1.65"/><circle cx="179.2" cy="142.0" r="1.65"/><circle cx="196.3" cy="142.2" r="1.65"/><circle cx="185.8" cy="144.2" r="1.65"/><circle cx="183.3" cy="145.3" r="1.65"/><circle cx="259.2" cy="144.3" r="1.65"/><circle cx="205.5" cy="145.3" r="1.65"/><circle cx="194.7" cy="145.8" r="1.65"/><circle cx="197.7" cy="147.0" r="1.65"/><circle cx="234.0" cy="146.3" r="1.65"/><circle cx="225.3" cy="147.0" r="1.65"/><circle cx="212.0" cy="147.8" r="1.65"/><circle cx="194.2" cy="148.7" r="1.65"/><circle cx="205.0" cy="148.7" r="1.65"/><circle cx="180.5" cy="149.5" r="1.65"/><circle cx="248.3" cy="149.5" r="1.65"/><circle cx="225.8" cy="149.5" r="1.65"/><circle cx="232.5" cy="149.5" r="1.65"/><circle cx="230.0" cy="150.8" r="1.65"/><circle cx="193.3" cy="151.2" r="1.65"/><circle cx="187.5" cy="152.8" r="1.65"/><circle cx="200.3" cy="153.3" r="1.65"/><circle cx="240.0" cy="153.7" r="1.65"/><circle cx="261.7" cy="154.2" r="1.65"/><circle cx="200.8" cy="155.0" r="1.65"/><circle cx="218.8" cy="154.7" r="1.65"/><circle cx="217.5" cy="155.5" r="1.65"/><circle cx="194.3" cy="156.3" r="1.65"/><circle cx="226.2" cy="156.3" r="1.65"/><circle cx="255.8" cy="157.0" r="1.65"/><circle cx="182.5" cy="158.3" r="1.65"/><circle cx="240.8" cy="157.7" r="1.65"/><circle cx="201.7" cy="158.7" r="1.65"/><circle cx="200.0" cy="159.5" r="1.65"/><circle cx="252.5" cy="158.7" r="1.65"/><circle cx="249.2" cy="160.0" r="1.65"/><circle cx="258.3" cy="160.0" r="1.65"/><circle cx="193.0" cy="161.2" r="1.65"/><circle cx="215.3" cy="161.7" r="1.65"/><circle cx="219.7" cy="162.5" r="1.65"/><circle cx="241.7" cy="162.5" r="1.65"/><circle cx="245.3" cy="162.5" r="1.65"/><circle cx="243.3" cy="164.2" r="1.65"/><circle cx="249.3" cy="163.8" r="1.65"/><circle cx="196.7" cy="165.0" r="1.65"/><circle cx="228.3" cy="164.5" r="1.65"/><circle cx="218.3" cy="165.0" r="1.65"/><circle cx="180.0" cy="165.8" r="1.65"/><circle cx="216.7" cy="166.7" r="1.65"/><circle cx="227.5" cy="166.7" r="1.65"/><circle cx="259.2" cy="165.3" r="1.65"/><circle cx="250.0" cy="167.0" r="1.65"/><circle cx="251.7" cy="168.0" r="1.65"/><circle cx="155.5" cy="168.0" r="1.65"/><circle cx="242.5" cy="169.7" r="1.65"/><circle cx="231.3" cy="169.7" r="1.65"/><circle cx="222.5" cy="169.7" r="1.65"/><circle cx="283.2" cy="106.2" r="1.65"/><circle cx="278.3" cy="125.0" r="1.65"/><circle cx="262.8" cy="132.5" r="1.65"/><circle cx="284.3" cy="132.2" r="1.65"/><circle cx="284.2" cy="137.8" r="1.65"/><circle cx="312.5" cy="134.5" r="1.65"/><circle cx="299.5" cy="139.5" r="1.65"/><circle cx="301.2" cy="138.8" r="1.65"/><circle cx="304.0" cy="139.3" r="1.65"/><circle cx="309.0" cy="138.8" r="1.65"/><circle cx="335.8" cy="140.0" r="1.65"/><circle cx="337.8" cy="143.7" r="1.65"/><circle cx="262.8" cy="144.5" r="1.65"/><circle cx="307.5" cy="146.2" r="1.65"/><circle cx="328.3" cy="147.2" r="1.65"/><circle cx="335.0" cy="146.7" r="1.65"/><circle cx="343.7" cy="149.7" r="1.65"/><circle cx="285.3" cy="148.7" r="1.65"/><circle cx="286.7" cy="149.3" r="1.65"/><circle cx="294.2" cy="151.0" r="1.65"/><circle cx="295.3" cy="152.5" r="1.65"/><circle cx="290.7" cy="154.3" r="1.65"/><circle cx="321.5" cy="154.3" r="1.65"/><circle cx="333.3" cy="154.2" r="1.65"/><circle cx="295.8" cy="156.3" r="1.65"/><circle cx="300.7" cy="157.0" r="1.65"/><circle cx="346.5" cy="156.7" r="1.65"/><circle cx="346.5" cy="158.0" r="1.65"/><circle cx="351.7" cy="157.8" r="1.65"/><circle cx="262.8" cy="156.7" r="1.65"/><circle cx="266.7" cy="157.8" r="1.65"/><circle cx="263.3" cy="159.2" r="1.65"/><circle cx="283.2" cy="158.3" r="1.65"/><circle cx="285.3" cy="159.2" r="1.65"/><circle cx="292.0" cy="158.3" r="1.65"/><circle cx="290.0" cy="159.5" r="1.65"/><circle cx="286.5" cy="160.0" r="1.65"/><circle cx="282.8" cy="161.2" r="1.65"/><circle cx="304.0" cy="161.7" r="1.65"/><circle cx="349.5" cy="164.5" r="1.65"/><circle cx="352.5" cy="166.2" r="1.65"/><circle cx="358.7" cy="164.8" r="1.65"/><circle cx="363.2" cy="164.8" r="1.65"/><circle cx="370.3" cy="165.3" r="1.65"/><circle cx="284.8" cy="165.3" r="1.65"/><circle cx="266.5" cy="166.3" r="1.65"/><circle cx="269.5" cy="168.7" r="1.65"/><circle cx="298.2" cy="168.3" r="1.65"/><circle cx="302.5" cy="169.2" r="1.65"/><circle cx="309.8" cy="168.3" r="1.65"/><circle cx="330.0" cy="168.0" r="1.65"/><circle cx="333.3" cy="169.5" r="1.65"/><circle cx="349.5" cy="168.3" r="1.65"/><circle cx="353.7" cy="168.7" r="1.65"/><circle cx="430.3" cy="156.2" r="1.65"/><circle cx="379.8" cy="167.7" r="1.65"/><circle cx="384.3" cy="168.3" r="1.65"/><circle cx="181.3" cy="170.8" r="1.65"/><circle cx="197.0" cy="171.3" r="1.65"/><circle cx="202.2" cy="171.7" r="1.65"/><circle cx="217.2" cy="170.8" r="1.65"/><circle cx="225.8" cy="171.3" r="1.65"/><circle cx="231.2" cy="170.8" r="1.65"/><circle cx="245.0" cy="171.3" r="1.65"/><circle cx="175.8" cy="173.3" r="1.65"/><circle cx="209.7" cy="173.0" r="1.65"/><circle cx="256.7" cy="172.2" r="1.65"/><circle cx="213.0" cy="175.0" r="1.65"/><circle cx="177.5" cy="177.2" r="1.65"/><circle cx="179.5" cy="178.0" r="1.65"/><circle cx="188.3" cy="177.2" r="1.65"/><circle cx="206.7" cy="178.7" r="1.65"/><circle cx="210.3" cy="178.3" r="1.65"/><circle cx="223.3" cy="178.3" r="1.65"/><circle cx="225.3" cy="177.5" r="1.65"/><circle cx="240.5" cy="176.3" r="1.65"/><circle cx="244.3" cy="175.8" r="1.65"/><circle cx="252.2" cy="178.7" r="1.65"/><circle cx="260.8" cy="175.8" r="1.65"/><circle cx="184.5" cy="182.0" r="1.65"/><circle cx="190.0" cy="183.0" r="1.65"/><circle cx="205.0" cy="182.5" r="1.65"/><circle cx="226.7" cy="182.5" r="1.65"/><circle cx="163.7" cy="185.3" r="1.65"/><circle cx="166.3" cy="187.2" r="1.65"/><circle cx="207.0" cy="185.5" r="1.65"/><circle cx="228.3" cy="185.8" r="1.65"/><circle cx="188.8" cy="187.0" r="1.65"/><circle cx="260.0" cy="186.2" r="1.65"/><circle cx="170.3" cy="190.3" r="1.65"/><circle cx="194.7" cy="190.8" r="1.65"/><circle cx="253.7" cy="191.7" r="1.65"/><circle cx="258.8" cy="190.8" r="1.65"/><circle cx="170.3" cy="194.7" r="1.65"/><circle cx="172.2" cy="196.7" r="1.65"/><circle cx="161.7" cy="196.7" r="1.65"/><circle cx="182.2" cy="196.3" r="1.65"/><circle cx="200.8" cy="194.2" r="1.65"/><circle cx="204.5" cy="193.8" r="1.65"/><circle cx="205.0" cy="196.7" r="1.65"/><circle cx="209.5" cy="195.8" r="1.65"/><circle cx="212.2" cy="196.3" r="1.65"/><circle cx="225.0" cy="197.8" r="1.65"/><circle cx="250.0" cy="195.8" r="1.65"/><circle cx="248.7" cy="197.5" r="1.65"/><circle cx="251.3" cy="193.3" r="1.65"/><circle cx="186.3" cy="198.3" r="1.65"/><circle cx="188.7" cy="198.3" r="1.65"/><circle cx="191.2" cy="199.3" r="1.65"/><circle cx="171.2" cy="200.5" r="1.65"/><circle cx="171.2" cy="202.0" r="1.65"/><circle cx="207.8" cy="200.5" r="1.65"/><circle cx="203.8" cy="198.7" r="1.65"/><circle cx="235.5" cy="202.0" r="1.65"/><circle cx="245.5" cy="202.2" r="1.65"/><circle cx="249.7" cy="201.7" r="1.65"/><circle cx="251.7" cy="200.8" r="1.65"/><circle cx="257.2" cy="200.8" r="1.65"/><circle cx="180.0" cy="203.7" r="1.65"/><circle cx="223.3" cy="203.7" r="1.65"/><circle cx="257.0" cy="204.7" r="1.65"/><circle cx="214.7" cy="208.3" r="1.65"/><circle cx="248.3" cy="208.7" r="1.65"/><circle cx="261.3" cy="208.7" r="1.65"/><circle cx="185.5" cy="209.7" r="1.65"/><circle cx="206.3" cy="210.0" r="1.65"/><circle cx="174.5" cy="211.3" r="1.65"/><circle cx="175.8" cy="212.0" r="1.65"/><circle cx="158.8" cy="213.3" r="1.65"/><circle cx="164.7" cy="214.2" r="1.65"/><circle cx="177.2" cy="216.2" r="1.65"/><circle cx="258.7" cy="214.7" r="1.65"/><circle cx="183.8" cy="219.5" r="1.65"/><circle cx="177.8" cy="220.0" r="1.65"/><circle cx="251.3" cy="223.0" r="1.65"/><circle cx="257.0" cy="222.0" r="1.65"/><circle cx="161.3" cy="224.3" r="1.65"/><circle cx="223.8" cy="225.3" r="1.65"/><circle cx="189.5" cy="225.8" r="1.65"/><circle cx="192.2" cy="225.3" r="1.65"/><circle cx="190.5" cy="227.5" r="1.65"/><circle cx="195.3" cy="228.3" r="1.65"/><circle cx="189.7" cy="228.8" r="1.65"/><circle cx="231.7" cy="230.0" r="1.65"/><circle cx="258.3" cy="229.2" r="1.65"/><circle cx="180.0" cy="233.0" r="1.65"/><circle cx="239.5" cy="233.3" r="1.65"/><circle cx="188.7" cy="238.0" r="1.65"/><circle cx="187.8" cy="238.7" r="1.65"/><circle cx="258.8" cy="237.8" r="1.65"/><circle cx="176.2" cy="240.3" r="1.65"/><circle cx="257.5" cy="240.8" r="1.65"/><circle cx="256.7" cy="247.5" r="1.65"/><circle cx="256.7" cy="249.2" r="1.65"/><circle cx="235.3" cy="249.7" r="1.65"/><circle cx="269.5" cy="170.8" r="1.65"/><circle cx="278.7" cy="170.8" r="1.65"/><circle cx="309.8" cy="170.0" r="1.65"/><circle cx="354.2" cy="170.8" r="1.65"/><circle cx="263.7" cy="174.2" r="1.65"/><circle cx="267.8" cy="174.7" r="1.65"/><circle cx="272.3" cy="173.3" r="1.65"/><circle cx="278.3" cy="173.7" r="1.65"/><circle cx="292.8" cy="173.3" r="1.65"/><circle cx="288.7" cy="175.3" r="1.65"/><circle cx="295.8" cy="175.8" r="1.65"/><circle cx="324.5" cy="175.0" r="1.65"/><circle cx="332.3" cy="174.2" r="1.65"/><circle cx="337.5" cy="171.7" r="1.65"/><circle cx="342.0" cy="173.7" r="1.65"/><circle cx="344.5" cy="175.3" r="1.65"/><circle cx="350.0" cy="174.2" r="1.65"/><circle cx="353.3" cy="173.0" r="1.65"/><circle cx="270.3" cy="177.5" r="1.65"/><circle cx="277.3" cy="177.0" r="1.65"/><circle cx="295.3" cy="177.5" r="1.65"/><circle cx="307.0" cy="178.0" r="1.65"/><circle cx="344.2" cy="177.8" r="1.65"/><circle cx="362.0" cy="177.5" r="1.65"/><circle cx="370.3" cy="177.5" r="1.65"/><circle cx="373.3" cy="176.7" r="1.65"/><circle cx="287.3" cy="180.0" r="1.65"/><circle cx="307.3" cy="180.3" r="1.65"/><circle cx="341.7" cy="180.3" r="1.65"/><circle cx="354.5" cy="180.0" r="1.65"/><circle cx="365.0" cy="179.7" r="1.65"/><circle cx="269.8" cy="183.0" r="1.65"/><circle cx="292.3" cy="183.0" r="1.65"/><circle cx="291.7" cy="184.5" r="1.65"/><circle cx="295.8" cy="183.0" r="1.65"/><circle cx="341.7" cy="182.0" r="1.65"/><circle cx="337.3" cy="184.2" r="1.65"/><circle cx="347.5" cy="184.2" r="1.65"/><circle cx="356.7" cy="183.3" r="1.65"/><circle cx="359.5" cy="182.0" r="1.65"/><circle cx="367.3" cy="183.0" r="1.65"/><circle cx="372.5" cy="183.7" r="1.65"/><circle cx="270.3" cy="187.2" r="1.65"/><circle cx="296.2" cy="188.0" r="1.65"/><circle cx="343.7" cy="186.2" r="1.65"/><circle cx="347.8" cy="186.7" r="1.65"/><circle cx="327.0" cy="188.7" r="1.65"/><circle cx="332.8" cy="188.0" r="1.65"/><circle cx="337.3" cy="188.3" r="1.65"/><circle cx="340.0" cy="188.0" r="1.65"/><circle cx="344.8" cy="187.5" r="1.65"/><circle cx="349.2" cy="189.2" r="1.65"/><circle cx="351.5" cy="189.7" r="1.65"/><circle cx="367.0" cy="189.7" r="1.65"/><circle cx="287.3" cy="189.2" r="1.65"/><circle cx="284.2" cy="191.2" r="1.65"/><circle cx="310.3" cy="190.5" r="1.65"/><circle cx="316.2" cy="191.3" r="1.65"/><circle cx="315.0" cy="192.5" r="1.65"/><circle cx="347.0" cy="192.0" r="1.65"/><circle cx="357.8" cy="192.0" r="1.65"/><circle cx="356.7" cy="193.8" r="1.65"/><circle cx="354.5" cy="195.0" r="1.65"/><circle cx="364.5" cy="191.7" r="1.65"/><circle cx="265.7" cy="196.2" r="1.65"/><circle cx="299.0" cy="196.7" r="1.65"/><circle cx="311.5" cy="197.5" r="1.65"/><circle cx="329.5" cy="195.8" r="1.65"/><circle cx="345.7" cy="197.5" r="1.65"/><circle cx="361.7" cy="197.5" r="1.65"/><circle cx="366.2" cy="196.3" r="1.65"/><circle cx="368.2" cy="198.3" r="1.65"/><circle cx="278.7" cy="200.8" r="1.65"/><circle cx="281.2" cy="199.2" r="1.65"/><circle cx="283.2" cy="200.5" r="1.65"/><circle cx="289.0" cy="200.0" r="1.65"/><circle cx="293.2" cy="200.8" r="1.65"/><circle cx="305.7" cy="200.8" r="1.65"/><circle cx="315.3" cy="200.5" r="1.65"/><circle cx="315.0" cy="202.0" r="1.65"/><circle cx="326.2" cy="200.0" r="1.65"/><circle cx="334.2" cy="200.0" r="1.65"/><circle cx="336.7" cy="200.5" r="1.65"/><circle cx="350.8" cy="201.3" r="1.65"/><circle cx="361.7" cy="200.8" r="1.65"/><circle cx="278.7" cy="203.3" r="1.65"/><circle cx="283.7" cy="204.7" r="1.65"/><circle cx="287.8" cy="204.2" r="1.65"/><circle cx="288.2" cy="205.5" r="1.65"/><circle cx="311.5" cy="202.8" r="1.65"/><circle cx="312.8" cy="204.2" r="1.65"/><circle cx="324.2" cy="202.0" r="1.65"/><circle cx="328.7" cy="202.0" r="1.65"/><circle cx="320.7" cy="204.2" r="1.65"/><circle cx="317.8" cy="205.8" r="1.65"/><circle cx="302.8" cy="205.3" r="1.65"/><circle cx="307.0" cy="205.8" r="1.65"/><circle cx="308.3" cy="205.3" r="1.65"/><circle cx="329.8" cy="205.5" r="1.65"/><circle cx="336.2" cy="205.0" r="1.65"/><circle cx="347.8" cy="204.7" r="1.65"/><circle cx="352.5" cy="205.3" r="1.65"/><circle cx="353.3" cy="206.7" r="1.65"/><circle cx="361.7" cy="206.2" r="1.65"/><circle cx="366.2" cy="205.0" r="1.65"/><circle cx="372.5" cy="204.2" r="1.65"/><circle cx="278.2" cy="207.0" r="1.65"/><circle cx="300.8" cy="208.7" r="1.65"/><circle cx="303.7" cy="209.2" r="1.65"/><circle cx="315.7" cy="208.7" r="1.65"/><circle cx="319.5" cy="208.0" r="1.65"/><circle cx="322.3" cy="210.0" r="1.65"/><circle cx="325.8" cy="209.7" r="1.65"/><circle cx="327.0" cy="210.8" r="1.65"/><circle cx="337.5" cy="208.3" r="1.65"/><circle cx="338.7" cy="210.0" r="1.65"/><circle cx="342.5" cy="208.7" r="1.65"/><circle cx="352.0" cy="208.7" r="1.65"/><circle cx="358.7" cy="210.0" r="1.65"/><circle cx="364.0" cy="209.2" r="1.65"/><circle cx="372.5" cy="207.5" r="1.65"/><circle cx="308.7" cy="210.5" r="1.65"/><circle cx="294.8" cy="212.0" r="1.65"/><circle cx="275.7" cy="212.0" r="1.65"/><circle cx="277.8" cy="213.0" r="1.65"/><circle cx="312.5" cy="213.0" r="1.65"/><circle cx="325.0" cy="213.3" r="1.65"/><circle cx="332.5" cy="211.7" r="1.65"/><circle cx="339.5" cy="211.3" r="1.65"/><circle cx="373.3" cy="211.7" r="1.65"/><circle cx="305.8" cy="214.2" r="1.65"/><circle cx="285.0" cy="215.0" r="1.65"/><circle cx="288.7" cy="215.3" r="1.65"/><circle cx="290.0" cy="215.8" r="1.65"/><circle cx="277.0" cy="216.3" r="1.65"/><circle cx="277.3" cy="218.3" r="1.65"/><circle cx="333.7" cy="215.8" r="1.65"/><circle cx="334.5" cy="217.5" r="1.65"/><circle cx="352.8" cy="214.7" r="1.65"/><circle cx="354.2" cy="215.8" r="1.65"/><circle cx="360.0" cy="216.3" r="1.65"/><circle cx="366.5" cy="213.7" r="1.65"/><circle cx="285.3" cy="219.2" r="1.65"/><circle cx="285.8" cy="220.3" r="1.65"/><circle cx="298.3" cy="217.2" r="1.65"/><circle cx="300.8" cy="218.8" r="1.65"/><circle cx="302.5" cy="219.5" r="1.65"/><circle cx="312.0" cy="219.2" r="1.65"/><circle cx="312.0" cy="220.8" r="1.65"/><circle cx="327.3" cy="220.5" r="1.65"/><circle cx="320.0" cy="221.3" r="1.65"/><circle cx="344.2" cy="218.3" r="1.65"/><circle cx="341.2" cy="221.2" r="1.65"/><circle cx="349.8" cy="218.7" r="1.65"/><circle cx="357.5" cy="220.0" r="1.65"/><circle cx="359.5" cy="220.8" r="1.65"/><circle cx="352.5" cy="221.7" r="1.65"/><circle cx="373.7" cy="218.7" r="1.65"/><circle cx="311.7" cy="223.0" r="1.65"/><circle cx="313.7" cy="223.0" r="1.65"/><circle cx="321.2" cy="223.3" r="1.65"/><circle cx="324.5" cy="223.7" r="1.65"/><circle cx="326.2" cy="225.0" r="1.65"/><circle cx="322.3" cy="225.0" r="1.65"/><circle cx="320.7" cy="226.7" r="1.65"/><circle cx="350.8" cy="224.2" r="1.65"/><circle cx="348.7" cy="226.3" r="1.65"/><circle cx="355.0" cy="226.3" r="1.65"/><circle cx="365.0" cy="223.8" r="1.65"/><circle cx="289.0" cy="224.7" r="1.65"/><circle cx="265.3" cy="225.8" r="1.65"/><circle cx="275.8" cy="226.7" r="1.65"/><circle cx="266.2" cy="228.7" r="1.65"/><circle cx="275.7" cy="228.3" r="1.65"/><circle cx="262.8" cy="231.3" r="1.65"/><circle cx="286.2" cy="229.7" r="1.65"/><circle cx="309.2" cy="229.7" r="1.65"/><circle cx="321.5" cy="230.0" r="1.65"/><circle cx="270.8" cy="230.3" r="1.65"/><circle cx="273.3" cy="232.5" r="1.65"/><circle cx="277.8" cy="233.0" r="1.65"/><circle cx="279.5" cy="232.5" r="1.65"/><circle cx="278.3" cy="234.7" r="1.65"/><circle cx="309.8" cy="234.2" r="1.65"/><circle cx="275.0" cy="236.2" r="1.65"/><circle cx="267.8" cy="237.2" r="1.65"/><circle cx="295.3" cy="237.0" r="1.65"/><circle cx="280.8" cy="238.7" r="1.65"/><circle cx="266.2" cy="239.2" r="1.65"/><circle cx="291.7" cy="238.7" r="1.65"/><circle cx="336.5" cy="237.8" r="1.65"/><circle cx="283.2" cy="242.0" r="1.65"/><circle cx="302.0" cy="241.2" r="1.65"/><circle cx="291.7" cy="242.8" r="1.65"/><circle cx="292.8" cy="243.3" r="1.65"/><circle cx="293.7" cy="247.5" r="1.65"/><circle cx="268.3" cy="247.5" r="1.65"/><circle cx="344.0" cy="247.8" r="1.65"/><circle cx="381.8" cy="173.8" r="1.65"/><circle cx="401.2" cy="176.7" r="1.65"/><circle cx="374.0" cy="183.3" r="1.65"/><circle cx="381.5" cy="185.0" r="1.65"/><circle cx="384.3" cy="182.8" r="1.65"/><circle cx="395.7" cy="183.0" r="1.65"/><circle cx="377.0" cy="193.7" r="1.65"/><circle cx="378.2" cy="202.5" r="1.65"/><circle cx="379.8" cy="204.7" r="1.65"/><circle cx="381.0" cy="205.8" r="1.65"/><circle cx="374.0" cy="205.0" r="1.65"/><circle cx="381.5" cy="208.0" r="1.65"/><circle cx="382.3" cy="210.0" r="1.65"/><circle cx="374.0" cy="209.2" r="1.65"/><circle cx="377.7" cy="211.2" r="1.65"/><circle cx="394.0" cy="213.0" r="1.65"/><circle cx="403.5" cy="214.7" r="1.65"/><circle cx="374.8" cy="218.0" r="1.65"/><circle cx="379.3" cy="220.8" r="1.65"/><circle cx="379.5" cy="222.8" r="1.65"/><circle cx="395.3" cy="220.0" r="1.65"/><circle cx="404.5" cy="226.5" r="1.65"/><circle cx="423.5" cy="233.5" r="1.65"/><circle cx="429.0" cy="237.8" r="1.65"/><circle cx="418.7" cy="242.2" r="1.65"/><circle cx="441.0" cy="243.7" r="1.65"/><circle cx="404.0" cy="245.0" r="1.65"/><circle cx="407.0" cy="246.7" r="1.65"/><circle cx="257.0" cy="250.3" r="1.65"/><circle cx="249.7" cy="253.7" r="1.65"/><circle cx="253.8" cy="253.7" r="1.65"/><circle cx="260.8" cy="258.0" r="1.65"/><circle cx="238.8" cy="278.7" r="1.65"/><circle cx="260.5" cy="296.5" r="1.65"/><circle cx="276.2" cy="256.2" r="1.65"/><circle cx="292.5" cy="253.0" r="1.65"/><circle cx="291.7" cy="255.0" r="1.65"/><circle cx="356.7" cy="274.3" r="1.65"/><circle cx="275.7" cy="285.3" r="1.65"/><circle cx="267.0" cy="312.8" r="1.65"/><circle cx="448.7" cy="252.7" r="1.65"/><circle cx="451.8" cy="262.2" r="1.65"/><circle cx="429.8" cy="320.5" r="1.65"/><circle cx="303.1" cy="205.5" r="1.65"/><circle cx="310.7" cy="222.8" r="1.65"/><circle cx="274.4" cy="211.1" r="1.65"/><circle cx="384.9" cy="164.7" r="1.65"/><circle cx="190.9" cy="222.8" r="1.65"/><circle cx="321.3" cy="219.9" r="1.65"/><circle cx="237.6" cy="119.9" r="1.65"/><circle cx="274.7" cy="220.4" r="1.65"/><circle cx="342.0" cy="211.2" r="1.65"/><circle cx="309.8" cy="190.2" r="1.65"/><circle cx="256.6" cy="231.1" r="1.65"/><circle cx="247.8" cy="197.4" r="1.65"/><circle cx="259.5" cy="174.7" r="1.65"/><circle cx="342.6" cy="189.6" r="1.65"/><circle cx="329.2" cy="197.4" r="1.65"/><circle cx="326.2" cy="198.8" r="1.65"/><circle cx="374.2" cy="217.0" r="1.65"/><circle cx="332.5" cy="211.1" r="1.65"/><circle cx="317.3" cy="203.5" r="1.65"/><circle cx="372.6" cy="212.0" r="1.65"/><circle cx="297.1" cy="166.5" r="1.65"/><circle cx="231.9" cy="172.1" r="1.65"/><circle cx="318.2" cy="203.8" r="1.65"/><circle cx="202.6" cy="138.0" r="1.65"/><circle cx="192.9" cy="136.7" r="1.65"/><circle cx="361.8" cy="196.2" r="1.65"/><circle cx="285.0" cy="190.3" r="1.65"/><circle cx="348.5" cy="224.4" r="1.65"/><circle cx="304.9" cy="208.1" r="1.65"/><circle cx="360.8" cy="198.0" r="1.65"/><circle cx="298.9" cy="196.0" r="1.65"/><circle cx="209.4" cy="179.4" r="1.65"/><circle cx="237.8" cy="126.4" r="1.65"/><circle cx="292.0" cy="160.3" r="1.65"/><circle cx="304.9" cy="209.9" r="1.65"/><circle cx="348.5" cy="162.2" r="1.65"/><circle cx="308.9" cy="181.9" r="1.65"/><circle cx="237.3" cy="118.4" r="1.65"/><circle cx="354.1" cy="216.1" r="1.65"/><circle cx="253.3" cy="167.2" r="1.65"/><circle cx="261.4" cy="188.7" r="1.65"/><circle cx="342.7" cy="222.0" r="1.65"/><circle cx="347.2" cy="200.7" r="1.65"/><circle cx="287.8" cy="217.3" r="1.65"/><circle cx="305.4" cy="206.7" r="1.65"/><circle cx="340.8" cy="208.7" r="1.65"/><circle cx="220.2" cy="151.9" r="1.65"/><circle cx="311.7" cy="200.9" r="1.65"/><circle cx="345.8" cy="197.1" r="1.65"/><circle cx="327.4" cy="219.0" r="1.65"/><circle cx="341.6" cy="177.5" r="1.65"/><circle cx="311.1" cy="201.4" r="1.65"/><circle cx="198.6" cy="146.9" r="1.65"/><circle cx="296.5" cy="181.3" r="1.65"/><circle cx="277.2" cy="172.0" r="1.65"/><circle cx="248.5" cy="167.3" r="1.65"/><circle cx="288.7" cy="216.4" r="1.65"/><circle cx="355.1" cy="183.4" r="1.65"/><circle cx="371.6" cy="206.5" r="1.65"/><circle cx="311.3" cy="202.8" r="1.65"/><circle cx="326.2" cy="201.2" r="1.65"/><circle cx="309.6" cy="205.2" r="1.65"/><circle cx="372.6" cy="203.7" r="1.65"/><circle cx="252.0" cy="167.0" r="1.65"/><circle cx="336.3" cy="186.8" r="1.65"/><circle cx="253.4" cy="166.7" r="1.65"/><circle cx="346.6" cy="186.5" r="1.65"/><circle cx="194.4" cy="154.3" r="1.65"/><circle cx="372.4" cy="185.2" r="1.65"/><circle cx="298.5" cy="168.4" r="1.65"/><circle cx="366.1" cy="205.1" r="1.65"/><circle cx="193.6" cy="226.2" r="1.65"/><circle cx="320.4" cy="219.5" r="1.65"/><circle cx="354.2" cy="205.5" r="1.65"/><circle cx="251.2" cy="161.6" r="1.65"/><circle cx="366.3" cy="213.7" r="1.65"/><circle cx="275.5" cy="235.9" r="1.65"/><circle cx="323.7" cy="222.5" r="1.65"/><circle cx="363.0" cy="201.4" r="1.65"/><circle cx="223.1" cy="167.1" r="1.65"/><circle cx="289.9" cy="159.6" r="1.65"/><circle cx="264.4" cy="228.2" r="1.65"/><circle cx="325.9" cy="202.0" r="1.65"/><circle cx="352.3" cy="157.8" r="1.65"/><circle cx="352.4" cy="217.8" r="1.65"/><circle cx="329.1" cy="202.4" r="1.65"/><circle cx="364.4" cy="202.4" r="1.65"/><circle cx="356.1" cy="181.1" r="1.65"/><circle cx="359.7" cy="182.4" r="1.65"/><circle cx="256.3" cy="171.9" r="1.65"/><circle cx="237.3" cy="140.6" r="1.65"/><circle cx="320.9" cy="221.2" r="1.65"/><circle cx="309.3" cy="189.4" r="1.65"/><circle cx="317.7" cy="202.9" r="1.65"/><circle cx="272.4" cy="172.7" r="1.65"/><circle cx="356.8" cy="209.9" r="1.65"/><circle cx="225.8" cy="134.0" r="1.65"/><circle cx="341.3" cy="179.9" r="1.65"/><circle cx="248.5" cy="133.6" r="1.65"/><circle cx="241.3" cy="161.0" r="1.65"/><circle cx="375.5" cy="182.0" r="1.65"/><circle cx="353.5" cy="207.9" r="1.65"/><circle cx="347.3" cy="185.7" r="1.65"/><circle cx="279.0" cy="200.8" r="1.65"/><circle cx="318.3" cy="222.1" r="1.65"/><circle cx="353.4" cy="173.8" r="1.65"/><circle cx="311.2" cy="201.0" r="1.65"/><circle cx="301.3" cy="206.6" r="1.65"/><circle cx="293.4" cy="179.7" r="1.65"/><circle cx="364.7" cy="198.1" r="1.65"/><circle cx="311.3" cy="210.9" r="1.65"/><circle cx="327.1" cy="228.3" r="1.65"/><circle cx="249.7" cy="166.0" r="1.65"/><circle cx="283.9" cy="229.8" r="1.65"/><circle cx="238.8" cy="121.3" r="1.65"/><circle cx="362.4" cy="207.7" r="1.65"/><circle cx="284.1" cy="215.5" r="1.65"/><circle cx="228.0" cy="164.9" r="1.65"/><circle cx="296.7" cy="187.5" r="1.65"/><circle cx="289.9" cy="216.2" r="1.65"/>
</g>
<g stroke="#333" stroke-width="1.07">
<line x1="153.70" y1="434.6" x2="153.70" y2="438.70000000000005"/><line x1="232.83" y1="434.6" x2="232.83" y2="438.70000000000005"/><line x1="311.96" y1="434.6" x2="311.96" y2="438.70000000000005"/><line x1="391.09" y1="434.6" x2="391.09" y2="438.70000000000005"/><line x1="470.22" y1="434.6" x2="470.22" y2="438.70000000000005"/><line x1="549.35" y1="434.6" x2="549.35" y2="438.70000000000005"/>
<line x1="84.9" y1="70.40" x2="89.0" y2="70.40"/><line x1="84.9" y1="149.37" x2="89.0" y2="149.37"/><line x1="84.9" y1="228.34" x2="89.0" y2="228.34"/><line x1="84.9" y1="307.31" x2="89.0" y2="307.31"/><line x1="84.9" y1="386.28" x2="89.0" y2="386.28"/>
</g>
<defs><linearGradient id="lg" x1="0" y1="1" x2="0" y2="0"><stop offset="0" stop-color="#132B43"/><stop offset="0.25" stop-color="#224A6E"/><stop offset="0.5" stop-color="#336B9B"/><stop offset="0.75" stop-color="#448DC9"/><stop offset="1" stop-color="#56B1F7"/></linearGradient></defs>
<rect x="586.3" y="187" width="23" height="115.2" fill="url(#lg)"/>
<g stroke="#fff" stroke-width="0.53">
<line x1="586.3" y1="203.8" x2="590.9" y2="203.8"/><line x1="604.7" y1="203.8" x2="609.3" y2="203.8"/><line x1="586.3" y1="237" x2="590.9" y2="237"/><line x1="604.7" y1="237" x2="609.3" y2="237"/><line x1="586.3" y1="269.6" x2="590.9" y2="269.6"/><line x1="604.7" y1="269.6" x2="609.3" y2="269.6"/>
</g>
</svg>
<svg class="ov" width="672" height="480" viewBox="0 0 672 480">
<g font-size="11.73" fill="#4D4D4D">
<text x="135.30" y="450.7">9.73<tspan dx="0.6" dy="0.9">°</tspan><tspan dx="0.35" dy="-0.9">E</tspan></text><text x="214.43" y="450.7">9.74<tspan dx="0.6" dy="0.9">°</tspan><tspan dx="0.35" dy="-0.9">E</tspan></text><text x="293.56" y="450.7">9.75<tspan dx="0.6" dy="0.9">°</tspan><tspan dx="0.35" dy="-0.9">E</tspan></text><text x="372.69" y="450.7">9.76<tspan dx="0.6" dy="0.9">°</tspan><tspan dx="0.35" dy="-0.9">E</tspan></text><text x="451.82" y="450.7">9.77<tspan dx="0.6" dy="0.9">°</tspan><tspan dx="0.35" dy="-0.9">E</tspan></text><text x="530.95" y="450.7">9.78<tspan dx="0.6" dy="0.9">°</tspan><tspan dx="0.35" dy="-0.9">E</tspan></text>
<text x="45.3" y="74.60">6.14<tspan dx="0.6" dy="0.9">°</tspan><tspan dx="0.35" dy="-0.9">N</tspan></text><text x="45.3" y="153.57">6.13<tspan dx="0.6" dy="0.9">°</tspan><tspan dx="0.35" dy="-0.9">N</tspan></text><text x="45.3" y="232.54">6.12<tspan dx="0.6" dy="0.9">°</tspan><tspan dx="0.35" dy="-0.9">N</tspan></text><text x="45.3" y="311.51">6.11<tspan dx="0.6" dy="0.9">°</tspan><tspan dx="0.35" dy="-0.9">N</tspan></text><text x="45.3" y="390.48">6.10<tspan dx="0.6" dy="0.9">°</tspan><tspan dx="0.35" dy="-0.9">N</tspan></text>
</g>
<text x="89.6" y="19.8" font-size="17.5" fill="#000" textLength="237.2">Nest intensity per km squared</text>
<text x="586.6" y="178" font-size="14.67" fill="#000">mean</text>

<g font-size="11.73" fill="#000">
<text x="617.2" y="208.3" textLength="20.2">300</text><text x="617.2" y="241.5" textLength="20.2">200</text><text x="617.2" y="274.1" textLength="20.2">100</text>
</g>
</svg>
</body></html>
